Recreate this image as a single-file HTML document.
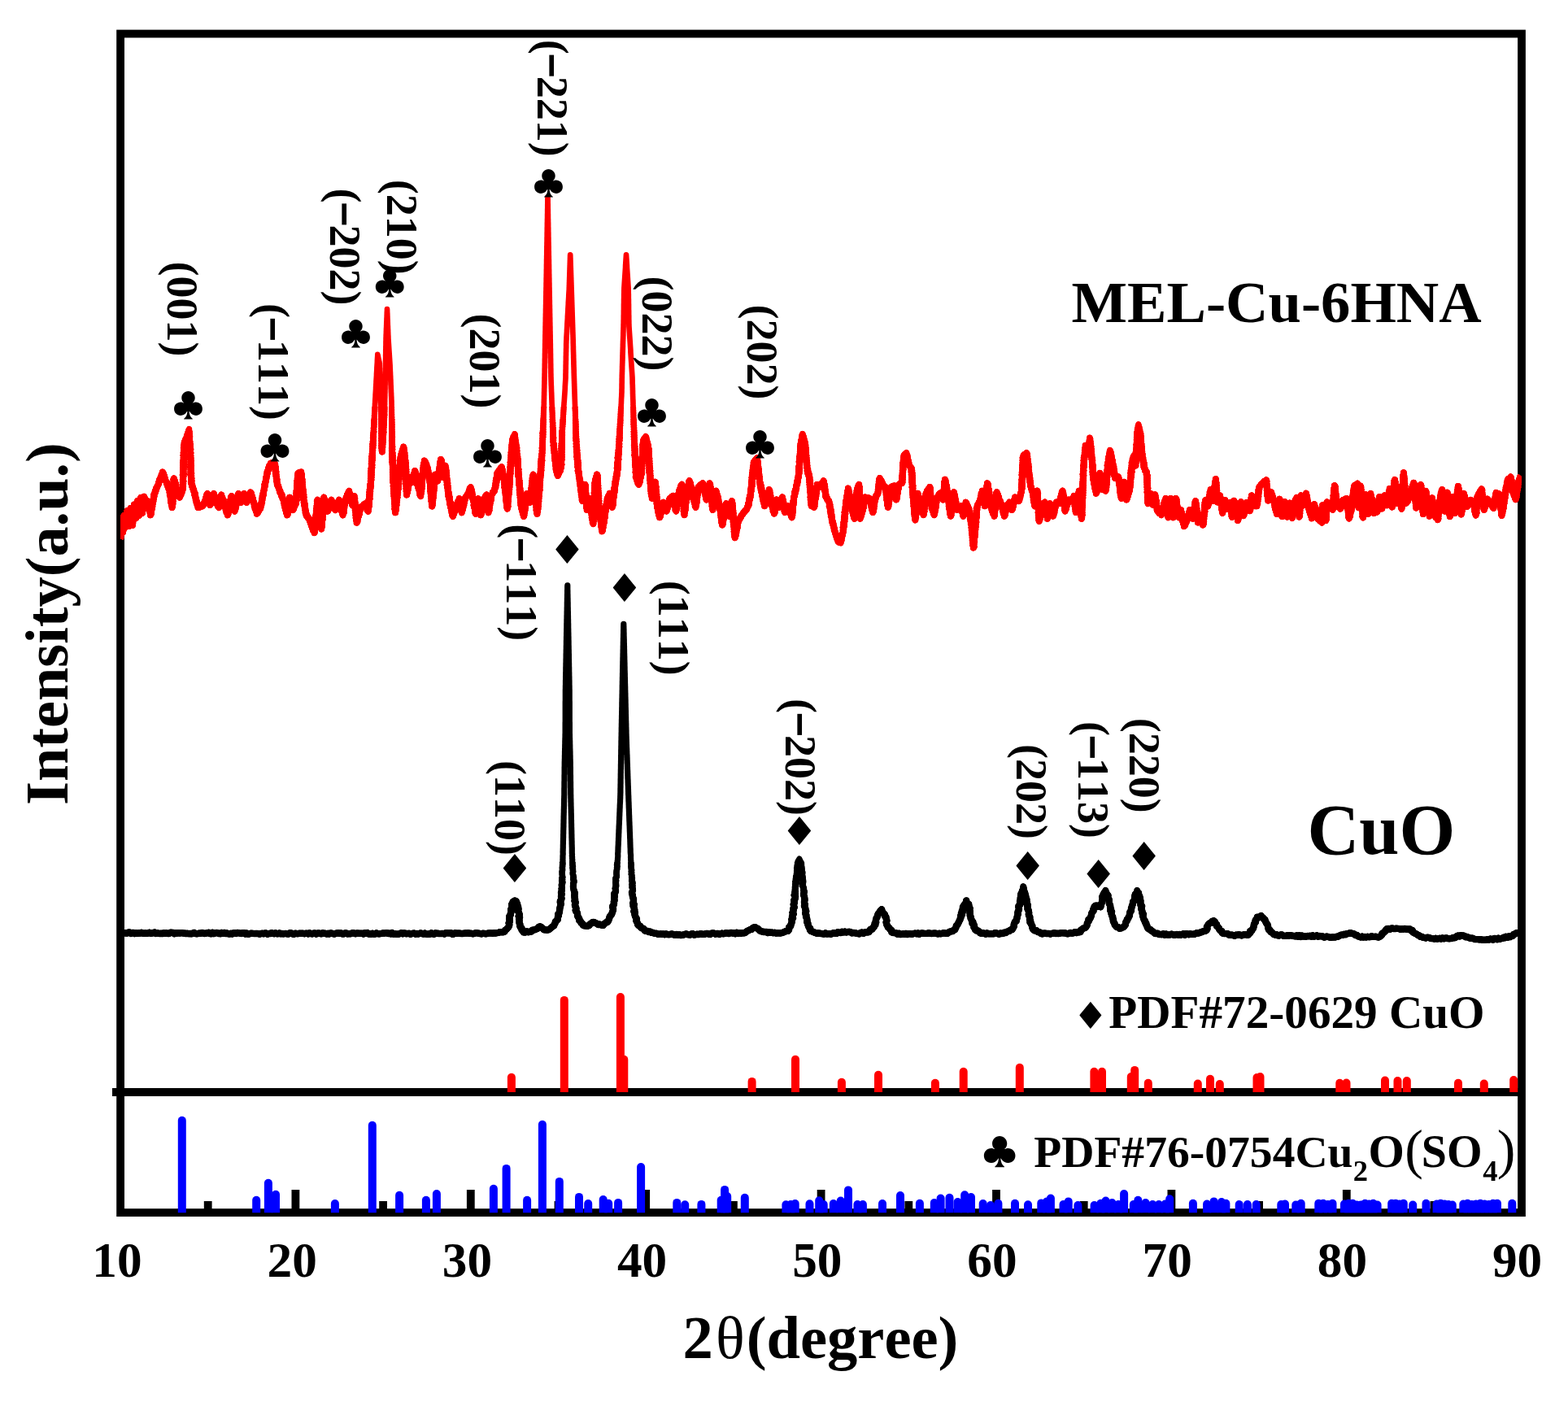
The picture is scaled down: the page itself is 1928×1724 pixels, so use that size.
<!DOCTYPE html>
<html lang="en"><head><meta charset="utf-8"><title>XRD patterns of MEL-Cu-6HNA and CuO</title>
<style>html,body{margin:0;padding:0;background:#fff;overflow:hidden}svg{display:block}text{font-family:"Liberation Serif","DejaVu Serif",serif;font-weight:bold;fill:#000}.sym{font-family:"DejaVu Sans","DejaVu Serif",sans-serif;font-weight:normal}</style></head><body>
<svg width="1928" height="1724" viewBox="0 0 1928 1724" role="img" aria-label="XRD patterns">
<rect x="0" y="0" width="1928" height="1724" fill="#fff"/>
<defs><clipPath id="plot"><rect x="148" y="41.5" width="1723" height="1449.7"/></clipPath><clipPath id="up"><rect x="148" y="41.5" width="1723" height="1301.4"/></clipPath></defs>
<g id="frame" fill="none" stroke="#000" stroke-width="9.8">
<rect x="148.1" y="41.5" width="1722.9" height="1449.6"/>
<line x1="138" y1="1343" x2="1871" y2="1343"/>
</g>
<g id="ticks" stroke="#000" stroke-width="9.8">
<line x1="255.7" y1="1491" x2="255.7" y2="1477"/>
<line x1="363.4" y1="1491" x2="363.4" y2="1463"/>
<line x1="471.1" y1="1491" x2="471.1" y2="1477"/>
<line x1="578.8" y1="1491" x2="578.8" y2="1463"/>
<line x1="686.5" y1="1491" x2="686.5" y2="1477"/>
<line x1="794.2" y1="1491" x2="794.2" y2="1463"/>
<line x1="901.9" y1="1491" x2="901.9" y2="1477"/>
<line x1="1009.6" y1="1491" x2="1009.6" y2="1463"/>
<line x1="1117.3" y1="1491" x2="1117.3" y2="1477"/>
<line x1="1225.0" y1="1491" x2="1225.0" y2="1463"/>
<line x1="1332.7" y1="1491" x2="1332.7" y2="1477"/>
<line x1="1440.4" y1="1491" x2="1440.4" y2="1463"/>
<line x1="1548.1" y1="1491" x2="1548.1" y2="1477"/>
<line x1="1655.8" y1="1491" x2="1655.8" y2="1463"/>
<line x1="1763.5" y1="1491" x2="1763.5" y2="1477"/>
</g>
<g id="ref-cuo" stroke="#ff0000" stroke-width="10" stroke-linecap="round" clip-path="url(#up)">
<line x1="628.9" y1="1351" x2="628.9" y2="1324.8"/>
<line x1="693.8" y1="1351" x2="693.8" y2="1229.9"/>
<line x1="762.9" y1="1351" x2="762.9" y2="1226.0"/>
<line x1="767.3" y1="1351" x2="767.3" y2="1302.7"/>
<line x1="924.6" y1="1351" x2="924.6" y2="1329.9"/>
<line x1="978.0" y1="1351" x2="978.0" y2="1302.7"/>
<line x1="1034.9" y1="1351" x2="1034.9" y2="1330.7"/>
<line x1="1080.0" y1="1351" x2="1080.0" y2="1321.7"/>
<line x1="1149.9" y1="1351" x2="1149.9" y2="1331.8"/>
<line x1="1184.7" y1="1351" x2="1184.7" y2="1317.8"/>
<line x1="1253.8" y1="1351" x2="1253.8" y2="1312.7"/>
<line x1="1345.4" y1="1351" x2="1345.4" y2="1317.8"/>
<line x1="1355.0" y1="1351" x2="1355.0" y2="1317.8"/>
<line x1="1390.8" y1="1351" x2="1390.8" y2="1324.0"/>
<line x1="1395.2" y1="1351" x2="1395.2" y2="1315.9"/>
<line x1="1411.8" y1="1351" x2="1411.8" y2="1331.8"/>
<line x1="1472.8" y1="1351" x2="1472.8" y2="1332.5"/>
<line x1="1488.0" y1="1351" x2="1488.0" y2="1326.8"/>
<line x1="1499.8" y1="1351" x2="1499.8" y2="1333.0"/>
<line x1="1545.5" y1="1351" x2="1545.5" y2="1325.0"/>
<line x1="1549.5" y1="1351" x2="1549.5" y2="1324.0"/>
<line x1="1647.3" y1="1351" x2="1647.3" y2="1331.8"/>
<line x1="1655.5" y1="1351" x2="1655.5" y2="1331.5"/>
<line x1="1703.0" y1="1351" x2="1703.0" y2="1328.5"/>
<line x1="1718.5" y1="1351" x2="1718.5" y2="1329.0"/>
<line x1="1729.8" y1="1351" x2="1729.8" y2="1329.0"/>
<line x1="1793.0" y1="1351" x2="1793.0" y2="1331.8"/>
<line x1="1824.8" y1="1351" x2="1824.8" y2="1332.5"/>
<line x1="1861.2" y1="1351" x2="1861.2" y2="1328.0"/>
</g>
<g id="ref-cu2oso4" stroke="#0000ff" stroke-width="10" stroke-linecap="round" clip-path="url(#plot)">
<line x1="223.8" y1="1499.2" x2="223.8" y2="1377.8"/>
<line x1="315.2" y1="1499.2" x2="315.2" y2="1475.8"/>
<line x1="329.9" y1="1499.2" x2="329.9" y2="1454.8"/>
<line x1="339.0" y1="1499.2" x2="339.0" y2="1468.8"/>
<line x1="411.9" y1="1499.2" x2="411.9" y2="1480.0"/>
<line x1="457.8" y1="1499.2" x2="457.8" y2="1383.7"/>
<line x1="491.1" y1="1499.2" x2="491.1" y2="1469.7"/>
<line x1="523.9" y1="1499.2" x2="523.9" y2="1475.8"/>
<line x1="536.9" y1="1499.2" x2="536.9" y2="1468.0"/>
<line x1="606.9" y1="1499.2" x2="606.9" y2="1461.8"/>
<line x1="622.6" y1="1499.2" x2="622.6" y2="1436.9"/>
<line x1="648.1" y1="1499.2" x2="648.1" y2="1475.8"/>
<line x1="666.9" y1="1499.2" x2="666.9" y2="1382.8"/>
<line x1="687.8" y1="1499.2" x2="687.8" y2="1452.9"/>
<line x1="712.0" y1="1499.2" x2="712.0" y2="1471.9"/>
<line x1="723.2" y1="1499.2" x2="723.2" y2="1480.0"/>
<line x1="741.7" y1="1499.2" x2="741.7" y2="1475.0"/>
<line x1="748.2" y1="1499.2" x2="748.2" y2="1479.7"/>
<line x1="760.1" y1="1499.2" x2="760.1" y2="1478.9"/>
<line x1="788.1" y1="1499.2" x2="788.1" y2="1435.0"/>
<line x1="832.3" y1="1499.2" x2="832.3" y2="1478.9"/>
<line x1="842.2" y1="1499.2" x2="842.2" y2="1481.3"/>
<line x1="862.4" y1="1499.2" x2="862.4" y2="1480.9"/>
<line x1="886.7" y1="1499.2" x2="886.7" y2="1475.8"/>
<line x1="891.1" y1="1499.2" x2="891.1" y2="1462.9"/>
<line x1="894.2" y1="1499.2" x2="894.2" y2="1471.0"/>
<line x1="915.8" y1="1499.2" x2="915.8" y2="1472.7"/>
<line x1="966.4" y1="1499.2" x2="966.4" y2="1481.3"/>
<line x1="972.3" y1="1499.2" x2="972.3" y2="1481.0"/>
<line x1="977.7" y1="1499.2" x2="977.7" y2="1480.0"/>
<line x1="995.5" y1="1499.2" x2="995.5" y2="1480.3"/>
<line x1="1007.2" y1="1499.2" x2="1007.2" y2="1476.3"/>
<line x1="1012.7" y1="1499.2" x2="1012.7" y2="1481.0"/>
<line x1="1024.8" y1="1499.2" x2="1024.8" y2="1480.0"/>
<line x1="1033.7" y1="1499.2" x2="1033.7" y2="1476.6"/>
<line x1="1043.0" y1="1499.2" x2="1043.0" y2="1463.4"/>
<line x1="1054.4" y1="1499.2" x2="1054.4" y2="1481.0"/>
<line x1="1060.9" y1="1499.2" x2="1060.9" y2="1481.0"/>
<line x1="1085.0" y1="1499.2" x2="1085.0" y2="1480.0"/>
<line x1="1107.0" y1="1499.2" x2="1107.0" y2="1470.0"/>
<line x1="1130.9" y1="1499.2" x2="1130.9" y2="1479.7"/>
<line x1="1148.8" y1="1499.2" x2="1148.8" y2="1479.0"/>
<line x1="1156.6" y1="1499.2" x2="1156.6" y2="1473.5"/>
<line x1="1167.5" y1="1499.2" x2="1167.5" y2="1472.7"/>
<line x1="1177.6" y1="1499.2" x2="1177.6" y2="1478.0"/>
<line x1="1186.2" y1="1499.2" x2="1186.2" y2="1469.3"/>
<line x1="1194.0" y1="1499.2" x2="1194.0" y2="1472.0"/>
<line x1="1208.7" y1="1499.2" x2="1208.7" y2="1480.0"/>
<line x1="1218.0" y1="1499.2" x2="1218.0" y2="1482.0"/>
<line x1="1227.4" y1="1499.2" x2="1227.4" y2="1479.7"/>
<line x1="1248.0" y1="1499.2" x2="1248.0" y2="1479.7"/>
<line x1="1264.0" y1="1499.2" x2="1264.0" y2="1481.3"/>
<line x1="1280.3" y1="1499.2" x2="1280.3" y2="1479.4"/>
<line x1="1287.2" y1="1499.2" x2="1287.2" y2="1477.4"/>
<line x1="1291.9" y1="1499.2" x2="1291.9" y2="1473.5"/>
<line x1="1307.5" y1="1499.2" x2="1307.5" y2="1481.0"/>
<line x1="1313.7" y1="1499.2" x2="1313.7" y2="1477.4"/>
<line x1="1325.4" y1="1499.2" x2="1325.4" y2="1482.0"/>
<line x1="1345.6" y1="1499.2" x2="1345.6" y2="1482.0"/>
<line x1="1353.4" y1="1499.2" x2="1353.4" y2="1479.7"/>
<line x1="1359.6" y1="1499.2" x2="1359.6" y2="1476.6"/>
<line x1="1367.4" y1="1499.2" x2="1367.4" y2="1479.0"/>
<line x1="1375.1" y1="1499.2" x2="1375.1" y2="1481.0"/>
<line x1="1382.1" y1="1499.2" x2="1382.1" y2="1468.0"/>
<line x1="1393.8" y1="1499.2" x2="1393.8" y2="1481.0"/>
<line x1="1399.3" y1="1499.2" x2="1399.3" y2="1475.8"/>
<line x1="1408.6" y1="1499.2" x2="1408.6" y2="1479.0"/>
<line x1="1417.2" y1="1499.2" x2="1417.2" y2="1481.0"/>
<line x1="1424.9" y1="1499.2" x2="1424.9" y2="1481.0"/>
<line x1="1432.7" y1="1499.2" x2="1432.7" y2="1480.5"/>
<line x1="1438.2" y1="1499.2" x2="1438.2" y2="1474.3"/>
<line x1="1466.9" y1="1499.2" x2="1466.9" y2="1479.7"/>
<line x1="1484.1" y1="1499.2" x2="1484.1" y2="1480.5"/>
<line x1="1492.6" y1="1499.2" x2="1492.6" y2="1477.4"/>
<line x1="1502.0" y1="1499.2" x2="1502.0" y2="1478.0"/>
<line x1="1507.4" y1="1499.2" x2="1507.4" y2="1479.7"/>
<line x1="1523.7" y1="1499.2" x2="1523.7" y2="1481.0"/>
<line x1="1533.9" y1="1499.2" x2="1533.9" y2="1481.0"/>
<line x1="1544.7" y1="1499.2" x2="1544.7" y2="1481.0"/>
<line x1="1575.3" y1="1499.2" x2="1575.3" y2="1481.0"/>
<line x1="1580.0" y1="1499.2" x2="1580.0" y2="1480.5"/>
<line x1="1593.3" y1="1499.2" x2="1593.3" y2="1481.5"/>
<line x1="1599.7" y1="1499.2" x2="1599.7" y2="1479.7"/>
<line x1="1621.3" y1="1499.2" x2="1621.3" y2="1479.7"/>
<line x1="1627.0" y1="1499.2" x2="1627.0" y2="1479.7"/>
<line x1="1632.8" y1="1499.2" x2="1632.8" y2="1481.0"/>
<line x1="1638.5" y1="1499.2" x2="1638.5" y2="1479.7"/>
<line x1="1653.0" y1="1499.2" x2="1653.0" y2="1480.5"/>
<line x1="1658.1" y1="1499.2" x2="1658.1" y2="1479.7"/>
<line x1="1663.2" y1="1499.2" x2="1663.2" y2="1479.7"/>
<line x1="1668.2" y1="1499.2" x2="1668.2" y2="1481.5"/>
<line x1="1673.3" y1="1499.2" x2="1673.3" y2="1481.5"/>
<line x1="1678.4" y1="1499.2" x2="1678.4" y2="1479.7"/>
<line x1="1683.4" y1="1499.2" x2="1683.4" y2="1480.5"/>
<line x1="1688.5" y1="1499.2" x2="1688.5" y2="1479.7"/>
<line x1="1693.6" y1="1499.2" x2="1693.6" y2="1481.5"/>
<line x1="1711.2" y1="1499.2" x2="1711.2" y2="1479.7"/>
<line x1="1716.1" y1="1499.2" x2="1716.1" y2="1479.7"/>
<line x1="1720.9" y1="1499.2" x2="1720.9" y2="1480.5"/>
<line x1="1725.8" y1="1499.2" x2="1725.8" y2="1479.7"/>
<line x1="1737.2" y1="1499.2" x2="1737.2" y2="1481.5"/>
<line x1="1753.5" y1="1499.2" x2="1753.5" y2="1479.7"/>
<line x1="1766.6" y1="1499.2" x2="1766.6" y2="1480.5"/>
<line x1="1771.4" y1="1499.2" x2="1771.4" y2="1479.7"/>
<line x1="1776.2" y1="1499.2" x2="1776.2" y2="1480.5"/>
<line x1="1781.0" y1="1499.2" x2="1781.0" y2="1481.0"/>
<line x1="1785.8" y1="1499.2" x2="1785.8" y2="1481.5"/>
<line x1="1799.3" y1="1499.2" x2="1799.3" y2="1480.5"/>
<line x1="1804.5" y1="1499.2" x2="1804.5" y2="1479.7"/>
<line x1="1809.7" y1="1499.2" x2="1809.7" y2="1481.0"/>
<line x1="1814.9" y1="1499.2" x2="1814.9" y2="1480.5"/>
<line x1="1820.2" y1="1499.2" x2="1820.2" y2="1479.7"/>
<line x1="1825.4" y1="1499.2" x2="1825.4" y2="1480.5"/>
<line x1="1830.6" y1="1499.2" x2="1830.6" y2="1481.0"/>
<line x1="1835.8" y1="1499.2" x2="1835.8" y2="1479.7"/>
<line x1="1841.0" y1="1499.2" x2="1841.0" y2="1479.7"/>
<line x1="1859.3" y1="1499.2" x2="1859.3" y2="1479.7"/>
</g>
<defs><polyline id="cuo-data" points="148.0,1147.3 149.6,1146.9 151.2,1147.4 152.9,1147.1 154.5,1147.5 156.1,1147.5 157.7,1146.6 159.3,1146.5 161.0,1147.9 162.6,1146.9 164.2,1146.9 165.8,1148.1 167.4,1147.3 169.0,1147.9 170.7,1147.3 172.3,1147.6 173.9,1146.8 175.5,1147.6 177.1,1147.9 178.8,1147.4 180.4,1147.7 182.0,1147.6 183.6,1146.7 185.2,1147.8 186.9,1147.5 188.5,1147.1 190.1,1146.6 191.7,1148.0 193.3,1147.3 195.0,1147.7 196.6,1148.0 198.2,1147.7 199.8,1148.1 201.4,1147.2 203.0,1147.9 204.7,1147.3 206.3,1148.1 207.9,1148.0 209.5,1146.8 211.1,1146.8 212.8,1147.0 214.4,1148.2 216.0,1147.3 217.6,1147.6 219.2,1147.1 220.9,1147.5 222.5,1147.3 224.1,1147.2 225.7,1147.6 227.3,1147.6 229.0,1148.1 230.6,1147.8 232.2,1148.2 233.8,1148.0 235.4,1148.3 237.0,1147.7 238.7,1146.9 240.3,1148.1 241.9,1148.2 243.5,1148.1 245.1,1147.6 246.8,1147.8 248.4,1147.0 250.0,1147.5 251.6,1148.0 253.2,1147.6 254.8,1147.2 256.5,1146.8 258.1,1148.1 259.7,1148.3 261.3,1146.9 262.9,1148.1 264.5,1147.4 266.1,1147.0 267.7,1147.3 269.4,1148.0 271.0,1148.2 272.6,1146.9 274.2,1147.8 275.8,1146.9 277.4,1148.0 279.0,1147.4 280.6,1148.3 282.3,1148.5 283.9,1147.7 285.5,1148.5 287.1,1147.4 288.7,1147.1 290.3,1147.9 291.9,1147.0 293.6,1147.3 295.2,1147.6 296.8,1148.0 298.4,1147.2 300.0,1147.1 301.6,1148.4 303.2,1147.5 304.8,1148.6 306.4,1148.5 308.1,1147.7 309.7,1147.8 311.3,1147.9 312.9,1148.1 314.5,1148.0 316.1,1148.0 317.7,1148.1 319.4,1148.6 321.0,1147.9 322.6,1147.8 324.2,1148.3 325.8,1147.5 327.4,1147.6 329.0,1148.7 330.6,1148.0 332.3,1148.1 333.9,1147.2 335.5,1147.9 337.1,1148.2 338.7,1147.3 340.3,1148.2 341.9,1148.3 343.6,1147.4 345.2,1148.3 346.8,1148.0 348.4,1148.4 350.0,1148.1 351.6,1147.9 353.2,1148.4 354.8,1148.5 356.4,1147.3 358.1,1147.4 359.7,1148.4 361.3,1148.8 362.9,1147.7 364.5,1148.0 366.1,1148.2 367.7,1147.8 369.4,1147.8 371.0,1147.7 372.6,1147.8 374.2,1148.2 375.8,1147.7 377.4,1147.8 379.0,1148.4 380.6,1147.3 382.3,1148.1 383.9,1148.4 385.5,1147.7 387.1,1147.5 388.7,1148.5 390.3,1147.6 391.9,1147.5 393.5,1147.9 395.2,1148.3 396.8,1147.3 398.4,1147.7 400.0,1147.7 401.6,1148.5 403.2,1147.8 404.8,1148.5 406.5,1147.4 408.1,1147.7 409.7,1148.2 411.3,1148.5 412.9,1147.8 414.5,1147.5 416.1,1147.3 417.7,1147.9 419.4,1147.4 421.0,1148.4 422.6,1148.4 424.2,1147.4 425.8,1147.5 427.4,1148.4 429.0,1148.1 430.6,1148.3 432.3,1147.6 433.9,1147.3 435.5,1147.5 437.1,1148.3 438.7,1147.5 440.3,1147.6 441.9,1147.7 443.5,1147.7 445.2,1147.7 446.8,1148.5 448.4,1147.3 450.0,1147.8 451.6,1147.0 453.2,1148.5 454.8,1148.4 456.4,1148.6 458.0,1147.7 459.6,1148.6 461.2,1148.5 462.9,1147.4 464.5,1148.2 466.1,1148.4 467.7,1148.1 469.3,1147.9 470.9,1147.5 472.5,1147.6 474.1,1147.4 475.7,1147.2 477.3,1148.0 478.9,1147.6 480.5,1148.4 482.1,1147.2 483.7,1148.6 485.4,1148.2 487.0,1148.6 488.6,1148.6 490.2,1148.6 491.8,1148.1 493.4,1147.2 495.0,1148.3 496.6,1147.4 498.2,1147.6 499.8,1148.2 501.4,1148.0 503.0,1147.8 504.6,1148.7 506.2,1148.2 507.9,1147.7 509.5,1147.6 511.1,1148.6 512.7,1148.0 514.3,1148.5 515.9,1147.8 517.5,1147.5 519.1,1148.1 520.7,1148.5 522.3,1147.5 523.9,1148.5 525.5,1148.7 527.1,1148.5 528.7,1148.6 530.4,1147.3 532.0,1148.3 533.6,1148.7 535.2,1147.4 536.8,1147.7 538.4,1147.7 540.0,1148.1 541.6,1148.1 543.2,1148.0 544.9,1148.0 546.5,1148.5 548.1,1147.2 549.7,1147.3 551.4,1147.4 553.0,1147.4 554.6,1147.3 556.3,1148.7 557.9,1148.5 559.5,1147.3 561.1,1147.9 562.7,1147.6 564.4,1147.6 566.0,1147.7 567.6,1148.1 569.3,1148.0 570.9,1147.6 572.5,1147.4 574.1,1147.6 575.7,1147.2 577.4,1147.9 579.0,1147.8 580.0,1147.9 581.7,1148.3 583.5,1147.7 585.2,1147.2 586.9,1147.4 588.6,1147.7 590.4,1148.1 592.1,1148.4 593.8,1147.7 595.6,1147.9 597.3,1148.3 599.0,1147.9 600.7,1147.5 602.5,1147.4 604.2,1147.5 605.9,1147.7 607.7,1147.2 609.4,1147.5 611.1,1147.1 613.0,1146.8 614.8,1146.1 616.7,1146.3 618.6,1146.2 620.5,1145.6 621.1,1143.8 622.7,1142.8 623.9,1141.4 625.1,1140.1 626.0,1138.5 626.3,1136.9 625.6,1135.1 626.7,1133.5 626.8,1131.8 626.2,1130.0 626.7,1128.4 626.4,1126.6 627.8,1125.1 627.8,1123.4 628.4,1121.8 628.5,1120.1 628.2,1118.3 628.9,1116.9 629.4,1115.3 629.5,1113.7 629.2,1112.0 630.3,1110.6 630.6,1109.0 632.9,1107.5 634.6,1108.1 635.2,1109.8 636.1,1111.3 635.5,1113.2 637.0,1114.6 637.2,1116.3 637.5,1118.0 636.6,1119.9 637.6,1121.5 638.3,1123.1 638.8,1124.8 637.7,1126.6 639.0,1128.2 638.1,1130.0 638.6,1131.7 638.5,1133.4 638.6,1135.1 639.4,1136.7 639.2,1138.5 639.9,1140.1 641.5,1141.3 641.5,1143.5 642.8,1144.8 643.8,1146.4 645.8,1146.5 647.6,1145.3 649.7,1146.2 651.6,1145.6 653.4,1145.6 654.4,1143.7 656.1,1143.6 657.8,1143.2 659.4,1142.4 661.2,1141.7 662.3,1140.0 664.0,1139.3 665.9,1140.3 667.4,1141.6 668.7,1143.2 670.8,1143.4 672.8,1143.6 674.9,1143.2 676.4,1141.9 677.9,1140.6 679.5,1139.4 681.1,1138.3 681.7,1136.6 682.6,1135.1 682.9,1133.3 684.2,1132.1 685.7,1130.9 685.8,1129.0 686.0,1127.4 686.9,1125.9 686.3,1124.1 687.5,1122.7 687.9,1121.1 688.1,1119.5 688.2,1117.9 688.5,1116.3 688.9,1114.7 689.3,1113.0 689.8,1111.4 688.8,1109.6 688.9,1107.9 690.1,1106.3 690.5,1104.7 690.0,1102.9 690.1,1101.2 690.7,1099.6 690.0,1097.8 690.3,1096.2 690.8,1094.5 690.4,1092.9 691.0,1091.3 690.7,1089.6 690.6,1088.0 691.3,1086.4 691.6,1084.8 690.9,1083.1 691.4,1081.5 691.1,1079.9 691.6,1078.3 691.4,1076.7 691.2,1075.0 691.2,1073.4 691.1,1071.8 691.5,1070.2 691.5,1068.6 691.4,1066.9 691.6,1065.3 691.6,1063.7 691.9,1062.1 691.6,1060.5 692.1,1058.8 691.9,1057.2 692.0,1055.6 692.0,1054.0 692.0,1052.4 692.2,1050.7 692.2,1049.1 692.1,1047.5 692.2,1045.9 692.2,1044.3 692.3,1042.6 692.3,1041.0 692.3,1039.4 692.4,1037.8 692.4,1036.1 692.4,1034.5 692.5,1032.9 692.5,1031.3 692.6,1029.7 692.6,1028.0 692.6,1026.4 692.7,1024.8 692.7,1023.2 692.7,1021.6 692.8,1019.9 692.8,1018.3 692.9,1016.7 692.9,1015.1 692.9,1013.5 693.0,1011.8 693.0,1010.2 693.0,1008.6 693.1,1007.0 693.1,1005.4 693.1,1003.7 693.2,1002.1 693.2,1000.5 693.3,998.9 693.3,997.2 693.3,995.6 693.4,994.0 693.4,992.4 693.5,990.8 693.5,989.1 693.5,987.5 693.6,985.9 693.6,984.3 693.6,982.7 693.7,981.0 693.7,979.4 693.8,977.8 693.8,976.2 693.8,974.6 693.8,972.9 693.8,971.3 693.8,969.7 693.9,968.1 693.9,966.5 693.9,964.8 693.9,963.2 693.9,961.6 694.0,960.0 694.0,958.3 694.0,956.7 694.0,955.1 694.0,953.5 694.1,951.9 694.1,950.2 694.1,948.6 694.1,947.0 694.1,945.4 694.1,943.8 694.2,942.1 694.2,940.5 694.2,938.9 694.2,937.3 694.3,935.7 694.3,934.0 694.4,932.4 694.4,930.8 694.4,929.2 694.5,927.6 694.5,925.9 694.5,924.3 694.6,922.7 694.6,921.1 694.7,919.5 694.7,917.8 694.7,916.2 694.8,914.6 694.8,913.0 694.8,911.3 694.9,909.7 694.9,908.1 695.0,906.5 695.0,904.9 695.0,903.2 695.1,901.6 695.1,900.0 695.1,898.4 695.1,896.8 695.1,895.2 695.1,893.5 695.1,891.9 695.1,890.3 695.1,888.7 695.2,887.1 695.2,885.5 695.2,883.9 695.2,882.3 695.2,880.6 695.2,879.0 695.2,877.4 695.2,875.8 695.2,874.2 695.2,872.6 695.2,871.0 695.2,869.4 695.2,867.7 695.2,866.1 695.2,864.5 695.2,862.9 695.3,861.3 695.3,859.7 695.3,858.1 695.3,856.5 695.3,854.8 695.3,853.2 695.3,851.6 695.3,850.0 695.3,848.4 695.4,846.7 695.4,845.1 695.4,843.5 695.5,841.9 695.5,840.2 695.5,838.6 695.5,837.0 695.6,835.3 695.6,833.7 695.6,832.1 695.7,830.5 695.7,828.8 695.7,827.2 695.8,825.6 695.8,824.0 695.8,822.3 695.8,820.7 695.9,819.1 695.9,817.4 695.9,815.8 696.0,814.2 696.0,812.6 696.0,810.9 696.1,809.3 696.1,807.7 696.1,806.0 696.1,804.4 696.2,802.8 696.2,801.2 696.2,799.5 696.3,797.9 696.3,796.3 696.3,794.7 696.4,793.0 696.4,791.4 696.4,789.8 696.4,788.1 696.5,786.5 696.5,784.9 696.5,783.3 696.6,781.6 696.6,780.0 696.6,778.4 696.7,776.7 696.7,775.1 696.7,773.5 696.8,771.9 696.8,770.2 696.8,768.6 696.8,767.0 696.9,765.4 696.9,763.7 696.9,762.1 697.0,760.5 697.0,758.8 697.0,757.2 697.1,755.6 697.1,754.0 697.1,752.3 697.2,750.7 697.2,749.1 697.2,747.5 697.3,745.8 697.3,744.2 697.3,742.6 697.3,741.0 697.4,739.3 697.4,737.7 697.4,736.1 697.5,734.4 697.5,732.8 697.5,731.2 697.6,729.6 697.6,727.9 697.6,726.3 697.7,724.7 697.7,723.1 697.7,721.4 697.8,719.8 697.8,721.4 697.8,723.1 697.8,724.7 697.9,726.3 697.9,727.9 697.9,729.6 698.0,731.2 698.0,732.8 698.0,734.4 698.1,736.1 698.1,737.7 698.1,739.3 698.2,741.0 698.2,742.6 698.2,744.2 698.2,745.8 698.3,747.5 698.3,749.1 698.3,750.7 698.4,752.3 698.4,754.0 698.4,755.6 698.5,757.2 698.5,758.8 698.5,760.5 698.6,762.1 698.6,763.7 698.6,765.4 698.7,767.0 698.7,768.6 698.7,770.2 698.7,771.9 698.8,773.5 698.8,775.1 698.8,776.7 698.9,778.4 698.9,780.0 698.9,781.6 699.0,783.3 699.0,784.9 699.0,786.5 699.1,788.1 699.1,789.8 699.1,791.4 699.1,793.0 699.2,794.7 699.2,796.3 699.2,797.9 699.3,799.5 699.3,801.2 699.3,802.8 699.4,804.4 699.4,806.0 699.4,807.7 699.4,809.3 699.5,810.9 699.5,812.6 699.5,814.2 699.6,815.8 699.6,817.4 699.6,819.1 699.7,820.7 699.7,822.3 699.7,824.0 699.7,825.6 699.8,827.2 699.8,828.8 699.8,830.5 699.9,832.1 699.9,833.7 699.9,835.3 700.0,837.0 700.0,838.6 700.0,840.2 700.0,841.9 700.1,843.5 700.1,845.1 700.1,846.7 700.2,848.4 700.2,850.0 700.2,851.6 700.2,853.2 700.2,854.8 700.2,856.5 700.2,858.1 700.2,859.7 700.2,861.3 700.3,862.9 700.3,864.5 700.3,866.1 700.3,867.7 700.3,869.4 700.3,871.0 700.3,872.6 700.3,874.2 700.3,875.8 700.3,877.4 700.3,879.0 700.3,880.6 700.3,882.3 700.3,883.9 700.3,885.5 700.3,887.1 700.4,888.7 700.4,890.3 700.4,891.9 700.4,893.5 700.4,895.2 700.4,896.8 700.4,898.4 700.4,900.0 700.4,901.6 700.5,903.2 700.5,904.9 700.5,906.5 700.6,908.1 700.6,909.7 700.7,911.3 700.7,913.0 700.7,914.6 700.8,916.2 700.8,917.8 700.8,919.5 700.9,921.1 700.9,922.7 701.0,924.3 701.0,925.9 701.0,927.6 701.1,929.2 701.1,930.8 701.1,932.4 701.2,934.0 701.2,935.7 701.3,937.3 701.3,938.9 701.3,940.5 701.3,942.1 701.4,943.8 701.4,945.4 701.4,947.0 701.4,948.6 701.4,950.2 701.4,951.9 701.5,953.5 701.5,955.1 701.5,956.7 701.5,958.3 701.5,960.0 701.6,961.6 701.6,963.2 701.6,964.8 701.6,966.5 701.6,968.1 701.7,969.7 701.7,971.3 701.7,972.9 701.7,974.6 701.7,976.2 701.8,977.8 701.8,979.4 701.8,981.0 701.9,982.7 701.9,984.3 701.9,985.9 702.0,987.5 702.0,989.1 702.0,990.8 702.1,992.4 702.1,994.0 702.2,995.6 702.2,997.2 702.2,998.9 702.3,1000.5 702.3,1002.1 702.4,1003.7 702.4,1005.4 702.4,1007.0 702.5,1008.6 702.5,1010.2 702.5,1011.8 702.6,1013.5 702.6,1015.1 702.6,1016.7 702.7,1018.3 702.7,1019.9 702.8,1021.6 702.8,1023.2 702.8,1024.8 702.9,1026.4 702.9,1028.0 702.9,1029.7 703.0,1031.3 703.0,1032.9 703.1,1034.5 703.1,1036.1 703.1,1037.8 703.2,1039.4 703.2,1041.0 703.3,1042.6 703.3,1044.3 703.3,1045.9 703.3,1047.5 703.3,1049.1 703.5,1050.7 703.3,1052.4 703.6,1054.0 703.5,1055.6 703.8,1057.2 703.6,1058.8 703.9,1060.5 703.9,1062.1 703.9,1063.7 704.4,1065.3 704.0,1067.0 704.4,1068.6 704.4,1070.2 704.6,1071.8 704.3,1073.4 704.4,1075.1 704.9,1076.7 705.2,1078.3 705.1,1079.9 705.1,1081.5 705.6,1083.1 705.6,1084.8 704.9,1086.4 705.1,1088.0 704.8,1089.7 704.9,1091.3 705.1,1092.9 705.7,1094.5 706.1,1096.1 706.6,1097.7 706.5,1099.4 706.4,1101.1 706.5,1102.8 706.6,1104.4 707.1,1106.0 706.5,1107.8 707.6,1109.3 707.4,1111.0 706.9,1112.7 707.2,1114.3 708.2,1115.9 708.5,1117.6 707.7,1119.3 708.4,1120.9 709.7,1122.2 710.1,1123.9 710.0,1125.7 710.6,1127.3 711.7,1128.7 712.4,1130.2 712.3,1132.0 713.9,1132.9 714.5,1134.8 716.1,1135.7 716.7,1137.6 718.5,1138.3 720.6,1138.6 722.7,1138.7 724.7,1137.8 725.6,1136.2 727.1,1135.4 728.3,1134.2 730.2,1133.9 732.0,1134.8 733.9,1135.8 735.6,1137.0 737.8,1136.6 739.7,1137.6 741.8,1137.8 742.6,1136.2 744.1,1135.4 745.3,1134.2 747.1,1133.8 748.0,1132.3 748.7,1130.6 749.3,1128.9 749.7,1127.1 751.0,1125.7 752.1,1124.2 752.7,1122.5 753.2,1120.9 753.9,1119.2 754.0,1117.5 753.3,1115.7 753.4,1114.0 754.7,1112.5 755.0,1110.8 754.8,1109.0 755.5,1107.4 755.4,1105.7 755.2,1103.9 755.8,1102.3 755.4,1100.6 755.3,1099.0 756.4,1097.5 756.9,1095.9 757.0,1094.3 756.5,1092.6 756.9,1091.0 757.4,1089.5 757.3,1087.8 757.2,1086.2 757.1,1084.6 757.4,1083.0 757.1,1081.3 757.3,1079.7 757.9,1078.2 758.3,1076.6 758.0,1074.9 758.0,1073.3 758.1,1071.7 758.3,1070.1 758.7,1068.5 758.6,1066.9 759.0,1065.3 758.6,1063.6 758.9,1062.0 759.1,1060.4 759.2,1058.8 759.5,1057.2 759.5,1055.6 759.7,1054.0 759.8,1052.4 759.7,1050.7 759.7,1049.1 759.9,1047.5 759.9,1045.9 760.0,1044.3 760.0,1042.6 760.1,1041.0 760.2,1039.4 760.3,1037.8 760.3,1036.1 760.4,1034.5 760.5,1032.9 760.5,1031.3 760.6,1029.7 760.7,1028.0 760.7,1026.4 760.8,1024.8 760.9,1023.2 760.9,1021.6 761.0,1019.9 761.1,1018.3 761.1,1016.7 761.2,1015.1 761.3,1013.5 761.4,1011.8 761.4,1010.2 761.5,1008.6 761.6,1007.0 761.6,1005.4 761.7,1003.7 761.8,1002.1 761.8,1000.5 761.9,998.9 762.0,997.2 762.0,995.6 762.1,994.0 762.2,992.4 762.2,990.8 762.3,989.1 762.4,987.5 762.5,985.9 762.5,984.3 762.6,982.7 762.7,981.0 762.7,979.4 762.8,977.8 762.8,976.2 762.9,974.6 762.9,972.9 762.9,971.3 762.9,969.7 763.0,968.1 763.0,966.4 763.0,964.8 763.1,963.2 763.1,961.6 763.1,959.9 763.1,958.3 763.2,956.7 763.2,955.1 763.2,953.5 763.2,951.8 763.3,950.2 763.3,948.6 763.3,947.0 763.4,945.3 763.4,943.7 763.4,942.1 763.4,940.5 763.5,938.8 763.5,937.2 763.5,935.6 763.6,934.0 763.6,932.3 763.6,930.7 763.6,929.1 763.7,927.5 763.7,925.9 763.7,924.2 763.7,922.6 763.8,921.0 763.8,919.4 763.8,917.7 763.9,916.1 763.9,914.5 763.9,912.9 763.9,911.2 764.0,909.6 764.0,908.0 764.0,906.4 764.1,904.8 764.1,903.1 764.1,901.5 764.2,899.9 764.2,898.2 764.2,896.6 764.2,895.0 764.3,893.4 764.3,891.8 764.3,890.1 764.4,888.5 764.4,886.9 764.4,885.2 764.5,883.6 764.5,882.0 764.5,880.4 764.6,878.8 764.6,877.1 764.6,875.5 764.7,873.9 764.7,872.2 764.7,870.6 764.8,869.0 764.8,867.4 764.8,865.8 764.8,864.1 764.9,862.5 764.9,860.9 764.9,859.2 765.0,857.6 765.0,856.0 765.0,854.4 765.1,852.8 765.1,851.1 765.1,849.5 765.2,847.9 765.2,846.2 765.2,844.6 765.2,843.0 765.3,841.4 765.3,839.8 765.3,838.1 765.4,836.5 765.4,834.9 765.4,833.2 765.5,831.6 765.5,830.0 765.5,828.4 765.6,826.8 765.6,825.2 765.6,823.6 765.7,822.0 765.7,820.4 765.7,818.7 765.8,817.1 765.8,815.5 765.8,813.9 765.9,812.3 765.9,810.7 765.9,809.1 766.0,807.5 766.0,805.9 766.0,804.3 766.1,802.7 766.1,801.1 766.1,799.5 766.2,797.8 766.2,796.2 766.2,794.6 766.3,793.0 766.3,791.4 766.3,789.8 766.4,788.2 766.4,786.6 766.4,785.0 766.5,783.4 766.5,781.8 766.5,780.2 766.6,778.6 766.6,776.9 766.6,775.3 766.7,773.7 766.7,772.1 766.7,770.5 766.8,768.9 766.8,767.3 766.8,768.9 766.9,770.5 766.9,772.1 767.0,773.7 767.0,775.3 767.0,776.9 767.1,778.6 767.1,780.2 767.1,781.8 767.2,783.4 767.2,785.0 767.3,786.6 767.3,788.2 767.3,789.8 767.4,791.4 767.4,793.0 767.5,794.6 767.5,796.2 767.5,797.8 767.6,799.5 767.6,801.1 767.6,802.7 767.7,804.3 767.7,805.9 767.8,807.5 767.8,809.1 767.8,810.7 767.9,812.3 767.9,813.9 768.0,815.5 768.0,817.1 768.0,818.7 768.1,820.4 768.1,822.0 768.1,823.6 768.2,825.2 768.2,826.8 768.3,828.4 768.3,830.0 768.3,831.6 768.4,833.2 768.4,834.9 768.5,836.5 768.5,838.1 768.5,839.8 768.6,841.4 768.6,843.0 768.7,844.6 768.7,846.2 768.7,847.9 768.8,849.5 768.8,851.1 768.9,852.8 768.9,854.4 768.9,856.0 769.0,857.6 769.0,859.2 769.1,860.9 769.1,862.5 769.1,864.1 769.2,865.8 769.2,867.4 769.2,869.0 769.3,870.6 769.3,872.2 769.4,873.9 769.4,875.5 769.4,877.1 769.5,878.8 769.5,880.4 769.6,882.0 769.6,883.6 769.6,885.2 769.7,886.9 769.7,888.5 769.8,890.1 769.8,891.8 769.8,893.4 769.9,895.0 769.9,896.6 770.0,898.2 770.0,899.9 770.0,901.5 770.1,903.1 770.1,904.8 770.2,906.4 770.2,908.0 770.3,909.6 770.3,911.2 770.4,912.9 770.4,914.5 770.5,916.1 770.5,917.7 770.6,919.4 770.7,921.0 770.7,922.6 770.8,924.2 770.8,925.9 770.9,927.5 771.0,929.1 771.0,930.7 771.1,932.3 771.1,934.0 771.2,935.6 771.2,937.2 771.3,938.8 771.4,940.5 771.4,942.1 771.5,943.7 771.5,945.3 771.6,947.0 771.7,948.6 771.7,950.2 771.8,951.8 771.8,953.5 771.9,955.1 771.9,956.7 772.0,958.3 772.1,959.9 772.1,961.6 772.2,963.2 772.2,964.8 772.3,966.4 772.4,968.1 772.4,969.7 772.5,971.3 772.5,972.9 772.6,974.6 772.6,976.2 772.7,977.8 772.8,979.4 772.8,981.0 772.9,982.7 772.9,984.3 773.0,985.9 773.1,987.5 773.1,989.1 773.2,990.8 773.2,992.4 773.3,994.0 773.4,995.6 773.4,997.2 773.5,998.9 773.5,1000.5 773.6,1002.1 773.7,1003.7 773.7,1005.4 773.8,1007.0 773.8,1008.6 773.9,1010.2 774.0,1011.8 774.0,1013.5 774.1,1015.1 774.2,1016.7 774.2,1018.3 774.3,1019.9 774.3,1021.6 774.4,1023.2 774.5,1024.8 774.5,1026.4 774.6,1028.0 774.6,1029.7 774.7,1031.3 774.8,1032.9 774.8,1034.5 774.9,1036.1 774.9,1037.8 775.0,1039.4 775.0,1041.0 775.1,1042.6 775.2,1044.3 775.2,1045.9 775.2,1047.5 775.3,1049.1 775.5,1050.7 775.6,1052.4 775.5,1054.0 775.6,1055.6 775.6,1057.2 775.8,1058.8 775.8,1060.4 775.9,1062.0 776.2,1063.6 775.9,1065.3 776.1,1066.9 776.3,1068.5 776.6,1070.1 776.3,1071.7 776.6,1073.3 776.3,1074.9 776.9,1076.5 776.8,1078.1 777.1,1079.7 777.0,1081.4 776.9,1083.0 777.5,1084.6 777.7,1086.2 777.2,1087.8 777.7,1089.4 777.3,1091.0 777.9,1092.6 778.1,1094.2 777.5,1095.9 777.0,1097.5 777.2,1099.1 777.8,1100.7 777.9,1102.3 778.3,1103.9 779.0,1105.5 778.9,1107.3 779.0,1108.9 778.2,1110.7 779.7,1112.2 778.6,1114.0 779.5,1115.6 779.8,1117.3 780.3,1118.9 779.4,1120.7 780.8,1122.2 780.4,1123.9 780.7,1125.6 781.3,1127.2 782.3,1128.6 782.9,1130.2 782.3,1132.2 783.2,1133.7 783.9,1135.3 784.2,1136.9 785.4,1138.3 787.1,1138.7 787.9,1140.4 789.2,1141.4 791.0,1141.7 792.1,1142.9 793.0,1144.5 794.7,1144.8 796.4,1145.0 797.7,1146.1 799.5,1145.6 800.9,1146.8 802.6,1146.7 804.1,1147.5 805.6,1147.9 807.3,1147.8 808.9,1148.7 810.6,1148.6 812.3,1148.4 813.9,1148.8 815.6,1148.5 817.3,1149.2 819.0,1148.4 820.6,1149.0 822.3,1149.2 824.0,1149.0 825.7,1148.5 827.3,1148.8 829.0,1149.5 830.6,1149.6 832.2,1148.9 833.9,1149.8 835.5,1149.3 837.2,1150.0 838.8,1149.8 840.4,1149.5 842.1,1148.9 843.7,1148.4 845.3,1149.1 847.0,1149.4 848.6,1149.6 850.2,1148.5 851.9,1148.3 853.6,1149.6 855.2,1149.2 856.8,1148.7 858.5,1149.1 860.1,1148.7 861.7,1148.1 863.4,1148.7 865.0,1148.8 866.6,1148.7 868.2,1147.9 869.9,1147.9 871.5,1148.6 873.2,1149.0 874.8,1147.7 876.4,1147.5 878.0,1147.6 879.7,1148.6 881.3,1148.0 883.0,1148.0 884.6,1148.9 886.2,1148.2 887.8,1147.6 889.5,1148.3 891.1,1147.9 892.8,1147.1 894.4,1147.5 896.1,1148.1 897.7,1147.2 899.4,1146.9 901.1,1147.6 902.7,1147.3 904.4,1148.2 906.0,1146.8 907.7,1147.9 909.4,1147.2 911.1,1147.8 912.7,1147.1 914.4,1147.4 916.0,1147.1 917.4,1145.9 918.9,1144.8 920.6,1144.1 922.2,1143.2 924.0,1142.9 925.2,1141.5 926.7,1140.5 928.5,1140.1 930.1,1141.2 932.0,1141.9 933.3,1143.4 934.7,1144.8 936.2,1145.3 937.8,1145.6 939.3,1146.1 941.0,1146.0 942.7,1146.0 944.0,1147.1 945.7,1146.4 947.4,1146.9 949.2,1146.6 950.9,1147.2 952.6,1146.8 954.3,1147.5 956.0,1147.3 957.7,1147.4 959.4,1147.5 961.1,1147.1 962.7,1146.7 964.2,1146.1 965.7,1145.4 967.2,1144.6 968.9,1144.8 970.0,1143.4 970.3,1141.7 970.3,1139.9 972.2,1138.8 972.4,1137.1 973.1,1135.5 973.6,1133.9 973.7,1132.2 973.4,1130.5 975.0,1129.0 974.0,1127.2 974.5,1125.5 975.7,1124.0 974.5,1122.2 975.4,1120.6 975.6,1118.9 975.4,1117.2 976.7,1115.7 976.1,1113.9 975.7,1112.1 976.7,1110.6 976.8,1108.9 976.2,1107.2 977.4,1105.7 977.8,1104.1 978.0,1102.4 976.7,1100.7 977.8,1099.1 977.4,1097.4 977.8,1095.8 977.6,1094.2 977.8,1092.5 977.7,1090.9 978.5,1089.3 977.9,1087.6 979.1,1086.0 978.1,1084.3 979.3,1082.8 978.6,1081.1 979.0,1079.4 978.8,1077.7 979.6,1076.1 979.5,1074.4 979.8,1072.7 979.7,1071.0 980.0,1069.3 979.7,1067.5 980.3,1065.9 980.3,1064.2 980.7,1062.5 980.6,1060.8 981.1,1059.1 982.0,1057.6 982.9,1056.1 983.6,1057.7 984.3,1059.3 985.3,1060.8 985.4,1062.5 985.4,1064.2 985.6,1065.9 985.9,1067.6 986.0,1069.3 986.0,1071.0 986.7,1072.6 986.6,1074.3 986.3,1076.1 986.9,1077.7 986.8,1079.4 987.0,1081.1 987.3,1082.7 987.4,1084.3 987.1,1086.0 987.1,1087.7 987.0,1089.3 987.7,1090.9 988.2,1092.5 988.2,1094.2 988.7,1095.8 988.6,1097.4 988.2,1099.1 988.2,1100.7 988.9,1102.3 989.2,1104.0 989.4,1105.6 989.4,1107.2 989.0,1108.9 989.1,1110.6 989.8,1112.2 989.0,1114.0 989.7,1115.6 990.3,1117.2 990.4,1118.9 991.2,1120.5 990.3,1122.3 990.5,1124.0 991.4,1125.5 991.0,1127.3 992.0,1128.9 992.3,1130.5 992.5,1132.2 992.3,1133.9 993.4,1135.3 993.4,1137.1 994.1,1138.7 994.6,1140.3 996.2,1141.4 995.9,1143.4 996.9,1144.8 998.5,1145.4 1000.1,1145.9 1001.6,1146.7 1003.2,1147.2 1004.7,1147.9 1006.4,1147.4 1008.1,1147.7 1009.8,1148.1 1011.5,1148.3 1013.2,1148.6 1014.9,1147.4 1016.6,1148.5 1018.3,1148.4 1020.0,1148.2 1021.7,1148.7 1023.4,1147.9 1025.0,1147.1 1026.9,1147.8 1028.7,1147.8 1030.2,1146.3 1032.0,1146.8 1033.9,1147.1 1035.4,1145.8 1037.3,1146.4 1038.9,1145.6 1040.6,1146.5 1042.4,1146.0 1044.2,1145.8 1045.9,1146.2 1047.5,1147.4 1049.3,1147.0 1051.1,1147.1 1052.8,1147.6 1054.5,1147.9 1056.4,1148.4 1058.0,1147.1 1059.7,1146.5 1061.7,1147.7 1063.4,1146.5 1065.1,1146.4 1067.0,1146.4 1068.7,1145.9 1069.3,1144.0 1070.4,1142.7 1072.5,1142.7 1073.2,1140.8 1074.7,1140.1 1074.8,1138.4 1076.3,1137.2 1075.7,1135.3 1077.2,1134.1 1076.8,1132.3 1077.2,1130.7 1077.6,1129.1 1078.5,1127.7 1079.0,1126.2 1079.4,1124.6 1080.4,1122.9 1081.7,1121.5 1082.6,1119.7 1084.1,1118.3 1084.6,1120.2 1085.4,1121.8 1086.6,1123.2 1088.0,1124.6 1087.8,1126.2 1089.4,1127.5 1089.5,1129.1 1090.0,1130.7 1090.4,1132.2 1089.6,1134.1 1090.1,1135.6 1090.4,1137.2 1091.4,1138.6 1091.8,1140.1 1093.5,1141.1 1094.4,1142.8 1096.1,1143.9 1096.3,1146.2 1098.1,1147.1 1099.9,1147.0 1101.7,1147.3 1103.4,1148.6 1105.4,1147.7 1107.1,1149.1 1109.0,1148.7 1110.6,1148.3 1112.3,1148.9 1113.9,1147.9 1115.6,1149.1 1117.2,1148.3 1118.8,1148.2 1120.5,1148.6 1122.1,1148.5 1123.8,1147.9 1125.4,1147.6 1127.1,1148.3 1128.7,1147.4 1130.4,1148.7 1132.0,1147.8 1133.7,1147.5 1135.3,1147.7 1137.0,1147.9 1140.0,1147.9 1141.7,1147.3 1143.3,1147.6 1145.0,1148.0 1146.7,1147.8 1148.3,1147.6 1150.0,1147.6 1151.7,1147.9 1153.3,1148.4 1155.0,1147.8 1156.7,1148.3 1158.3,1147.9 1160.0,1147.3 1161.7,1147.4 1163.3,1147.9 1165.1,1147.8 1166.4,1146.5 1167.9,1145.7 1169.6,1145.3 1171.3,1145.1 1172.6,1143.7 1174.2,1143.2 1174.8,1141.6 1175.6,1140.0 1175.9,1138.2 1177.4,1137.0 1178.1,1135.4 1178.9,1133.9 1179.6,1132.3 1180.5,1130.8 1180.8,1129.2 1181.6,1127.8 1181.2,1126.0 1182.9,1124.8 1182.0,1122.8 1183.6,1121.6 1182.9,1119.8 1184.3,1118.5 1183.9,1116.7 1184.0,1115.1 1185.1,1113.7 1186.0,1112.1 1187.2,1110.8 1188.0,1109.3 1188.2,1107.5 1188.5,1109.3 1189.1,1110.9 1191.2,1111.8 1191.3,1113.7 1191.9,1115.4 1192.6,1117.0 1191.9,1118.9 1192.7,1120.5 1192.5,1122.3 1192.8,1124.0 1192.7,1125.8 1193.6,1127.4 1193.6,1129.2 1194.5,1130.8 1195.0,1132.4 1196.3,1133.7 1195.6,1135.7 1197.4,1136.8 1198.0,1138.3 1197.5,1140.3 1198.9,1141.6 1199.1,1143.2 1200.6,1144.4 1202.6,1144.5 1204.0,1145.6 1205.2,1147.3 1206.9,1147.9 1208.6,1147.2 1210.2,1147.9 1211.9,1148.6 1213.5,1147.4 1215.2,1148.2 1216.8,1148.3 1218.5,1148.1 1220.1,1148.3 1221.8,1148.2 1223.4,1147.1 1225.1,1147.4 1226.7,1148.0 1228.4,1148.7 1230.1,1147.5 1231.7,1148.0 1233.4,1147.9 1234.7,1146.7 1236.7,1147.1 1238.0,1145.8 1239.6,1145.3 1241.2,1144.8 1242.5,1143.4 1244.3,1143.2 1245.3,1141.8 1246.1,1140.3 1246.9,1138.8 1246.7,1136.9 1247.3,1135.3 1247.9,1133.7 1249.7,1132.6 1249.7,1130.8 1250.5,1129.2 1250.6,1127.6 1251.1,1125.9 1251.7,1124.3 1251.4,1122.6 1251.7,1120.9 1252.6,1119.4 1253.0,1117.7 1252.5,1116.0 1252.4,1114.2 1254.1,1112.8 1254.0,1111.1 1254.1,1109.4 1254.1,1107.7 1255.3,1106.2 1254.7,1104.4 1255.1,1102.8 1255.1,1101.1 1255.3,1099.5 1256.1,1098.1 1256.8,1096.6 1256.9,1095.0 1258.1,1093.6 1258.1,1091.9 1258.3,1090.3 1258.7,1091.9 1258.8,1093.5 1259.3,1095.0 1259.6,1096.6 1260.2,1098.1 1260.6,1099.7 1261.0,1101.2 1261.4,1102.8 1261.1,1104.5 1262.4,1106.0 1261.7,1107.8 1262.8,1109.3 1262.2,1111.1 1263.7,1112.6 1263.3,1114.3 1263.7,1115.9 1263.5,1117.7 1264.6,1119.2 1264.8,1120.8 1265.2,1122.5 1264.8,1124.2 1265.1,1125.9 1266.3,1127.4 1266.3,1129.1 1266.0,1130.8 1267.1,1132.2 1266.5,1134.2 1267.9,1135.4 1268.3,1137.1 1269.3,1138.5 1269.3,1140.2 1269.7,1141.9 1270.7,1143.2 1272.1,1144.3 1274.2,1144.1 1275.4,1145.5 1276.9,1146.3 1278.8,1146.5 1280.0,1147.9 1281.7,1148.4 1283.3,1147.6 1285.0,1147.6 1286.6,1148.1 1288.2,1148.0 1289.9,1147.9 1291.5,1148.5 1293.1,1147.9 1294.8,1147.7 1296.4,1147.2 1298.1,1148.0 1299.7,1147.7 1301.3,1148.0 1303.0,1147.7 1304.6,1147.1 1306.2,1147.2 1307.9,1147.4 1309.5,1147.3 1311.2,1147.9 1312.9,1148.3 1314.6,1147.7 1316.3,1147.0 1318.1,1147.6 1319.8,1147.3 1321.5,1146.2 1323.3,1147.1 1324.9,1146.1 1326.7,1146.4 1328.6,1145.9 1329.0,1143.7 1330.5,1142.8 1331.8,1141.6 1333.8,1141.2 1335.1,1140.1 1336.1,1138.6 1336.8,1137.1 1336.8,1135.2 1337.8,1133.9 1338.8,1132.5 1338.5,1130.5 1340.4,1129.5 1340.9,1127.9 1341.7,1126.4 1342.0,1124.7 1342.3,1123.0 1343.2,1121.5 1344.5,1120.2 1344.3,1118.2 1345.1,1116.6 1345.6,1115.0 1347.0,1113.7 1348.6,1113.6 1349.9,1114.9 1351.8,1114.2 1353.2,1115.2 1353.9,1113.6 1353.8,1111.7 1354.9,1110.1 1355.1,1108.3 1355.4,1106.5 1356.0,1104.8 1355.2,1102.8 1356.3,1101.2 1356.7,1099.5 1357.7,1098.0 1358.5,1096.5 1359.4,1095.0 1359.9,1096.7 1360.4,1098.4 1361.4,1099.8 1362.5,1101.2 1362.1,1103.0 1362.8,1104.6 1363.7,1106.2 1363.7,1107.9 1363.7,1109.6 1363.9,1111.3 1364.9,1112.8 1365.2,1114.5 1365.1,1116.2 1366.0,1117.7 1365.3,1119.6 1367.0,1121.0 1366.3,1122.8 1366.9,1124.5 1367.2,1126.1 1368.2,1127.5 1368.2,1129.3 1369.0,1130.8 1368.8,1132.6 1369.5,1134.1 1370.5,1135.5 1370.7,1137.2 1371.8,1138.6 1373.1,1140.1 1375.3,1140.2 1376.5,1141.7 1378.3,1141.4 1379.9,1140.6 1381.5,1140.1 1382.7,1138.6 1383.8,1137.2 1384.0,1135.4 1384.4,1133.7 1385.7,1132.4 1385.8,1130.6 1387.3,1129.4 1387.7,1127.7 1388.7,1126.3 1389.0,1124.6 1389.2,1122.9 1389.5,1121.4 1390.9,1120.1 1391.0,1118.4 1391.0,1116.7 1391.7,1115.3 1392.0,1113.6 1392.7,1112.2 1393.0,1110.6 1393.1,1108.9 1394.6,1107.7 1394.9,1106.1 1395.1,1104.5 1395.2,1102.8 1395.5,1101.1 1396.0,1099.5 1397.4,1098.2 1398.1,1096.7 1398.3,1095.0 1398.7,1096.6 1400.0,1097.9 1399.8,1099.8 1400.8,1101.2 1401.4,1102.8 1401.9,1104.4 1401.9,1106.1 1402.4,1107.7 1402.3,1109.4 1402.5,1111.1 1402.4,1112.8 1404.1,1114.2 1403.6,1116.0 1403.3,1117.8 1404.1,1119.4 1404.5,1121.0 1404.4,1122.7 1405.9,1124.1 1405.0,1126.0 1405.6,1127.6 1406.1,1129.2 1406.6,1130.8 1407.7,1132.2 1407.9,1134.0 1409.3,1135.2 1409.4,1137.0 1410.4,1138.4 1410.7,1140.1 1411.6,1141.7 1413.0,1142.6 1414.7,1143.2 1415.7,1144.6 1417.3,1145.2 1418.5,1146.4 1420.0,1147.9 1421.7,1148.1 1423.5,1147.7 1425.1,1149.0 1426.9,1149.0 1428.6,1149.2 1430.4,1148.3 1432.1,1149.6 1433.9,1148.5 1435.6,1149.5 1437.2,1149.5 1438.8,1149.4 1440.5,1148.6 1442.1,1149.2 1443.8,1149.9 1445.4,1149.4 1447.0,1148.9 1448.7,1149.6 1450.3,1148.9 1452.0,1149.7 1453.6,1148.9 1455.2,1148.3 1456.9,1149.7 1458.5,1148.2 1460.1,1148.5 1461.8,1149.2 1463.4,1148.2 1465.0,1148.8 1466.7,1148.7 1468.4,1148.9 1469.8,1148.0 1471.3,1147.3 1473.0,1147.5 1474.6,1147.2 1476.0,1146.5 1477.6,1146.2 1479.1,1145.3 1480.6,1145.0 1482.2,1144.8 1483.7,1143.6 1484.5,1142.0 1483.9,1139.8 1484.9,1138.4 1485.7,1136.8 1486.9,1135.5 1489.0,1134.8 1490.3,1133.0 1492.4,1132.3 1493.9,1133.6 1494.2,1135.7 1496.1,1136.7 1496.1,1139.0 1497.8,1140.1 1498.9,1141.4 1499.4,1143.1 1500.5,1144.3 1502.3,1145.0 1502.6,1146.9 1504.0,1147.9 1505.8,1148.1 1507.7,1148.1 1509.5,1148.2 1511.1,1149.6 1512.9,1149.7 1514.8,1149.6 1516.5,1150.2 1518.2,1150.7 1519.8,1149.6 1521.6,1149.9 1523.2,1149.3 1525.0,1149.6 1526.7,1150.4 1528.4,1149.7 1530.0,1149.1 1531.7,1149.2 1533.5,1149.8 1535.1,1149.5 1535.7,1147.9 1537.4,1147.1 1537.2,1145.1 1539.2,1144.5 1539.8,1142.9 1540.9,1141.7 1541.4,1140.1 1541.7,1138.5 1541.9,1136.8 1542.6,1135.3 1543.9,1134.0 1543.6,1132.1 1544.3,1130.6 1545.9,1129.4 1546.0,1127.7 1547.8,1127.7 1549.3,1127.2 1550.7,1126.1 1551.5,1127.7 1553.0,1128.5 1553.8,1130.0 1555.4,1130.8 1555.7,1132.5 1556.5,1133.9 1557.2,1135.4 1558.4,1136.7 1558.9,1138.3 1559.2,1140.0 1559.5,1141.7 1560.0,1143.2 1561.7,1143.8 1562.2,1145.9 1563.9,1146.4 1565.0,1147.7 1566.1,1148.9 1567.8,1149.5 1569.5,1149.1 1571.1,1150.3 1572.8,1150.5 1574.5,1149.5 1576.2,1149.4 1577.8,1150.6 1579.5,1150.9 1581.1,1150.8 1582.8,1150.3 1584.5,1150.7 1586.2,1150.1 1587.9,1150.4 1589.5,1150.8 1591.2,1151.0 1592.8,1151.4 1594.4,1150.4 1596.1,1151.7 1597.7,1150.3 1599.4,1151.8 1601.0,1150.6 1602.6,1151.5 1604.3,1151.5 1605.9,1151.7 1607.5,1151.0 1609.2,1151.3 1610.8,1150.7 1612.5,1151.6 1614.1,1150.4 1615.7,1151.6 1617.4,1151.2 1619.0,1150.3 1620.6,1151.7 1622.3,1151.0 1624.3,1151.3 1626.3,1151.4 1628.0,1152.6 1629.7,1152.1 1631.4,1151.6 1633.2,1152.0 1634.9,1152.6 1636.7,1152.9 1638.4,1152.3 1640.1,1152.5 1641.9,1152.4 1643.6,1151.8 1645.2,1151.7 1646.6,1150.8 1648.1,1150.1 1649.6,1149.6 1651.4,1149.7 1652.8,1148.8 1654.6,1149.2 1655.9,1148.1 1657.6,1148.1 1659.1,1147.6 1660.7,1147.1 1662.2,1148.0 1664.0,1148.0 1665.5,1148.8 1666.8,1150.1 1668.6,1150.0 1669.9,1151.4 1671.6,1151.8 1673.2,1152.5 1674.9,1151.6 1676.5,1152.5 1678.2,1152.0 1679.9,1152.5 1681.5,1151.8 1683.2,1152.2 1684.8,1152.1 1686.5,1151.3 1688.2,1151.8 1689.8,1151.9 1691.5,1151.7 1693.1,1152.1 1694.8,1152.5 1696.5,1151.8 1697.9,1150.9 1699.1,1149.7 1699.4,1147.7 1701.2,1147.1 1702.2,1145.8 1703.7,1144.9 1704.2,1143.2 1705.6,1142.1 1707.2,1142.0 1709.1,1142.8 1710.5,1141.7 1712.1,1141.5 1713.8,1142.1 1715.5,1142.0 1717.1,1141.7 1718.8,1141.9 1720.5,1142.1 1722.1,1142.8 1723.8,1142.2 1725.5,1142.6 1727.2,1141.9 1728.8,1142.6 1730.5,1142.5 1732.1,1142.8 1733.8,1142.5 1734.7,1144.0 1736.7,1144.1 1737.1,1146.3 1738.7,1147.0 1740.0,1147.9 1741.8,1148.6 1743.2,1149.8 1745.0,1150.3 1746.3,1151.8 1748.1,1151.7 1749.7,1152.9 1751.5,1153.0 1753.2,1153.5 1755.1,1152.7 1756.9,1152.9 1758.5,1153.6 1760.3,1154.1 1761.9,1154.1 1763.6,1154.5 1765.3,1153.8 1766.9,1154.5 1768.6,1154.3 1770.3,1153.8 1771.9,1154.6 1773.6,1153.4 1775.3,1154.3 1776.9,1153.6 1778.6,1153.4 1780.3,1154.1 1781.9,1154.2 1783.6,1154.1 1785.2,1153.8 1786.7,1153.0 1788.5,1153.3 1790.0,1152.6 1791.2,1151.2 1792.7,1150.5 1794.7,1151.4 1796.0,1150.2 1797.6,1150.5 1799.3,1150.5 1800.9,1151.1 1802.2,1152.3 1804.0,1152.0 1805.4,1152.7 1806.9,1153.4 1808.6,1153.9 1810.4,1153.6 1812.1,1154.4 1813.8,1155.1 1815.5,1155.1 1817.3,1155.1 1819.0,1155.4 1820.8,1155.1 1822.5,1155.7 1824.2,1155.8 1825.9,1155.7 1827.5,1155.5 1829.2,1155.2 1830.9,1155.5 1832.5,1154.5 1834.2,1155.2 1835.9,1155.6 1837.5,1153.9 1839.1,1154.2 1840.9,1155.2 1842.5,1153.7 1844.2,1154.7 1845.8,1154.1 1847.4,1153.9 1848.8,1152.7 1850.6,1153.2 1851.9,1151.8 1853.8,1152.7 1855.1,1151.5 1856.9,1152.1 1858.3,1151.0 1860.1,1150.8 1861.1,1148.9 1862.9,1148.5 1864.3,1147.4 1866.1,1147.1 1868.5,1147.1 1870.7,1146.4"/><clipPath id="cuo-datac0"><rect x="148" y="1060" width="1723" height="140"/></clipPath><clipPath id="cuo-datac1"><rect x="148" y="1078" width="1723" height="122"/></clipPath><clipPath id="cuo-datac2"><rect x="148" y="1095" width="1723" height="105"/></clipPath></defs>
<g id="curve-cuo" fill="none" stroke="#000" stroke-linejoin="round">
<use href="#cuo-data" stroke-width="7.2" clip-path="url(#plot)"/>
<use href="#cuo-data" stroke-width="7.6" clip-path="url(#cuo-datac0)"/>
<use href="#cuo-data" stroke-width="8.0" clip-path="url(#cuo-datac1)"/>
<use href="#cuo-data" stroke-width="8.4" clip-path="url(#cuo-datac2)"/>
</g>
<defs><polyline id="mel-data" points="148.0,662.5 148.5,661.0 147.7,659.5 148.8,658.0 147.8,656.5 149.0,655.0 148.0,653.5 148.9,652.0 148.4,650.5 149.5,649.0 148.5,647.5 149.7,646.0 149.0,644.5 149.7,643.0 149.1,641.5 149.5,640.0 149.2,641.5 150.2,643.0 149.8,644.5 150.4,646.0 150.0,647.5 151.0,648.9 150.1,650.5 150.9,652.0 150.3,653.6 151.0,655.0 150.9,653.5 151.7,652.0 151.1,650.5 151.6,649.0 151.0,647.5 151.9,646.0 151.5,644.5 152.4,643.0 151.4,641.5 152.4,640.0 151.6,638.5 152.7,637.0 151.9,635.5 152.5,634.0 152.5,635.6 153.5,637.0 152.7,638.7 154.0,640.1 153.1,641.9 154.1,643.3 153.7,644.9 154.5,646.4 154.5,648.0 154.9,646.5 154.6,644.9 155.3,643.4 154.7,641.8 155.4,640.3 155.0,638.7 155.9,637.3 155.4,635.7 156.4,634.2 155.7,632.6 156.5,631.1 156.0,629.5 156.5,628.0 156.2,629.6 157.0,631.1 156.4,632.8 157.4,634.3 156.8,636.0 158.0,637.4 157.5,639.1 158.3,640.6 157.7,642.3 158.6,643.8 158.2,645.4 158.5,647.0 158.4,645.4 159.0,643.9 158.3,642.2 159.3,640.7 158.7,639.1 159.9,637.6 158.9,635.9 160.0,634.5 159.5,632.8 160.3,631.3 159.6,629.7 160.4,628.2 159.9,626.5 160.5,625.0 160.2,626.6 161.4,627.9 160.8,629.5 161.8,630.9 161.2,632.5 161.9,634.0 161.3,635.6 162.5,636.9 161.8,638.5 162.8,639.9 162.1,641.5 163.0,643.0 162.5,644.5 163.0,646.0 162.9,644.5 163.4,643.0 163.1,641.5 163.9,640.0 163.0,638.5 164.0,637.0 163.6,635.5 164.5,634.0 163.7,632.5 164.5,631.0 164.0,629.5 164.8,628.0 164.0,626.5 165.0,625.0 164.4,623.5 165.1,622.0 165.0,620.5 165.8,621.9 165.2,623.5 166.0,624.9 165.3,626.6 166.3,628.0 165.8,629.6 167.0,630.9 166.2,632.6 167.4,633.9 166.9,635.5 167.3,637.0 167.1,635.5 167.8,634.0 167.1,632.5 168.1,631.0 167.5,629.5 168.6,628.0 167.6,626.5 168.9,625.0 168.0,623.5 168.9,622.0 168.2,620.5 169.1,619.0 168.6,617.5 169.0,616.0 168.8,617.5 169.6,619.0 169.2,620.5 170.3,621.9 169.3,623.6 170.4,625.0 169.8,626.5 170.7,628.0 170.3,629.5 171.0,631.0 170.3,632.6 171.0,634.0 170.6,632.4 171.6,630.9 170.9,629.2 172.1,627.8 171.2,626.1 172.3,624.6 171.5,623.0 172.5,621.5 171.8,619.8 172.7,618.3 172.2,616.7 173.2,615.2 172.4,613.5 173.0,612.0 172.9,613.6 173.9,615.1 173.0,616.8 174.1,618.3 173.6,619.9 174.4,621.5 173.9,623.1 174.8,624.6 174.1,626.3 175.2,627.8 174.4,629.5 175.0,631.0 174.6,629.4 175.6,627.9 175.0,626.2 176.1,624.8 175.3,623.1 176.3,621.6 175.6,620.0 176.8,618.5 176.0,616.8 177.2,615.4 176.2,613.7 177.3,612.2 177.1,610.6 177.8,612.1 177.5,613.9 178.6,615.4 177.9,617.2 179.2,618.7 178.7,620.5 179.5,622.0 179.7,620.4 181.2,619.3 181.2,617.6 182.0,616.3 181.8,617.9 183.0,619.3 182.4,621.0 183.5,622.4 183.0,624.1 184.2,625.5 183.6,627.3 184.8,628.6 184.4,630.3 185.1,631.8 185.1,633.4 185.8,631.9 185.2,630.2 186.2,628.8 185.8,627.1 186.9,625.7 186.6,624.0 187.4,622.6 187.1,620.9 187.8,619.4 187.6,617.8 188.5,616.3 188.2,614.7 189.0,613.2 188.8,611.6 189.6,610.1 189.2,608.4 189.8,607.0 190.9,605.6 190.7,603.7 192.1,602.4 191.9,600.5 193.3,599.2 193.5,597.5 194.5,596.1 195.3,594.6 195.2,592.8 196.3,591.5 196.1,589.7 197.5,588.4 197.5,586.7 198.7,585.3 198.6,583.5 199.7,582.2 199.9,580.5 200.8,581.9 200.6,583.8 202.1,585.0 201.6,586.9 203.0,588.2 202.7,590.0 203.8,591.4 204.9,592.8 204.8,594.6 206.0,596.0 206.1,597.8 207.5,599.0 207.3,601.0 208.5,602.3 209.3,603.8 208.5,605.5 209.5,606.9 208.8,608.6 209.8,610.0 209.6,611.7 210.4,613.1 209.8,614.8 210.7,616.3 210.2,617.9 211.5,619.3 210.8,621.0 211.7,622.5 211.6,624.1 212.0,622.5 211.5,620.9 212.5,619.4 211.6,617.8 212.7,616.3 211.6,614.7 212.7,613.2 212.1,611.6 213.1,610.1 212.2,608.5 213.0,607.0 212.5,605.4 213.5,603.9 212.6,602.3 213.4,600.7 212.8,599.1 213.5,597.6 213.0,596.0 213.9,594.5 213.3,592.9 214.2,591.4 213.3,589.8 213.9,588.3 214.1,589.9 215.0,591.3 214.7,593.0 215.9,594.4 215.1,596.2 216.3,597.6 216.0,599.2 216.9,600.7 217.0,602.3 217.1,604.1 218.6,605.3 218.6,607.1 220.0,608.4 219.8,610.2 220.9,611.6 221.1,609.9 222.5,608.7 222.4,606.9 223.6,605.6 223.4,603.7 224.6,602.4 224.8,600.7 224.5,599.2 225.2,597.7 224.5,596.2 225.3,594.7 224.7,593.1 225.5,591.7 224.7,590.1 225.3,588.6 224.9,587.1 225.6,585.6 224.7,584.1 225.9,582.6 224.9,581.0 225.6,579.5 224.9,578.0 225.8,576.5 225.1,575.0 226.0,573.5 225.2,571.9 226.0,570.5 225.1,568.9 226.1,567.4 225.4,565.9 226.3,564.4 225.6,562.9 226.2,561.4 225.4,559.8 226.2,558.3 225.5,556.8 226.5,555.3 225.8,553.8 226.4,552.3 225.7,550.8 226.7,549.3 226.1,547.7 226.6,546.2 226.4,544.7 226.7,543.0 227.9,541.7 228.0,540.0 229.0,538.5 229.5,536.9 229.7,535.3 230.8,533.9 230.9,532.2 231.7,530.8 231.8,529.1 232.6,527.6 232.4,529.2 233.0,530.7 232.7,532.3 233.2,533.8 232.6,535.4 233.5,536.9 232.9,538.5 233.4,540.0 233.0,541.6 233.7,543.1 233.2,544.7 234.1,546.2 233.3,547.8 234.0,549.4 233.6,550.9 234.5,552.5 233.8,554.1 234.1,555.6 234.6,557.1 233.9,558.7 234.5,560.3 233.9,561.8 234.6,563.4 234.2,564.9 234.8,566.5 234.3,568.1 234.7,569.6 234.2,571.2 235.1,572.7 234.1,574.3 234.9,575.8 234.4,577.4 235.1,578.9 234.4,580.5 235.3,582.0 234.3,583.6 235.3,585.2 234.8,586.7 235.5,588.3 234.9,589.8 235.6,591.4 234.8,593.0 235.2,594.5 236.3,595.9 235.9,597.7 237.2,599.0 237.1,600.8 238.3,602.1 238.2,603.9 239.0,605.4 239.8,606.8 239.3,608.6 240.3,610.0 240.2,611.7 241.2,613.1 240.7,614.8 241.8,616.2 241.5,618.0 242.8,619.3 242.5,621.0 243.5,622.4 243.5,624.1 245.4,623.8 247.0,622.8 248.9,622.5 250.1,621.1 250.2,619.3 251.7,618.1 251.7,616.1 252.8,614.7 253.6,613.3 253.3,611.5 254.4,610.1 254.2,608.4 255.1,607.0 255.3,608.6 256.1,610.0 255.6,611.7 257.0,613.1 256.6,614.8 257.4,616.2 257.0,618.0 258.4,619.3 258.3,621.0 259.3,619.6 259.1,617.8 260.2,616.4 260.0,614.6 261.1,613.3 261.1,611.5 262.3,610.2 262.1,608.4 262.9,607.0 263.0,608.6 264.0,610.0 263.8,611.8 265.1,613.1 264.7,614.9 265.9,616.2 266.0,617.8 266.3,619.6 267.9,620.8 268.0,622.7 269.1,624.1 269.0,622.4 270.3,621.1 269.7,619.3 270.6,617.9 270.5,616.2 271.3,614.8 271.1,613.1 272.2,611.7 271.6,610.0 272.3,608.5 272.2,610.2 273.4,611.6 273.3,613.3 274.7,614.6 274.2,616.4 275.4,617.7 275.2,619.5 276.2,620.9 276.2,622.6 276.9,624.1 277.7,625.5 277.6,627.3 278.8,628.6 278.5,630.5 279.8,631.8 280.0,633.4 280.6,631.9 280.4,630.2 281.2,628.8 281.0,627.1 281.9,625.7 281.5,624.0 282.4,622.5 282.0,620.8 283.2,619.5 282.6,617.7 283.9,616.4 283.3,614.6 284.5,613.2 283.8,611.5 284.7,610.1 284.8,611.7 285.8,613.1 285.4,614.8 286.5,616.2 285.9,617.9 286.9,619.3 286.7,621.0 287.5,622.5 287.4,624.1 288.2,625.6 287.9,627.2 288.6,628.7 288.4,627.1 289.6,625.7 289.3,624.0 290.3,622.6 290.0,620.9 291.1,619.5 290.5,617.7 291.5,616.3 291.3,614.7 292.4,613.3 291.7,611.5 293.0,610.2 292.6,608.4 293.3,607.0 293.1,608.7 294.3,610.0 294.4,611.7 295.5,613.0 295.2,614.8 296.1,616.2 296.4,617.8 297.3,616.4 296.9,614.5 298.4,613.3 298.3,611.5 299.4,610.1 299.5,608.4 300.3,607.0 300.2,608.7 301.5,610.0 301.1,611.8 302.2,613.1 302.2,614.8 303.1,616.2 303.4,617.8 304.3,616.4 304.4,614.7 305.4,613.3 305.4,611.5 306.6,610.2 306.7,608.4 307.6,607.0 308.0,605.4 309.1,606.8 308.8,608.6 310.0,609.9 309.8,611.7 311.0,613.0 311.2,614.7 311.4,616.3 312.3,617.8 312.2,619.5 313.3,620.8 312.7,622.7 314.1,624.0 313.6,625.8 314.8,627.1 314.8,628.8 315.8,630.2 315.8,631.8 316.9,630.7 317.0,629.0 318.5,628.1 318.6,626.4 320.1,625.6 320.5,624.1 320.2,622.4 321.4,621.0 321.0,619.3 322.2,617.9 321.7,616.2 322.5,614.8 322.2,613.1 323.0,611.7 322.6,610.0 323.9,608.6 323.4,606.9 324.2,605.4 324.1,603.8 324.9,602.3 324.7,600.7 325.2,599.2 325.8,597.7 325.3,596.0 326.3,594.6 326.2,592.9 327.1,591.5 326.8,589.8 327.5,588.3 327.3,586.7 328.2,585.2 327.9,583.6 328.8,582.1 328.5,580.4 329.1,578.9 330.2,577.6 330.0,575.7 331.5,574.5 331.2,572.5 332.8,571.4 332.9,569.6 334.5,569.2 336.1,570.0 337.6,569.6 338.3,571.1 337.6,572.8 338.8,574.2 337.9,575.9 339.1,577.3 338.5,579.0 339.5,580.4 338.8,582.1 339.6,583.6 339.4,585.2 340.0,586.7 339.7,588.3 340.6,589.8 340.0,591.4 340.7,592.9 340.7,594.5 340.8,596.2 342.3,597.5 342.3,599.2 343.2,600.7 343.4,602.4 344.5,603.7 344.3,605.6 345.4,607.0 346.6,608.3 346.2,610.2 347.5,611.5 347.5,613.3 348.5,614.7 349.2,616.2 349.0,617.9 349.9,619.4 349.6,621.1 351.0,622.4 350.4,624.2 351.4,625.6 351.2,627.3 352.3,628.7 351.9,630.4 353.1,631.8 353.2,633.4 354.0,631.9 353.1,630.2 354.1,628.8 353.8,627.1 354.8,625.7 354.1,624.0 355.1,622.6 354.6,620.9 355.7,619.5 354.8,617.8 356.0,616.3 355.3,614.6 356.5,613.2 356.3,611.6 356.9,613.1 356.6,614.9 357.8,616.2 357.6,617.9 358.8,619.3 358.4,621.0 359.4,622.4 359.0,624.2 360.3,625.5 360.2,627.2 361.1,625.8 361.2,624.0 362.4,622.6 362.5,620.9 363.8,619.6 364.1,617.8 363.8,616.3 364.8,614.8 364.1,613.2 364.8,611.6 364.3,610.0 365.3,608.5 364.2,606.9 365.4,605.4 364.5,603.8 365.4,602.3 364.9,600.7 365.8,599.2 365.0,597.6 365.7,596.1 365.3,594.5 365.9,593.0 365.3,591.4 366.4,589.9 365.7,588.3 366.6,586.8 365.9,585.1 366.8,583.6 366.4,582.1 368.1,580.8 370.3,580.5 370.0,582.1 371.1,583.6 370.4,585.2 371.0,586.7 370.6,588.3 371.6,589.8 371.0,591.4 371.8,592.9 371.3,594.5 371.9,596.0 371.5,597.6 372.3,599.1 371.8,600.8 372.7,602.2 372.1,603.9 373.1,605.3 372.2,607.0 373.4,608.5 372.5,610.1 373.6,611.6 372.9,613.2 373.4,614.7 374.2,616.2 373.6,617.9 374.6,619.3 374.0,621.0 375.1,622.4 374.7,624.1 375.4,625.6 375.3,627.2 376.1,628.7 375.6,630.4 376.7,631.8 376.5,633.4 377.1,634.9 378.7,635.5 379.0,637.3 380.4,638.1 381.2,639.4 381.0,641.1 382.2,642.3 382.0,643.9 383.4,645.0 383.0,646.8 384.6,647.9 384.1,649.6 385.6,650.7 385.1,652.5 386.5,653.6 386.6,655.2 387.0,653.7 386.5,652.2 387.6,650.7 386.9,649.2 387.9,647.8 387.1,646.2 388.0,644.7 387.6,643.2 388.3,641.7 387.8,640.2 388.7,638.7 387.8,637.2 389.1,635.8 388.2,634.2 389.1,632.7 388.7,631.2 389.5,629.8 388.8,628.2 389.8,626.8 389.2,625.2 390.2,623.8 389.5,622.2 390.2,620.8 389.8,619.2 390.7,617.8 389.8,616.2 390.5,614.7 390.5,616.3 391.3,617.7 390.6,619.3 391.6,620.7 391.3,622.2 392.1,623.6 391.4,625.2 392.6,626.6 391.8,628.2 392.8,629.6 392.3,631.2 393.3,632.6 392.5,634.2 393.5,635.6 393.1,637.1 394.1,638.5 393.2,640.2 394.3,641.5 394.0,643.1 394.6,644.5 394.2,646.1 395.2,647.5 394.7,649.1 395.2,650.5 395.0,649.0 395.9,647.6 395.1,646.0 396.1,644.6 395.3,643.0 396.1,641.6 395.6,640.0 396.7,638.6 395.7,637.0 396.7,635.6 396.0,634.0 397.1,632.6 396.2,631.0 397.1,629.6 396.5,628.0 397.6,626.6 396.8,625.1 397.6,623.6 397.2,622.1 397.8,620.6 397.5,619.1 398.1,617.6 397.5,616.1 398.3,614.6 397.7,613.1 398.3,611.6 398.3,613.3 399.7,614.6 399.1,616.4 400.5,617.7 399.9,619.5 401.4,620.8 400.8,622.6 402.3,623.9 401.9,625.7 402.8,627.1 403.0,628.7 403.7,627.2 403.8,625.5 404.8,624.2 404.7,622.4 406.0,621.1 405.6,619.2 406.8,617.9 406.8,616.2 407.6,614.7 407.8,616.4 409.1,617.7 409.2,619.5 410.4,620.8 410.2,622.6 411.6,623.9 411.4,625.8 412.3,627.2 412.3,625.4 414.0,624.3 413.9,622.4 415.1,621.1 414.8,619.2 416.1,617.9 416.2,616.2 417.0,614.7 417.0,616.4 418.1,617.8 417.7,619.5 419.1,620.8 418.6,622.6 419.6,624.0 419.3,625.7 420.5,627.1 420.0,628.9 421.3,630.2 421.0,631.9 421.6,633.4 421.6,631.8 422.7,630.4 422.0,628.7 422.8,627.2 422.5,625.6 423.4,624.1 423.0,622.4 423.9,621.0 423.6,619.4 424.4,617.9 424.0,616.2 424.7,614.7 425.9,613.4 425.6,611.5 427.0,610.2 426.8,608.3 428.2,607.0 428.4,605.3 429.3,603.8 429.2,605.5 430.2,606.9 429.9,608.6 431.1,610.0 430.9,611.7 431.7,613.1 431.4,614.8 432.5,616.2 432.1,617.9 433.1,619.4 433.2,621.0 433.8,619.5 433.3,617.7 434.6,616.4 434.2,614.7 435.1,613.2 434.9,611.6 435.6,610.1 435.1,611.7 436.3,613.1 435.6,614.8 436.4,616.3 436.0,617.9 437.0,619.4 436.2,621.0 437.2,622.5 436.3,624.1 437.5,625.6 436.7,627.2 437.5,628.7 437.3,630.3 438.1,631.8 437.4,633.4 438.5,634.9 437.6,636.6 438.8,638.0 438.0,639.7 439.1,641.1 438.7,642.7 439.5,641.3 438.9,639.5 440.1,638.1 439.7,636.4 441.0,635.0 440.4,633.3 442.0,632.0 441.5,630.2 442.5,628.8 442.3,627.1 443.3,625.7 443.3,624.1 444.5,622.7 446.4,622.1 447.3,620.4 448.8,619.4 449.2,621.1 450.4,622.4 450.5,624.1 451.7,625.5 451.5,627.4 452.7,628.7 452.3,627.1 453.2,625.6 452.9,624.0 453.8,622.6 452.8,620.9 454.0,619.4 453.4,617.8 454.1,616.3 453.4,614.7 454.7,613.2 454.0,611.6 454.6,610.1 454.2,608.5 454.9,607.0 454.3,605.3 455.3,603.9 454.6,602.2 455.5,600.7 455.0,599.1 456.1,597.7 455.2,596.0 455.8,594.5 456.1,593.0 455.7,591.5 456.5,590.0 455.8,588.4 456.6,587.0 455.9,585.4 456.8,583.9 455.9,582.4 456.8,580.9 456.2,579.4 457.0,577.9 456.4,576.3 457.4,574.9 456.8,573.3 457.5,571.8 456.7,570.3 457.4,568.8 456.8,567.2 457.8,565.8 457.1,564.2 458.0,562.8 457.2,561.2 458.0,559.7 457.5,558.2 458.1,556.7 457.7,555.2 458.4,553.7 458.0,552.1 458.6,550.6 458.1,549.1 458.8,547.6 458.1,546.1 458.9,544.6 458.4,543.0 459.2,541.6 458.9,540.0 458.6,538.5 459.4,537.0 458.7,535.5 459.4,534.0 459.1,532.5 459.7,531.0 459.3,529.5 459.7,528.0 459.3,526.5 459.9,525.0 459.6,523.5 460.1,522.0 459.7,520.5 460.1,519.0 459.8,517.4 460.2,516.0 460.1,514.4 460.4,512.9 460.2,511.4 460.5,509.9 460.4,508.4 460.6,506.9 460.6,505.4 460.8,503.9 460.7,502.4 460.9,500.9 460.9,499.4 461.0,497.9 461.0,496.4 461.2,494.9 461.2,493.4 461.3,491.8 461.4,490.3 461.5,488.8 461.6,487.3 461.6,485.8 461.7,484.3 461.8,482.8 461.9,481.2 462.0,479.7 462.1,478.2 462.1,476.7 462.2,475.2 462.3,473.7 462.4,472.2 462.5,470.6 462.5,469.1 462.6,467.6 462.7,466.1 462.8,464.6 462.9,463.1 463.0,461.5 463.0,460.0 463.1,458.5 463.2,457.0 463.3,455.5 463.4,454.0 463.4,452.5 463.5,450.9 463.6,449.4 463.7,447.9 463.8,446.4 463.9,444.9 463.9,443.4 464.0,441.8 464.1,440.3 464.2,438.8 464.3,437.3 464.3,435.8 464.7,437.3 465.0,438.9 465.3,440.5 465.7,442.0 466.0,443.6 466.3,445.1 466.7,446.7 466.7,448.2 466.8,449.7 466.8,451.2 466.9,452.7 466.9,454.2 466.9,455.8 467.0,457.3 467.0,458.8 467.1,460.3 467.1,461.8 467.2,463.3 467.2,464.8 467.2,466.3 467.3,467.9 467.3,469.4 467.4,470.9 467.4,472.4 467.5,473.9 467.5,475.4 467.5,476.9 467.6,478.4 467.6,480.0 467.7,481.5 467.7,483.0 467.8,484.5 467.8,486.0 467.8,487.5 467.9,489.0 467.9,490.6 468.0,492.1 468.0,493.6 468.1,495.1 468.1,496.6 468.2,498.1 468.2,499.6 468.3,501.1 468.2,502.7 468.4,504.2 468.2,505.7 468.5,507.2 468.3,508.7 468.6,510.2 468.4,511.7 468.7,513.2 468.4,514.8 468.8,516.3 468.6,517.8 468.9,519.3 468.6,520.8 469.0,522.3 468.8,523.8 469.2,525.3 468.8,526.9 469.3,528.4 468.8,529.9 469.3,531.4 468.9,532.9 469.4,534.4 469.1,535.9 469.4,537.4 469.0,539.0 469.6,540.5 469.0,542.0 469.6,543.5 469.2,545.0 469.7,546.5 469.1,548.1 470.1,549.5 469.2,551.1 470.1,552.6 469.5,554.1 469.8,555.6 469.6,554.1 470.2,552.6 469.9,551.1 470.5,549.6 470.0,548.1 470.6,546.6 470.2,545.0 471.0,543.6 470.3,542.0 471.1,540.6 470.7,539.0 471.3,537.6 470.9,536.0 471.5,534.5 471.2,533.0 471.8,531.5 471.3,530.0 471.8,528.5 471.5,527.0 472.0,525.5 471.6,524.0 472.2,522.5 472.0,521.0 472.4,519.5 472.1,517.9 472.5,516.5 472.3,514.9 472.8,513.5 472.6,511.9 473.0,510.4 472.9,508.9 472.8,507.4 473.0,505.9 472.9,504.4 473.1,502.9 473.0,501.4 473.1,499.9 473.0,498.4 473.2,496.9 473.1,495.4 473.2,493.9 473.2,492.4 473.2,490.9 473.3,489.3 473.3,487.8 473.3,486.3 473.3,484.8 473.4,483.3 473.4,481.8 473.4,480.3 473.5,478.8 473.5,477.3 473.5,475.8 473.5,474.3 473.6,472.8 473.6,471.3 473.6,469.8 473.6,468.3 473.7,466.8 473.7,465.3 473.7,463.7 473.8,462.2 473.8,460.7 473.8,459.2 473.8,457.7 473.9,456.2 473.9,454.7 473.9,453.2 474.0,451.7 474.0,450.2 474.0,448.7 474.0,447.2 474.1,445.7 474.1,444.2 474.1,442.7 474.1,441.2 474.2,439.7 474.2,438.1 474.2,436.6 474.3,435.1 474.3,433.6 474.3,432.1 474.3,430.6 474.4,429.1 474.4,427.6 474.4,426.1 474.5,424.6 474.5,423.1 474.5,421.6 474.5,420.1 474.6,418.6 474.6,417.1 474.6,415.6 474.7,414.0 474.7,412.5 474.8,410.9 474.9,409.4 474.9,407.8 475.0,406.3 475.0,404.8 475.1,403.2 475.2,401.7 475.2,400.1 475.3,398.6 475.3,397.1 475.4,395.5 475.5,394.0 475.5,392.4 475.6,390.9 475.7,389.3 475.7,387.8 475.8,386.3 475.8,384.7 475.9,383.2 476.0,381.6 476.0,380.1 476.1,381.6 476.1,383.2 476.2,384.7 476.3,386.3 476.3,387.8 476.4,389.3 476.4,390.9 476.5,392.4 476.6,394.0 476.6,395.5 476.7,397.1 476.7,398.6 476.8,400.1 476.9,401.7 476.9,403.2 477.0,404.8 477.1,406.3 477.1,407.8 477.2,409.4 477.2,410.9 477.3,412.5 477.4,414.0 477.4,415.6 477.5,417.1 477.6,418.7 477.7,420.2 477.8,421.8 477.9,423.3 478.0,424.9 478.1,426.5 478.2,428.0 478.3,429.6 478.4,431.1 478.5,432.7 478.6,434.2 478.7,435.8 478.8,437.3 478.9,438.9 479.0,440.5 479.1,442.0 479.2,443.6 479.3,445.1 479.4,446.7 479.5,448.2 479.6,449.7 479.6,451.2 479.7,452.7 479.8,454.2 479.8,455.7 479.9,457.2 480.0,458.7 480.0,460.2 480.1,461.7 480.2,463.2 480.2,464.8 480.3,466.3 480.4,467.8 480.4,469.3 480.5,470.8 480.5,472.3 480.6,473.8 480.7,475.3 480.7,476.8 480.8,478.3 480.9,479.8 480.9,481.3 481.0,482.8 481.1,484.3 481.1,485.8 481.2,487.3 481.3,488.8 481.3,490.3 481.4,491.9 481.5,493.4 481.5,494.9 481.5,496.4 481.6,497.9 481.5,499.4 481.6,501.0 481.5,502.5 481.7,504.0 481.5,505.5 481.7,507.0 481.6,508.5 481.8,510.1 481.5,511.6 481.9,513.1 481.6,514.6 481.9,516.1 481.6,517.7 481.9,519.2 481.7,520.7 482.0,522.2 481.7,523.7 482.0,525.2 481.7,526.8 482.0,528.3 481.8,529.8 482.1,531.3 481.8,532.8 482.1,534.3 481.7,535.9 482.4,537.4 481.7,538.9 482.3,540.4 481.6,541.9 482.3,543.5 481.9,545.0 482.3,546.5 482.0,548.0 482.5,549.5 481.7,551.1 482.5,552.6 481.7,554.1 482.2,555.6 482.7,557.1 481.8,558.7 482.9,560.3 482.1,561.8 482.8,563.4 482.3,565.0 483.0,566.5 482.2,568.1 483.1,569.6 482.6,571.2 483.4,572.7 482.8,574.3 483.5,575.8 482.8,577.4 483.6,578.9 482.8,580.5 483.5,582.0 482.9,583.6 483.8,585.2 483.2,586.7 484.1,588.3 483.1,589.9 484.0,591.4 483.3,593.0 483.8,594.5 484.1,596.0 483.6,597.6 484.3,599.2 483.8,600.8 484.9,602.2 484.0,603.9 484.7,605.4 484.2,607.0 485.1,608.5 484.4,610.1 485.2,611.6 484.7,613.2 485.5,614.7 485.0,616.3 485.8,617.8 485.1,619.4 485.8,620.9 485.4,622.5 486.0,624.0 485.3,625.7 486.2,627.2 485.8,628.7 486.1,630.3 486.0,628.7 487.0,627.2 486.4,625.6 487.1,624.1 486.7,622.5 487.6,621.0 487.0,619.4 487.7,617.9 487.1,616.2 488.2,614.8 487.6,613.1 488.6,611.7 487.8,610.0 488.8,608.5 488.4,606.9 489.2,605.4 488.8,603.8 489.2,602.3 489.9,600.8 489.1,599.3 489.9,597.8 489.3,596.3 490.4,594.8 489.5,593.3 490.4,591.8 489.7,590.3 490.8,588.9 490.1,587.3 490.9,585.9 490.4,584.3 491.2,582.9 490.4,581.3 491.3,579.9 490.8,578.3 491.7,576.9 491.0,575.3 491.8,573.9 491.3,572.3 492.2,570.9 491.7,569.4 492.2,567.9 491.6,566.3 492.8,564.9 492.4,563.4 492.6,561.8 493.4,560.3 493.2,558.6 494.4,557.2 494.1,555.5 495.1,554.1 495.1,552.4 496.0,551.0 496.2,549.4 496.7,550.9 496.2,552.5 497.1,554.0 496.4,555.7 497.6,557.1 496.8,558.8 497.9,560.2 497.3,561.9 498.1,563.3 497.6,565.0 498.5,566.4 498.0,568.1 499.0,569.5 498.6,571.2 498.3,572.7 499.2,574.3 498.2,575.9 499.4,577.4 498.6,579.0 499.5,580.5 498.4,582.1 499.3,583.6 498.7,585.2 499.7,586.7 498.9,588.3 499.7,589.8 499.2,591.4 499.8,592.9 499.0,594.5 500.0,596.0 499.4,597.6 500.2,599.2 499.4,600.7 500.3,602.3 499.6,603.9 500.3,605.4 499.9,607.0 500.1,608.5 499.9,606.9 501.1,605.5 500.7,603.8 501.6,602.4 501.1,600.7 502.2,599.2 501.5,597.5 502.9,596.1 502.3,594.4 503.2,593.0 502.8,591.3 503.7,589.9 503.2,588.2 504.0,586.7 504.6,588.4 505.9,589.7 506.1,591.5 507.1,592.9 507.1,591.3 508.0,589.9 507.9,588.2 509.1,586.9 508.4,585.1 509.5,583.7 509.2,582.0 510.1,580.5 510.2,578.9 510.8,580.5 510.6,582.1 511.8,583.5 511.2,585.2 512.1,586.7 511.9,588.3 512.6,589.8 512.2,591.5 513.5,592.8 513.4,594.5 513.2,596.2 514.7,597.5 514.0,599.3 515.2,600.7 515.1,602.3 516.0,603.8 515.9,605.4 516.7,606.9 516.4,608.6 517.3,610.1 517.0,608.5 517.7,607.0 517.4,605.4 518.3,603.9 517.4,602.2 518.6,600.8 517.7,599.1 518.9,597.7 518.1,596.0 519.0,594.5 518.3,592.9 519.2,591.4 518.8,589.8 519.5,588.3 518.9,586.7 519.7,585.2 519.6,583.6 519.6,582.0 520.3,580.5 519.9,578.9 521.0,577.5 520.3,575.8 521.4,574.3 520.6,572.7 521.7,571.2 521.2,569.6 522.0,568.1 521.9,566.5 522.9,567.9 522.8,569.8 524.4,571.0 524.0,572.9 525.4,574.2 525.8,575.8 525.8,577.4 526.5,578.9 526.2,580.6 527.1,582.0 526.9,583.6 527.7,585.1 527.4,586.8 528.1,588.2 527.7,589.9 528.8,591.3 528.4,593.0 528.9,594.5 529.5,596.0 528.9,597.6 529.9,599.1 529.2,600.7 530.0,602.2 529.2,603.9 530.3,605.4 529.6,607.0 530.6,608.5 529.8,610.1 530.8,611.6 530.3,613.2 530.9,614.7 530.4,616.3 531.3,617.8 530.8,619.4 531.6,620.9 531.3,622.5 531.7,621.0 531.2,619.5 532.1,618.1 531.3,616.5 532.3,615.1 531.7,613.5 532.7,612.1 532.0,610.5 532.9,609.1 532.5,607.5 533.3,606.1 532.6,604.5 533.6,603.1 533.1,601.5 533.9,600.1 533.2,598.5 534.1,597.1 533.7,595.6 534.7,594.1 534.1,592.6 534.8,591.1 534.2,589.6 534.9,588.1 534.6,586.6 535.2,585.1 535.1,583.6 536.1,585.0 535.9,586.9 537.2,588.2 537.3,590.0 538.3,591.4 538.0,589.8 539.2,588.3 538.8,586.7 539.4,585.2 539.1,583.6 540.2,582.1 539.5,580.4 540.4,579.0 539.9,577.3 540.9,575.9 540.5,574.2 541.5,572.8 540.8,571.1 541.8,569.7 541.3,568.0 542.4,566.6 542.1,564.9 542.9,566.4 542.0,568.1 542.8,569.6 542.4,571.2 543.4,572.7 542.8,574.3 543.8,575.8 543.1,577.4 544.1,578.9 543.4,580.5 544.4,582.0 543.6,583.7 544.8,585.1 544.5,586.7 545.3,585.3 544.7,583.5 545.8,582.1 545.4,580.4 546.6,579.0 546.4,577.3 547.4,575.9 547.0,574.2 547.6,572.7 547.4,574.3 548.3,575.8 547.6,577.4 548.7,578.9 548.0,580.5 549.1,582.0 548.4,583.6 549.3,585.1 548.5,586.8 549.5,588.2 548.9,589.9 550.1,591.3 549.5,593.0 550.4,594.4 549.6,596.1 550.6,597.6 549.9,599.2 551.1,600.7 550.7,602.3 550.7,603.9 551.6,605.3 551.1,607.0 552.2,608.4 551.4,610.2 552.8,611.5 552.0,613.3 553.0,614.7 552.7,616.3 553.9,617.7 553.0,619.5 553.8,621.0 554.6,622.4 554.2,624.1 555.3,625.5 554.8,627.3 556.0,628.6 555.5,630.4 556.8,631.7 556.1,633.5 556.9,635.0 556.9,633.2 558.3,632.0 558.1,630.2 559.4,628.9 559.1,627.0 560.0,625.6 560.8,624.1 560.7,622.3 562.1,621.1 562.0,619.3 563.1,617.9 563.3,616.2 564.7,614.9 564.7,613.2 565.3,614.7 565.0,616.3 566.1,617.7 565.6,619.4 566.6,620.9 566.0,622.6 567.2,624.0 566.6,625.7 567.6,627.1 567.3,628.8 567.8,630.3 567.9,628.7 568.7,627.2 568.7,625.6 569.5,624.1 569.3,622.4 570.4,621.1 569.7,619.3 571.0,617.9 570.7,616.2 571.7,614.8 571.7,613.2 572.3,611.4 574.0,610.3 574.4,608.4 575.6,607.0 576.6,605.5 576.6,603.7 577.7,602.4 577.6,600.5 578.7,599.2 578.8,600.8 579.7,602.2 579.2,603.9 580.4,605.3 579.8,607.1 581.0,608.4 580.4,610.2 581.5,611.6 581.1,613.3 582.3,614.7 582.1,616.3 582.6,617.8 583.1,619.4 582.5,621.1 583.9,622.4 583.2,624.1 584.4,625.5 584.0,627.2 584.7,628.7 584.3,630.4 584.9,631.8 584.6,630.2 586.0,628.8 585.5,627.1 586.6,625.7 585.8,624.0 586.8,622.6 586.5,620.9 587.4,619.5 586.9,617.8 587.9,616.3 587.5,614.7 588.0,613.2 587.7,614.8 588.9,616.2 588.5,617.9 589.5,619.3 589.0,621.0 589.8,622.5 589.5,624.1 590.2,625.6 589.6,627.3 590.9,628.7 590.3,630.4 591.4,631.8 591.2,633.4 591.9,631.9 591.3,630.2 592.3,628.8 592.0,627.1 592.6,625.7 592.5,624.0 593.3,622.6 593.1,620.9 594.0,619.5 593.4,617.8 594.3,616.3 594.3,614.7 595.0,613.0 596.5,611.8 597.0,609.9 598.2,608.5 597.8,610.1 598.9,611.6 598.5,613.2 599.0,614.7 598.4,616.3 599.6,617.8 599.0,619.4 600.0,620.9 599.5,622.5 600.4,624.0 599.4,625.7 600.6,627.1 600.1,628.8 600.5,630.3 600.4,628.7 601.6,627.3 600.9,625.5 601.9,624.1 601.6,622.5 602.4,621.0 602.0,619.3 603.0,617.9 602.6,616.2 603.8,614.8 603.0,613.1 604.2,611.7 603.6,610.0 604.4,608.5 605.6,607.1 605.8,605.1 607.8,604.1 608.3,602.3 608.2,600.7 609.4,599.3 608.8,597.6 610.0,596.2 609.4,594.4 610.5,593.0 609.7,591.3 611.1,589.9 610.3,588.2 611.3,586.8 611.0,585.1 612.1,583.7 611.3,582.0 612.2,580.5 613.5,579.5 613.9,577.9 615.2,577.0 615.6,575.3 616.8,574.3 616.9,575.9 617.7,577.3 617.3,579.0 618.3,580.4 618.0,582.1 618.9,583.5 618.2,585.3 619.5,586.6 618.9,588.4 620.2,589.7 619.9,591.4 619.9,593.0 620.8,594.4 620.3,596.1 620.9,597.6 620.3,599.2 621.5,600.7 620.8,602.3 621.7,603.8 621.1,605.4 622.1,606.9 621.6,608.5 622.3,610.0 622.0,611.6 622.6,613.2 622.0,614.8 623.4,616.2 622.6,617.9 623.5,619.4 623.0,621.0 624.0,622.5 623.3,624.1 623.8,625.6 623.7,624.1 624.6,622.7 623.6,621.1 624.5,619.7 624.1,618.1 624.8,616.7 624.2,615.1 625.1,613.7 624.6,612.1 625.3,610.7 624.7,609.1 625.7,607.7 625.0,606.1 626.0,604.7 625.3,603.1 626.3,601.7 625.5,600.2 626.5,598.7 625.5,597.1 626.7,595.7 625.9,594.2 627.0,592.7 626.1,591.2 627.0,589.7 626.5,588.2 627.0,586.7 627.3,585.2 627.0,583.7 627.7,582.2 627.0,580.7 627.7,579.2 627.4,577.7 627.8,576.2 627.3,574.6 628.2,573.2 627.6,571.6 628.5,570.2 627.6,568.6 628.7,567.2 628.1,565.6 629.1,564.2 628.3,562.6 629.1,561.2 628.3,559.6 629.1,558.1 628.4,556.6 629.5,555.1 628.7,553.6 629.5,552.1 628.9,550.6 629.7,549.1 629.2,547.5 630.1,546.1 629.5,544.5 630.1,543.1 629.7,541.5 630.1,540.0 631.1,538.7 631.2,536.8 632.4,535.5 632.9,533.8 633.3,535.3 632.9,537.0 633.6,538.5 633.5,540.1 634.0,541.6 633.7,543.2 634.5,544.7 633.9,546.3 634.9,547.8 634.3,549.4 635.5,550.9 634.8,552.5 635.6,554.0 635.5,555.6 635.3,557.2 636.1,558.7 635.4,560.3 636.4,561.8 635.9,563.4 636.8,564.9 635.9,566.5 636.9,568.0 636.1,569.6 637.1,571.1 636.4,572.7 637.1,574.3 636.8,575.8 637.6,577.3 636.9,579.0 637.6,580.5 637.0,582.1 638.1,583.6 637.2,585.2 637.8,586.7 638.3,588.2 637.9,589.9 638.7,591.3 638.1,593.0 639.0,594.5 638.2,596.1 639.1,597.6 638.7,599.2 639.5,600.7 638.7,602.3 639.8,603.8 638.9,605.4 639.9,606.9 639.3,608.5 640.2,610.0 639.6,611.7 640.4,613.1 640.0,614.8 640.8,616.3 640.1,617.9 641.2,619.3 640.4,621.0 641.0,622.5 641.7,624.0 641.3,625.7 642.6,627.1 642.2,628.8 643.2,630.2 642.8,632.0 644.0,633.3 644.1,635.0 644.5,633.4 644.2,631.8 645.0,630.3 644.5,628.7 645.6,627.2 645.0,625.6 646.1,624.1 645.5,622.5 646.3,621.0 645.7,619.3 646.9,617.9 646.3,616.2 647.4,614.8 646.9,613.1 647.7,611.7 647.0,610.0 648.3,608.6 648.0,607.0 648.8,608.4 648.6,610.2 650.0,611.5 649.6,613.4 651.0,614.6 650.9,616.4 651.8,617.8 651.6,616.2 652.8,614.8 652.1,613.1 652.9,611.7 652.5,610.0 653.4,608.6 652.9,606.9 653.8,605.5 653.2,603.8 653.9,602.3 653.2,600.7 654.4,599.2 653.7,597.6 654.6,596.1 654.2,594.5 655.0,593.0 654.3,591.3 655.3,589.9 654.6,588.2 655.9,586.8 655.1,585.1 655.7,583.6 655.7,585.2 656.7,586.6 655.9,588.4 657.1,589.8 656.6,591.4 657.6,592.9 656.8,594.6 658.0,596.0 657.6,597.7 658.1,599.2 658.4,600.7 657.8,602.3 658.6,603.8 658.3,605.4 659.0,606.9 658.5,608.5 659.2,610.0 658.7,611.6 659.5,613.1 658.7,614.8 659.6,616.3 659.0,617.9 659.9,619.4 659.1,621.0 660.2,622.5 659.4,624.1 660.4,625.6 659.5,627.2 660.4,628.7 660.1,630.3 660.4,631.8 660.0,630.2 661.2,628.8 660.7,627.2 661.5,625.7 660.7,624.0 661.8,622.6 661.0,620.9 661.9,619.4 661.5,617.8 662.4,616.3 661.5,614.7 662.5,613.2 662.0,611.6 662.8,610.1 662.0,608.5 662.7,607.0 663.2,605.5 662.7,603.9 663.7,602.5 662.6,600.9 663.6,599.4 663.2,597.9 664.0,596.4 663.3,594.8 664.1,593.4 663.4,591.8 664.3,590.4 663.7,588.8 664.5,587.3 664.1,585.8 664.9,584.3 664.2,582.8 665.2,581.3 664.6,579.7 665.5,578.3 664.7,576.7 665.5,575.3 665.0,573.7 665.7,572.2 664.9,570.7 665.9,569.2 665.2,567.6 666.4,566.2 665.5,564.6 666.3,563.2 665.8,561.6 666.5,560.2 666.1,558.6 666.8,557.1 666.6,555.6 666.5,554.1 667.2,552.6 666.5,551.0 667.1,549.5 666.7,548.0 667.2,546.5 666.8,544.9 667.4,543.4 667.0,541.9 667.5,540.4 667.1,538.9 667.7,537.4 667.2,535.8 667.8,534.3 667.1,532.8 667.9,531.3 667.4,529.7 668.0,528.2 667.5,526.7 668.0,525.2 667.6,523.7 668.1,522.1 667.8,520.6 668.2,519.1 667.9,517.6 668.3,516.1 668.0,514.5 668.3,513.0 668.2,511.5 668.4,510.0 668.3,508.4 668.5,506.9 668.4,505.4 668.6,503.9 668.6,502.4 668.8,500.8 668.7,499.3 668.8,497.8 668.9,496.3 668.8,494.8 668.9,493.3 668.9,491.7 669.0,490.2 669.0,488.7 669.0,487.2 669.1,485.7 669.1,484.2 669.1,482.7 669.2,481.1 669.2,479.6 669.2,478.1 669.3,476.6 669.3,475.1 669.3,473.6 669.4,472.1 669.4,470.6 669.4,469.0 669.5,467.5 669.5,466.0 669.5,464.5 669.6,463.0 669.6,461.4 669.6,459.9 669.7,458.4 669.7,456.8 669.7,455.3 669.7,453.8 669.8,452.2 669.8,450.7 669.8,449.2 669.8,447.6 669.9,446.1 669.9,444.6 669.9,443.0 669.9,441.5 670.0,439.9 670.0,438.4 670.0,436.9 670.0,435.3 670.1,433.8 670.1,432.3 670.1,430.7 670.1,429.2 670.2,427.7 670.2,426.1 670.2,424.6 670.2,423.1 670.3,421.5 670.3,420.0 670.3,418.5 670.4,416.9 670.4,415.4 670.4,413.9 670.4,412.3 670.5,410.8 670.5,409.3 670.5,407.7 670.6,406.2 670.6,404.7 670.6,403.1 670.6,401.6 670.7,400.1 670.7,398.5 670.7,397.0 670.8,395.5 670.8,393.9 670.8,392.4 670.8,390.9 670.9,389.3 670.9,387.8 670.9,386.3 671.0,384.7 671.0,383.2 671.0,381.7 671.0,380.1 671.1,378.6 671.1,377.1 671.1,375.5 671.2,374.0 671.2,372.5 671.2,370.9 671.2,369.4 671.3,367.9 671.3,366.3 671.3,364.8 671.4,363.3 671.4,361.7 671.4,360.2 671.4,358.7 671.5,357.1 671.5,355.6 671.5,354.1 671.6,352.6 671.6,351.1 671.6,349.6 671.6,348.1 671.7,346.6 671.7,345.1 671.7,343.6 671.7,342.1 671.8,340.6 671.8,339.1 671.8,337.6 671.9,336.1 671.9,334.6 671.9,333.1 671.9,331.6 672.0,330.1 672.0,328.6 672.0,327.0 672.0,325.5 672.1,324.0 672.1,322.5 672.1,321.0 672.1,319.5 672.2,318.0 672.2,316.5 672.2,315.0 672.3,313.5 672.3,312.0 672.3,310.5 672.3,309.0 672.4,307.5 672.4,306.0 672.4,304.5 672.4,303.0 672.5,301.5 672.5,300.0 672.5,298.5 672.6,297.0 672.6,295.4 672.6,293.9 672.6,292.4 672.7,290.9 672.7,289.4 672.7,287.9 672.7,286.3 672.8,284.8 672.8,283.3 672.8,281.8 672.8,280.3 672.9,278.7 672.9,277.2 672.9,275.7 672.9,274.2 673.0,272.7 673.0,271.1 673.0,269.6 673.1,268.1 673.1,266.6 673.1,265.1 673.1,263.6 673.2,262.0 673.2,260.5 673.2,259.0 673.2,257.5 673.3,256.0 673.3,254.4 673.3,252.9 673.3,251.4 673.4,249.9 673.4,248.4 673.4,246.9 673.4,245.3 673.5,243.8 673.5,242.3 673.5,243.8 673.6,245.3 673.6,246.9 673.6,248.4 673.6,249.9 673.7,251.4 673.7,252.9 673.7,254.4 673.7,256.0 673.8,257.5 673.8,259.0 673.8,260.5 673.8,262.0 673.9,263.6 673.9,265.1 673.9,266.6 673.9,268.1 674.0,269.6 674.0,271.1 674.0,272.7 674.1,274.2 674.1,275.7 674.1,277.2 674.1,278.7 674.2,280.3 674.2,281.8 674.2,283.3 674.2,284.8 674.3,286.3 674.3,287.9 674.3,289.4 674.3,290.9 674.4,292.4 674.4,293.9 674.4,295.4 674.4,297.0 674.5,298.5 674.5,300.0 674.5,301.5 674.6,303.0 674.6,304.5 674.6,306.0 674.6,307.5 674.7,309.0 674.7,310.5 674.7,312.0 674.7,313.5 674.8,315.0 674.8,316.5 674.8,318.0 674.9,319.5 674.9,321.0 674.9,322.5 674.9,324.0 675.0,325.5 675.0,327.0 675.0,328.6 675.0,330.1 675.1,331.6 675.1,333.1 675.1,334.6 675.1,336.1 675.2,337.6 675.2,339.1 675.2,340.6 675.3,342.1 675.3,343.6 675.3,345.1 675.3,346.6 675.4,348.1 675.4,349.6 675.4,351.1 675.4,352.6 675.5,354.1 675.5,355.6 675.5,357.1 675.6,358.7 675.6,360.2 675.6,361.7 675.6,363.3 675.7,364.8 675.7,366.3 675.7,367.9 675.8,369.4 675.8,370.9 675.8,372.5 675.8,374.0 675.9,375.5 675.9,377.1 675.9,378.6 676.0,380.1 676.0,381.7 676.0,383.2 676.0,384.7 676.1,386.3 676.1,387.8 676.1,389.3 676.2,390.9 676.2,392.4 676.2,393.9 676.2,395.5 676.3,397.0 676.3,398.5 676.3,400.1 676.4,401.6 676.4,403.1 676.4,404.7 676.4,406.2 676.5,407.7 676.5,409.3 676.5,410.8 676.6,412.3 676.6,413.9 676.6,415.4 676.6,416.9 676.7,418.5 676.7,420.0 676.7,421.5 676.8,423.1 676.8,424.6 676.8,426.1 676.8,427.7 676.9,429.2 676.9,430.7 676.9,432.3 676.9,433.8 677.0,435.3 677.0,436.9 677.0,438.4 677.0,439.9 677.1,441.5 677.1,443.0 677.1,444.6 677.1,446.1 677.2,447.6 677.2,449.2 677.2,450.7 677.2,452.2 677.3,453.8 677.3,455.3 677.3,456.8 677.3,458.4 677.4,459.9 677.4,461.4 677.4,463.0 677.5,464.5 677.5,466.1 677.6,467.7 677.6,469.3 677.7,470.9 677.7,472.5 677.8,474.2 677.9,475.8 677.9,477.4 678.0,479.0 678.0,480.6 678.1,482.2 678.2,483.7 678.2,485.2 678.3,486.8 678.3,488.3 678.4,489.8 678.4,491.3 678.5,492.8 678.5,494.4 678.6,495.9 678.6,497.4 678.8,498.9 678.7,500.4 678.9,502.0 678.8,503.5 679.0,505.0 679.0,506.5 679.2,508.0 679.1,509.6 679.3,511.1 679.1,512.6 679.5,514.1 679.2,515.6 679.6,517.1 679.3,518.7 679.8,520.2 679.5,521.7 679.8,523.2 679.4,524.8 680.1,526.3 679.7,527.8 680.2,529.3 679.7,530.8 680.2,532.3 679.8,533.9 680.3,535.4 679.9,536.9 680.6,538.4 680.0,540.0 680.5,541.5 680.0,543.0 680.5,544.5 681.1,546.0 680.4,547.7 681.2,549.1 680.7,550.8 681.5,552.3 681.1,553.9 681.9,555.4 681.4,557.0 682.2,558.5 681.8,560.1 682.6,561.6 682.1,563.2 682.8,564.7 682.4,566.3 683.1,567.8 682.8,569.4 683.7,570.9 683.1,572.5 684.0,574.0 683.6,575.6 683.6,577.3 684.6,578.7 684.4,580.4 685.5,581.8 685.3,583.5 685.9,585.0 686.2,583.3 687.4,581.9 687.6,580.2 688.9,578.9 688.7,577.0 689.8,575.6 690.1,574.1 689.5,572.6 690.5,571.1 689.7,569.6 690.3,568.1 689.8,566.6 690.7,565.1 689.9,563.5 690.7,562.1 689.7,560.5 690.8,559.0 690.1,557.5 690.8,556.0 690.2,554.5 690.9,553.0 690.2,551.5 691.1,550.0 690.3,548.5 691.0,547.0 690.4,545.5 691.1,544.0 690.7,542.5 691.2,541.0 690.8,539.4 691.2,537.9 690.8,536.4 691.4,534.9 691.0,533.4 691.4,531.9 690.9,530.4 691.3,528.9 691.6,527.4 691.3,525.9 691.8,524.4 691.5,522.9 692.0,521.4 691.8,519.9 692.2,518.4 692.0,516.8 692.4,515.4 692.2,513.8 692.6,512.3 692.4,510.8 692.8,509.3 692.7,507.8 692.9,506.3 692.9,504.8 693.1,503.3 693.1,501.8 693.3,500.3 693.3,498.8 693.5,497.3 693.5,495.8 693.7,494.3 693.8,492.7 693.9,491.2 694.0,489.7 694.1,488.2 694.2,486.7 694.3,485.2 694.4,483.7 694.5,482.2 694.6,480.6 694.7,479.0 694.8,477.4 694.8,475.8 694.9,474.2 695.0,472.5 695.1,470.9 695.2,469.3 695.3,467.7 695.4,466.1 695.5,464.5 695.5,463.0 695.5,461.4 695.5,459.9 695.6,458.4 695.6,456.8 695.6,455.3 695.7,453.8 695.7,452.2 695.7,450.7 695.7,449.2 695.8,447.6 695.8,446.1 695.8,444.6 695.9,443.0 695.9,441.5 695.9,439.9 695.9,438.4 696.0,436.9 696.0,435.3 696.0,433.8 696.1,432.3 696.1,430.7 696.1,429.2 696.2,427.7 696.2,426.1 696.2,424.6 696.2,423.1 696.3,421.5 696.3,420.0 696.4,418.5 696.5,416.9 696.5,415.4 696.6,413.9 696.7,412.3 696.8,410.8 696.9,409.3 697.0,407.7 697.0,406.2 697.1,404.7 697.2,403.1 697.3,401.6 697.4,400.1 697.4,398.5 697.5,397.0 697.6,395.5 697.7,393.9 697.8,392.4 697.9,390.9 697.9,389.3 698.0,387.8 698.1,386.3 698.2,384.7 698.3,383.2 698.4,381.7 698.4,380.1 698.5,378.6 698.6,377.1 698.7,375.5 698.8,374.0 698.8,372.5 698.9,370.9 699.0,369.4 699.1,367.9 699.2,366.3 699.3,364.8 699.3,363.3 699.4,361.7 699.5,360.2 699.6,358.7 699.7,357.1 699.8,355.6 699.8,354.1 699.9,352.6 699.9,351.1 700.0,349.6 700.0,348.0 700.1,346.5 700.1,345.0 700.2,343.5 700.2,342.0 700.3,340.5 700.3,339.0 700.4,337.5 700.4,336.0 700.5,334.5 700.5,332.9 700.6,331.4 700.6,329.9 700.7,328.4 700.7,326.9 700.8,325.4 700.8,323.9 700.9,322.4 700.9,320.9 701.0,319.3 701.0,317.8 701.1,316.3 701.1,314.8 701.2,313.3 701.3,314.8 701.3,316.3 701.4,317.8 701.4,319.3 701.5,320.9 701.5,322.4 701.6,323.9 701.6,325.4 701.7,326.9 701.7,328.4 701.8,329.9 701.8,331.4 701.9,332.9 701.9,334.5 702.0,336.0 702.0,337.5 702.1,339.0 702.1,340.5 702.2,342.0 702.2,343.5 702.3,345.0 702.3,346.5 702.4,348.0 702.4,349.6 702.5,351.1 702.5,352.6 702.6,354.1 702.6,355.6 702.7,357.1 702.7,358.7 702.8,360.2 702.8,361.7 702.9,363.3 702.9,364.8 703.0,366.3 703.0,367.9 703.1,369.4 703.1,370.9 703.2,372.5 703.2,374.0 703.3,375.5 703.3,377.1 703.4,378.6 703.4,380.1 703.5,381.7 703.5,383.2 703.6,384.7 703.6,386.3 703.7,387.8 703.7,389.3 703.8,390.9 703.8,392.4 703.9,393.9 703.9,395.5 704.0,397.0 704.0,398.5 704.1,400.1 704.1,401.6 704.2,403.1 704.2,404.7 704.3,406.2 704.3,407.7 704.4,409.3 704.4,410.8 704.5,412.3 704.5,413.9 704.6,415.4 704.6,416.9 704.7,418.5 704.7,420.0 704.7,421.5 704.8,423.1 704.8,424.6 704.9,426.1 704.9,427.7 704.9,429.2 705.0,430.7 705.0,432.3 705.1,433.8 705.1,435.3 705.2,436.9 705.2,438.4 705.2,439.9 705.3,441.5 705.3,443.0 705.4,444.6 705.4,446.1 705.4,447.6 705.5,449.2 705.5,450.7 705.6,452.2 705.6,453.8 705.7,455.3 705.7,456.8 705.7,458.4 705.8,459.9 705.8,461.4 705.9,463.0 705.9,464.5 706.0,466.1 706.0,467.7 706.1,469.3 706.1,470.9 706.2,472.5 706.2,474.2 706.3,475.8 706.3,477.4 706.4,479.0 706.4,480.6 706.5,482.2 706.5,483.7 706.6,485.2 706.6,486.8 706.7,488.3 706.7,489.8 706.8,491.3 706.8,492.8 706.9,494.4 706.9,495.9 707.0,497.4 707.0,498.9 707.2,500.4 707.0,502.0 707.2,503.5 707.2,505.0 707.4,506.5 707.3,508.0 707.5,509.5 707.3,511.1 707.6,512.6 707.4,514.1 707.7,515.6 707.5,517.2 707.9,518.7 707.5,520.2 708.0,521.7 707.6,523.2 708.1,524.7 707.7,526.3 708.1,527.8 707.7,529.3 708.2,530.8 707.8,532.4 708.4,533.9 708.1,535.4 708.5,536.9 707.9,538.4 708.7,539.9 708.1,541.5 708.9,543.0 708.5,544.5 708.5,546.1 709.2,547.6 708.5,549.2 709.4,550.7 708.7,552.3 709.6,553.8 708.8,555.4 709.7,556.9 709.3,558.5 710.1,560.0 709.2,561.6 710.2,563.1 709.6,564.7 710.5,566.2 709.9,567.8 710.9,569.3 710.2,571.0 711.1,572.5 710.3,574.1 710.8,575.6 711.2,577.1 710.6,578.8 711.7,580.2 711.4,581.9 712.0,583.4 711.7,585.0 712.4,586.5 712.2,588.1 713.2,589.5 712.6,591.2 713.6,592.7 713.0,594.3 713.7,595.8 713.5,597.4 713.9,598.9 714.4,600.5 713.8,602.1 714.9,603.6 714.5,605.2 715.2,606.7 714.7,608.3 715.7,609.8 715.4,611.4 716.2,612.9 715.6,614.6 716.2,616.1 716.2,614.5 717.1,613.0 716.7,611.4 717.6,609.9 717.2,608.2 718.2,606.8 717.4,605.1 718.6,603.7 718.0,602.0 719.0,600.6 718.4,598.9 719.5,597.5 719.4,595.8 720.0,597.4 719.2,599.0 720.1,600.5 719.3,602.1 720.2,603.6 719.7,605.2 720.5,606.7 720.0,608.3 720.9,609.8 720.2,611.4 721.1,612.9 720.6,614.5 721.4,616.0 720.6,617.6 721.6,619.1 721.0,620.7 721.8,622.2 720.9,623.9 721.9,625.4 721.7,627.0 722.3,625.4 722.0,623.8 723.2,622.4 722.6,620.6 723.6,619.2 723.5,617.5 724.7,616.2 724.2,614.4 724.8,612.9 724.8,614.5 725.8,616.0 725.0,617.7 726.1,619.1 725.5,620.8 726.7,622.2 725.9,623.9 726.9,625.4 726.4,627.0 727.7,628.4 726.9,630.1 728.0,631.6 727.5,633.2 728.7,634.6 727.7,636.4 729.0,637.8 728.4,639.5 729.6,640.9 728.7,642.6 729.5,644.1 729.1,642.5 729.8,641.1 729.2,639.5 730.0,638.0 729.5,636.5 730.3,635.0 729.5,633.5 730.5,632.0 729.5,630.4 730.7,629.0 729.9,627.4 730.9,626.0 730.0,624.4 730.7,622.9 730.0,621.4 731.1,619.9 730.2,618.4 731.2,616.9 730.2,615.3 731.1,613.8 730.4,612.3 731.5,610.8 730.8,609.3 731.3,607.8 730.6,606.3 731.6,604.8 730.9,603.2 731.9,601.8 731.0,600.2 731.7,598.7 731.2,597.2 732.1,595.7 731.2,594.2 732.1,592.7 731.8,591.2 732.1,589.6 733.3,588.2 733.0,586.4 734.0,585.0 734.1,583.4 734.7,584.9 733.8,586.5 734.9,588.0 734.2,589.6 735.1,591.1 734.2,592.7 735.2,594.2 734.4,595.9 735.4,597.4 734.7,599.0 735.5,600.5 734.8,602.1 735.6,603.6 735.2,605.2 736.0,606.7 735.4,608.3 736.3,609.8 735.6,611.4 736.3,612.9 735.7,614.5 736.5,616.0 735.8,617.6 736.5,619.2 736.0,620.8 736.5,622.3 737.3,623.8 736.6,625.4 737.3,626.9 737.0,628.5 737.7,630.0 737.5,631.6 738.4,633.1 737.4,634.8 738.4,636.3 737.9,637.9 739.0,639.3 738.5,641.0 739.5,642.4 739.0,644.1 739.8,645.6 739.1,647.2 740.2,648.7 739.7,650.3 740.4,651.8 740.4,653.4 741.1,651.9 740.6,650.2 741.6,648.8 740.9,647.1 741.9,645.7 741.4,644.0 742.8,642.6 742.1,640.9 743.1,639.5 742.6,637.8 743.8,636.4 743.5,634.7 743.4,633.1 744.2,631.7 743.8,630.0 744.8,628.6 744.3,626.9 745.2,625.4 744.6,623.8 745.8,622.3 745.3,620.7 746.4,619.2 745.9,617.6 746.9,616.1 746.6,614.5 746.7,612.7 748.1,611.5 748.1,609.7 749.3,608.4 749.7,606.7 750.5,608.2 749.7,609.9 751.0,611.3 750.2,613.1 751.5,614.4 750.9,616.2 752.2,617.5 751.4,619.3 752.6,620.7 752.1,622.4 752.8,623.8 752.8,622.3 753.8,620.8 753.2,619.1 754.0,617.7 753.4,616.0 754.2,614.5 753.8,612.9 754.7,611.4 754.4,609.8 755.1,608.3 754.6,606.7 755.6,605.2 754.9,603.6 756.1,602.1 755.2,600.4 755.9,598.9 756.4,597.4 756.0,595.8 757.1,594.3 756.4,592.6 757.4,591.2 757.0,589.6 758.0,588.1 757.5,586.4 758.6,585.0 758.0,583.3 759.0,581.9 758.6,580.2 759.0,578.7 759.7,577.2 758.7,575.6 759.9,574.1 759.1,572.5 760.1,571.0 759.1,569.3 760.0,567.8 759.7,566.3 760.5,564.7 759.5,563.1 760.4,561.6 759.8,560.0 760.9,558.5 760.2,556.9 760.9,555.4 760.4,553.8 761.2,552.3 760.7,550.7 761.5,549.2 760.8,547.6 761.5,546.1 761.4,544.5 761.1,543.0 761.9,541.5 761.2,539.9 762.1,538.4 761.4,536.9 762.0,535.4 761.7,533.9 762.2,532.4 761.8,530.8 762.3,529.3 761.9,527.8 762.5,526.3 762.2,524.7 762.7,523.2 762.3,521.7 762.8,520.2 762.5,518.7 762.9,517.2 762.7,515.6 763.0,514.1 762.9,512.6 763.2,511.1 763.0,509.5 763.3,508.0 763.2,506.5 763.4,505.0 763.3,503.5 763.6,502.0 763.5,500.4 763.7,498.9 763.7,497.4 763.9,495.9 763.9,494.4 764.0,492.8 764.0,491.3 764.1,489.8 764.2,488.3 764.3,486.8 764.3,485.2 764.4,483.7 764.5,482.2 764.5,480.6 764.5,479.0 764.6,477.4 764.6,475.8 764.6,474.2 764.6,472.5 764.7,470.9 764.7,469.3 764.7,467.7 764.7,466.1 764.8,464.5 764.8,463.0 764.8,461.5 764.9,459.9 764.9,458.4 765.0,456.9 765.0,455.4 765.1,453.8 765.1,452.3 765.1,450.8 765.2,449.3 765.2,447.7 765.3,446.2 765.3,444.7 765.4,443.2 765.4,441.7 765.5,440.1 765.5,438.6 765.5,437.1 765.6,435.6 765.6,434.0 765.7,432.5 765.7,431.0 765.8,429.5 765.8,427.9 765.9,426.4 765.9,424.9 765.9,423.4 766.0,421.8 766.0,420.3 766.1,418.8 766.1,417.3 766.2,415.8 766.2,414.2 766.3,412.7 766.3,411.2 766.3,409.7 766.4,408.1 766.4,406.6 766.5,405.1 766.5,403.6 766.6,402.0 766.6,400.5 766.6,399.0 766.7,397.4 766.7,395.9 766.7,394.4 766.8,392.8 766.8,391.2 766.8,389.7 766.8,388.1 766.9,386.6 766.9,385.1 766.9,383.5 766.9,381.9 767.0,380.4 767.0,378.9 767.0,377.3 767.0,375.8 767.0,374.2 767.1,372.7 767.1,371.1 767.1,369.6 767.1,368.0 767.2,366.5 767.2,364.9 767.2,363.4 767.2,361.8 767.3,360.2 767.3,358.7 767.3,357.2 767.4,355.6 767.4,354.1 767.5,352.6 767.6,351.1 767.7,349.6 767.8,348.0 767.9,346.5 768.0,345.0 768.1,343.5 768.2,342.0 768.3,340.5 768.4,339.0 768.5,337.5 768.6,336.0 768.7,334.5 768.8,332.9 768.9,331.4 769.0,329.9 769.1,328.4 769.1,326.9 769.2,325.4 769.3,323.9 769.4,322.4 769.5,320.9 769.6,319.3 769.7,317.8 769.8,316.3 769.9,314.8 770.0,313.3 770.1,314.8 770.2,316.3 770.3,317.8 770.4,319.3 770.5,320.9 770.6,322.4 770.7,323.9 770.8,325.4 770.9,326.9 770.9,328.4 771.0,329.9 771.1,331.4 771.2,332.9 771.3,334.5 771.4,336.0 771.5,337.5 771.6,339.0 771.7,340.5 771.8,342.0 771.9,343.5 772.0,345.0 772.1,346.5 772.2,348.0 772.3,349.6 772.4,351.1 772.5,352.6 772.6,354.1 772.6,355.6 772.7,357.2 772.7,358.7 772.7,360.2 772.8,361.8 772.8,363.4 772.8,364.9 772.8,366.5 772.9,368.0 772.9,369.6 772.9,371.1 772.9,372.7 773.0,374.2 773.0,375.8 773.0,377.3 773.0,378.9 773.0,380.4 773.1,381.9 773.1,383.5 773.1,385.1 773.1,386.6 773.2,388.1 773.2,389.7 773.2,391.2 773.2,392.8 773.3,394.4 773.3,395.9 773.3,397.4 773.4,399.0 773.4,400.5 773.5,402.0 773.6,403.6 773.7,405.1 773.8,406.6 773.9,408.1 774.0,409.7 774.1,411.2 774.2,412.7 774.3,414.2 774.4,415.8 774.5,417.3 774.6,418.8 774.7,420.3 774.8,421.8 774.9,423.4 775.0,424.9 775.1,426.4 775.2,427.9 775.3,429.5 775.4,431.0 775.4,432.5 775.5,434.0 775.6,435.6 775.7,437.1 775.8,438.6 775.9,440.1 776.0,441.7 776.1,443.2 776.2,444.7 776.3,446.2 776.4,447.7 776.5,449.3 776.6,450.8 776.7,452.3 776.8,453.8 776.9,455.4 777.0,456.9 777.1,458.4 777.2,459.9 777.3,461.5 777.4,463.0 777.5,464.5 777.5,466.1 777.6,467.7 777.6,469.3 777.6,470.9 777.7,472.5 777.8,474.2 777.8,475.8 777.9,477.4 777.9,479.0 778.0,480.6 778.0,482.2 778.0,483.7 778.1,485.2 778.1,486.8 778.2,488.3 778.2,489.8 778.3,491.3 778.4,492.8 778.4,494.4 778.5,495.9 778.4,497.4 778.6,498.9 778.5,500.4 778.7,502.0 778.6,503.5 778.8,505.0 778.7,506.5 778.9,508.0 778.8,509.6 779.0,511.1 778.8,512.6 779.1,514.1 779.0,515.6 779.2,517.1 779.0,518.7 779.5,520.2 779.0,521.7 779.6,523.2 779.2,524.8 779.7,526.3 779.3,527.8 779.8,529.3 779.3,530.8 779.8,532.3 779.4,533.9 779.9,535.4 779.4,536.9 780.0,538.4 779.5,540.0 780.1,541.5 779.8,543.0 780.0,544.5 780.4,546.0 779.7,547.5 780.6,549.0 780.1,550.5 780.8,552.0 780.2,553.5 781.0,555.0 780.4,556.5 781.0,558.0 780.2,559.5 781.1,561.0 780.7,562.5 781.4,564.0 780.8,565.5 781.6,567.0 780.9,568.5 781.6,570.0 780.9,571.6 782.0,573.0 781.4,574.5 782.0,576.0 781.6,577.6 782.3,579.0 781.5,580.6 782.5,582.0 781.9,583.6 782.8,585.0 781.7,586.6 782.4,588.0 783.3,589.5 783.4,591.2 784.5,592.6 784.4,594.5 785.5,595.8 785.7,594.2 786.7,592.8 786.2,591.0 787.2,589.7 787.2,588.0 788.1,586.6 787.9,584.8 788.6,583.4 789.2,581.9 788.3,580.4 789.2,578.9 788.7,577.4 789.4,575.9 788.8,574.4 789.5,572.9 788.7,571.3 789.7,569.9 789.1,568.4 790.0,566.9 789.0,565.3 789.9,563.9 789.3,562.4 790.3,560.9 789.7,559.4 790.2,557.9 789.8,556.4 790.5,554.9 789.8,553.3 790.9,551.9 790.0,550.4 790.8,548.9 790.1,547.3 791.1,545.9 790.5,544.4 791.1,542.9 790.9,541.4 791.7,539.7 793.1,538.3 794.0,536.7 794.7,538.2 794.5,539.9 795.5,541.3 795.3,543.0 796.4,544.4 796.0,546.1 797.1,547.5 797.2,549.1 796.8,550.7 797.8,552.1 797.1,553.7 798.0,555.1 797.0,556.7 797.9,558.1 797.1,559.7 798.1,561.1 797.4,562.7 798.4,564.1 797.6,565.7 798.5,567.1 797.9,568.7 798.6,570.1 798.2,571.7 798.7,573.1 798.3,574.7 799.2,576.1 798.3,577.7 799.4,579.1 798.3,580.7 799.4,582.1 798.8,583.7 799.7,585.1 799.0,586.7 799.7,588.1 798.9,589.7 799.5,591.2 799.9,592.7 799.5,594.3 800.4,595.8 799.9,597.4 800.9,598.9 800.0,600.6 801.1,602.0 800.3,603.7 801.2,605.1 800.6,606.8 801.7,608.2 801.2,609.9 802.2,611.3 801.8,612.9 802.5,611.5 802.2,609.8 803.2,608.4 802.8,606.7 803.7,605.2 803.4,603.6 804.3,602.1 803.9,600.4 805.0,599.0 804.4,597.3 805.4,595.9 805.1,594.2 805.7,592.7 805.3,594.3 806.2,595.8 805.7,597.4 806.7,598.9 805.9,600.5 806.6,602.0 806.4,603.6 807.1,605.1 806.3,606.8 807.4,608.2 806.5,609.9 807.7,611.4 807.0,613.0 808.0,614.5 807.3,616.1 807.9,617.6 807.5,619.2 808.1,620.7 808.0,622.3 808.0,623.9 809.1,625.3 808.8,627.0 809.9,628.4 809.4,630.1 810.6,631.5 810.0,633.3 811.3,634.6 811.2,636.3 812.0,634.8 811.7,633.1 812.7,631.7 812.3,630.0 813.4,628.6 813.2,626.9 814.3,625.5 814.0,623.8 814.9,622.3 814.8,620.7 815.8,619.3 815.8,617.6 816.9,619.0 816.4,620.9 818.0,622.1 817.5,624.0 819.2,625.2 818.8,627.1 819.7,628.5 819.7,626.8 820.7,625.4 820.4,623.7 821.8,622.4 821.3,620.6 822.5,619.3 822.2,617.6 823.4,616.2 822.9,614.4 823.6,612.9 825.1,612.2 826.0,610.7 827.5,609.8 827.3,611.5 828.7,612.8 828.1,614.6 829.2,616.0 828.8,617.7 829.9,619.1 829.3,620.8 830.6,622.2 830.2,623.9 831.1,625.3 830.5,627.1 831.4,628.5 831.4,626.9 832.3,625.5 831.7,623.8 832.5,622.3 832.2,620.7 833.3,619.3 832.7,617.6 833.5,616.1 832.9,614.4 833.8,613.0 833.6,611.4 834.5,609.9 833.8,608.2 834.5,606.7 835.2,605.2 835.1,603.4 836.6,602.2 836.3,600.4 837.5,599.0 837.3,597.2 838.4,595.8 838.3,597.4 839.2,598.9 838.4,600.5 839.5,602.0 838.6,603.6 839.6,605.1 838.7,606.8 839.8,608.2 839.2,609.9 840.3,611.3 839.2,613.0 840.2,614.5 839.5,616.1 840.7,617.6 840.1,619.2 840.7,620.7 840.4,622.3 841.3,623.8 840.6,625.4 841.5,626.9 840.6,628.5 841.8,630.0 841.1,631.6 841.5,633.2 841.2,631.6 842.0,630.1 841.8,628.5 842.7,627.0 842.1,625.4 843.0,623.9 842.1,622.2 843.2,620.8 842.6,619.1 843.7,617.7 842.9,616.0 844.1,614.6 843.2,612.9 844.2,611.4 843.8,609.8 844.7,608.3 843.8,606.7 844.7,605.2 844.6,603.6 844.5,601.9 845.7,600.6 845.4,598.9 846.4,597.4 846.4,595.8 847.3,594.4 846.9,592.6 847.7,591.2 847.6,592.8 849.0,594.2 848.2,596.0 849.6,597.3 849.2,599.0 850.3,600.4 849.7,602.2 850.8,603.6 850.7,605.2 851.8,606.6 851.6,608.3 851.8,609.9 852.9,611.3 852.2,613.1 853.5,614.4 853.2,616.2 854.2,617.6 854.1,619.2 855.3,620.6 854.7,622.4 855.5,623.8 855.4,622.2 856.2,620.8 855.9,619.1 856.8,617.7 856.2,616.0 856.9,614.5 856.3,612.9 857.4,611.4 857.0,609.8 857.9,608.3 857.3,606.7 858.2,605.2 857.7,603.6 858.6,602.1 858.1,600.5 858.6,598.9 860.2,598.1 861.0,596.2 862.9,595.6 864.1,594.3 864.8,595.7 864.4,597.5 865.5,598.9 865.2,600.6 866.3,602.0 865.7,603.7 866.8,605.1 866.6,606.8 867.9,608.1 867.5,609.9 868.5,611.3 868.0,613.0 868.7,614.5 868.6,612.9 869.8,611.5 869.3,609.8 870.1,608.3 869.8,606.6 871.1,605.3 870.5,603.5 871.7,602.2 871.0,600.4 872.2,599.0 871.6,597.3 872.8,595.9 872.6,594.3 873.3,595.8 872.5,597.4 873.7,598.9 873.1,600.5 874.1,602.0 873.3,603.7 874.3,605.1 873.7,606.8 874.6,608.2 874.2,609.9 875.2,611.3 874.6,613.0 875.4,614.5 874.8,616.1 875.8,617.6 875.4,619.2 876.1,620.7 875.5,622.3 876.4,623.8 875.9,625.4 876.5,627.0 876.6,625.4 877.2,623.9 876.7,622.2 877.9,620.8 877.4,619.1 878.3,617.6 878.1,616.0 879.0,614.6 878.3,612.9 879.7,611.5 879.0,609.8 880.0,608.3 879.6,606.7 880.7,605.3 880.4,603.6 881.0,605.1 880.9,606.8 881.8,608.2 881.5,610.0 882.9,611.3 882.4,613.0 883.4,614.4 883.0,616.2 884.1,617.6 883.8,619.3 885.0,620.7 885.1,622.3 884.7,623.9 885.8,625.4 885.2,627.0 886.4,628.4 885.8,630.1 886.6,631.6 886.1,633.2 886.9,634.7 886.5,636.3 887.5,637.8 886.9,639.5 887.8,640.9 887.3,642.6 888.3,644.0 888.2,645.6 888.9,644.1 888.3,642.4 889.3,641.0 889.0,639.3 890.0,637.9 889.4,636.2 890.7,634.8 890.2,633.1 891.0,631.7 890.6,630.0 891.7,628.6 891.1,626.9 892.1,625.4 891.8,623.8 892.7,622.3 892.3,620.7 892.9,619.2 893.1,620.8 894.1,622.2 893.5,624.0 894.7,625.3 894.4,627.0 895.7,628.4 895.0,630.2 896.5,631.5 895.9,633.3 896.7,634.7 896.7,633.1 897.6,631.7 897.2,630.0 898.3,628.6 897.5,626.9 898.8,625.5 898.3,623.8 899.1,622.3 898.5,620.6 899.7,619.2 899.2,617.5 899.9,616.1 899.6,617.6 900.6,619.0 900.1,620.6 900.9,622.0 899.9,623.6 901.1,625.0 900.4,626.6 901.4,628.1 900.8,629.6 901.7,631.1 900.8,632.6 901.8,634.1 901.0,635.7 902.1,637.1 901.3,638.7 902.5,640.1 901.6,641.7 902.7,643.1 901.8,644.7 902.7,646.1 902.3,647.7 903.3,649.1 902.6,650.7 903.5,652.1 902.6,653.7 903.5,655.1 902.8,656.7 904.0,658.1 903.3,659.7 903.7,661.2 903.7,659.6 904.8,658.2 904.2,656.4 905.4,655.0 904.7,653.3 905.8,651.9 905.3,650.2 906.7,648.8 905.9,647.1 907.1,645.7 906.8,644.0 907.7,642.6 907.6,641.0 908.1,639.5 909.6,638.6 909.8,637.0 911.0,635.9 911.3,634.4 912.3,633.2 913.5,632.0 914.1,630.4 915.7,629.5 916.1,627.7 917.8,626.9 918.5,625.4 918.8,623.6 920.0,622.3 920.7,620.8 920.1,619.1 921.2,617.7 920.9,616.0 921.8,614.6 921.4,612.8 922.6,611.5 921.9,609.7 923.2,608.4 923.1,606.7 922.8,605.2 923.7,603.8 923.0,602.2 923.9,600.8 923.6,599.2 924.6,597.8 924.0,596.2 924.9,594.8 923.9,593.2 924.8,591.8 924.4,590.2 925.4,588.8 924.5,587.2 925.6,585.8 924.8,584.2 925.9,582.8 925.2,581.2 926.0,579.8 925.5,578.2 926.4,576.8 925.8,575.3 926.7,573.8 926.4,572.3 927.1,570.9 926.6,569.3 927.0,567.8 928.3,566.9 928.8,565.4 930.2,564.6 930.9,563.2 931.3,564.7 930.9,566.3 931.8,567.8 931.1,569.4 932.1,570.9 931.6,572.5 932.4,574.0 931.8,575.6 932.9,577.1 932.3,578.7 933.0,580.2 932.5,581.9 933.4,583.3 932.8,585.0 933.9,586.4 933.4,588.1 934.2,589.6 934.0,591.2 933.8,592.8 935.1,594.2 934.5,595.9 935.8,597.3 935.0,599.1 936.4,600.4 935.6,602.2 936.9,603.5 936.3,605.3 937.1,606.7 937.7,608.2 937.2,609.9 938.6,611.3 937.8,613.0 939.2,614.4 938.5,616.1 939.8,617.5 939.4,619.2 940.4,620.6 940.2,622.3 941.1,620.8 941.0,619.0 942.6,617.8 942.2,615.9 943.3,614.5 944.1,613.0 943.6,611.3 944.6,609.9 944.1,608.2 945.3,606.8 944.7,605.1 945.7,603.7 945.7,602.1 946.4,603.5 945.7,605.3 947.0,606.6 946.5,608.3 947.5,609.8 947.0,611.5 947.9,612.9 947.6,614.6 948.5,616.0 948.1,617.7 948.8,619.2 949.4,620.7 949.1,622.4 950.4,623.7 950.1,625.5 951.2,626.8 950.6,628.6 951.7,630.0 951.9,631.6 952.7,630.1 952.1,628.4 953.3,627.0 952.5,625.3 953.7,623.9 953.1,622.2 954.1,620.8 953.7,619.1 954.9,617.7 954.2,616.0 955.0,614.5 955.2,616.2 956.3,617.5 956.2,619.3 957.3,620.6 957.2,622.4 958.1,623.8 958.2,622.1 959.5,620.9 959.1,619.0 960.4,617.7 960.1,615.9 961.5,614.7 961.1,612.8 962.0,611.4 962.0,613.0 962.8,614.5 962.5,616.1 963.4,617.6 962.8,619.2 963.9,620.7 963.6,622.3 964.7,623.7 963.9,625.5 965.2,626.9 964.5,628.6 965.1,630.1 965.7,628.4 966.9,627.0 967.0,625.1 968.4,623.9 969.0,622.3 969.7,623.8 969.6,625.5 970.9,626.8 970.9,628.6 971.9,630.0 971.7,631.8 972.9,633.1 972.8,634.8 973.7,636.3 973.6,634.7 974.4,633.2 973.6,631.6 974.7,630.1 974.0,628.5 975.1,627.0 974.6,625.4 975.1,623.9 974.6,622.2 975.6,620.8 975.0,619.1 976.1,617.7 975.4,616.0 976.2,614.5 976.0,612.9 975.9,611.3 977.2,609.9 976.9,608.2 977.7,606.8 977.2,605.0 978.5,603.7 978.1,602.0 979.3,600.6 979.1,598.9 979.0,597.3 980.3,595.9 979.8,594.2 980.8,592.8 980.4,591.1 981.2,589.6 980.9,588.0 982.0,586.6 981.6,584.9 982.2,583.4 982.6,581.8 982.1,580.2 983.0,578.7 982.0,577.1 983.2,575.6 982.2,574.0 983.2,572.5 982.8,570.9 983.3,569.4 982.6,567.8 983.5,566.3 982.9,564.7 984.0,563.2 983.0,561.6 984.0,560.1 983.5,558.5 984.3,557.0 983.7,555.4 984.2,553.8 983.8,552.2 984.7,550.7 983.8,549.1 984.7,547.6 984.3,546.0 984.6,544.5 985.2,543.0 985.0,541.3 985.9,539.9 985.7,538.2 986.5,536.8 986.2,535.1 986.9,533.6 987.0,535.2 988.0,536.6 988.0,538.3 988.8,539.8 988.9,541.4 989.7,542.9 990.0,544.5 989.8,546.1 990.5,547.6 989.9,549.2 990.8,550.7 990.4,552.3 991.2,553.8 990.5,555.4 991.3,556.9 990.6,558.5 991.5,560.0 990.9,561.6 991.6,563.1 991.2,564.7 991.9,566.2 991.4,567.9 992.3,569.3 991.7,571.0 992.5,572.5 992.1,574.1 992.4,575.6 993.3,577.0 992.6,578.8 993.8,580.2 993.3,582.0 994.8,583.3 994.3,585.0 995.4,586.4 995.5,588.0 995.1,589.6 996.2,591.1 995.3,592.8 996.3,594.2 995.5,595.9 996.4,597.4 995.7,599.0 996.9,600.5 996.2,602.1 996.8,603.6 996.2,605.2 997.2,606.7 996.6,608.3 997.1,609.8 996.5,611.4 997.8,612.9 996.7,614.5 997.6,616.0 997.0,617.6 998.0,619.1 997.4,620.7 997.8,622.3 999.5,622.8 1000.9,623.8 1001.6,622.3 1001.0,620.7 1001.8,619.2 1001.6,617.6 1002.2,616.1 1001.9,614.5 1002.9,613.0 1002.2,611.3 1003.4,609.9 1002.5,608.2 1003.8,606.8 1003.1,605.1 1004.1,603.7 1003.5,602.0 1004.6,600.6 1004.1,598.9 1005.0,597.4 1004.8,595.8 1006.3,596.6 1007.2,598.2 1008.7,598.9 1009.1,597.2 1010.6,596.0 1010.6,594.1 1012.1,592.9 1012.6,591.2 1013.1,592.7 1012.5,594.4 1013.8,595.8 1013.2,597.4 1014.3,598.9 1013.5,600.6 1014.6,602.0 1014.2,603.7 1015.0,605.1 1014.8,606.8 1015.5,608.2 1014.9,609.9 1015.7,611.4 1017.2,612.6 1017.3,614.7 1019.1,615.7 1019.6,617.6 1019.6,619.2 1020.5,620.7 1019.7,622.4 1020.8,623.8 1020.6,625.4 1021.6,626.9 1020.8,628.6 1022.1,630.0 1021.5,631.7 1022.5,633.1 1021.8,634.8 1023.0,636.2 1022.7,637.8 1022.8,639.5 1023.7,640.9 1023.4,642.6 1024.6,644.0 1024.4,645.7 1025.3,647.1 1025.2,648.8 1026.2,650.2 1025.7,652.0 1026.6,653.4 1027.3,654.9 1027.3,656.6 1028.5,657.9 1028.3,659.7 1029.4,661.1 1029.3,662.8 1030.5,664.1 1030.5,665.9 1031.8,667.0 1033.6,667.4 1033.7,665.8 1034.6,664.4 1034.2,662.6 1035.2,661.2 1035.1,659.6 1036.0,658.1 1035.8,656.5 1036.6,655.0 1036.7,653.4 1036.6,651.8 1037.3,650.3 1036.6,648.7 1037.9,647.2 1037.1,645.6 1038.1,644.1 1037.3,642.5 1038.5,641.0 1037.8,639.4 1038.7,637.9 1037.9,636.2 1039.1,634.8 1038.5,633.2 1039.4,631.7 1038.5,630.0 1039.6,628.5 1039.2,626.9 1039.7,625.4 1039.5,623.8 1039.8,622.3 1040.4,620.8 1039.8,619.1 1040.7,617.6 1040.2,616.0 1041.3,614.6 1040.9,612.9 1041.8,611.5 1041.3,609.8 1042.1,608.3 1041.8,606.7 1042.8,605.2 1042.3,603.6 1043.0,602.1 1042.9,600.5 1043.4,602.0 1043.0,603.7 1044.2,605.1 1043.6,606.8 1044.5,608.2 1044.3,609.9 1045.3,611.3 1044.6,613.0 1045.5,614.5 1045.1,616.1 1046.3,617.5 1046.0,619.2 1046.2,620.8 1047.4,622.1 1047.0,623.9 1047.9,625.3 1047.6,627.0 1048.9,628.4 1048.4,630.2 1049.6,631.5 1049.1,633.3 1050.2,634.7 1050.0,636.4 1050.7,637.8 1050.4,636.3 1051.3,634.8 1050.8,633.2 1051.4,631.6 1050.7,630.0 1052.0,628.5 1051.3,626.9 1052.2,625.4 1051.4,623.8 1052.4,622.3 1051.6,620.7 1052.5,619.2 1051.9,617.6 1052.5,616.1 1052.1,614.5 1052.9,613.0 1052.1,611.3 1053.3,609.9 1052.6,608.3 1053.0,606.7 1054.0,605.3 1053.5,603.5 1054.8,602.2 1054.3,600.4 1055.7,599.1 1055.4,597.3 1056.2,595.8 1055.7,597.4 1056.8,598.8 1055.8,600.3 1056.9,601.8 1056.2,603.3 1057.1,604.8 1056.1,606.4 1057.2,607.8 1056.4,609.3 1057.0,610.8 1056.2,612.4 1057.4,613.8 1056.4,615.4 1057.2,616.8 1056.7,618.3 1057.4,619.8 1056.9,621.3 1057.5,622.8 1056.8,624.4 1057.8,625.8 1056.8,627.4 1057.9,628.8 1057.2,630.3 1058.0,631.8 1057.3,633.4 1057.9,634.8 1057.2,636.4 1057.7,637.8 1057.9,636.2 1058.8,634.8 1058.6,633.0 1059.7,631.7 1059.5,629.9 1060.6,628.6 1060.8,627.0 1060.7,625.3 1062.0,623.9 1061.4,622.2 1062.3,620.8 1061.8,619.1 1063.2,617.7 1062.6,616.0 1063.8,614.6 1063.3,612.9 1063.9,611.4 1065.7,612.1 1067.6,612.2 1069.4,612.9 1069.3,614.6 1070.6,615.9 1070.2,617.7 1071.0,619.1 1070.8,620.8 1071.8,622.2 1071.5,623.9 1072.7,625.3 1072.2,627.0 1073.4,628.4 1073.3,630.1 1074.0,628.6 1073.2,626.9 1074.5,625.5 1073.7,623.7 1074.9,622.3 1074.4,620.7 1075.3,619.2 1075.1,617.6 1075.9,616.1 1075.3,614.4 1076.7,613.0 1076.4,611.4 1077.1,609.6 1078.7,608.5 1079.5,606.7 1079.4,605.1 1080.3,603.7 1079.7,602.0 1080.9,600.6 1080.0,598.9 1081.0,597.4 1080.4,595.8 1081.4,594.3 1080.7,592.6 1081.7,591.2 1081.1,589.5 1081.8,588.0 1082.3,589.7 1083.7,591.0 1084.0,592.8 1085.2,594.1 1085.7,595.8 1087.0,597.6 1088.8,598.9 1089.3,600.5 1088.8,602.1 1089.6,603.6 1089.3,605.2 1090.2,606.7 1089.6,608.3 1090.6,609.8 1090.1,611.4 1090.9,612.9 1090.3,614.6 1091.6,616.0 1090.9,617.6 1091.6,619.1 1091.0,620.8 1092.3,622.2 1091.9,623.8 1092.5,622.3 1091.8,620.6 1093.1,619.2 1092.4,617.5 1093.4,616.1 1093.2,614.5 1094.2,613.0 1093.5,611.3 1094.4,609.9 1093.9,608.2 1094.8,606.7 1094.6,605.1 1095.6,603.7 1094.9,602.0 1096.0,600.6 1095.8,598.9 1097.6,597.8 1099.7,597.4 1099.5,599.0 1100.4,600.5 1100.0,602.1 1101.0,603.6 1100.5,605.2 1101.5,606.7 1100.6,608.4 1101.9,609.8 1101.4,611.4 1102.1,612.9 1102.1,614.5 1102.7,613.0 1102.2,611.3 1103.2,609.9 1102.9,608.2 1103.7,606.8 1103.3,605.1 1104.1,603.6 1103.5,602.0 1104.9,600.6 1104.1,598.8 1105.2,597.4 1105.2,595.8 1106.9,594.6 1109.1,594.3 1109.6,592.8 1109.0,591.1 1109.8,589.6 1109.0,588.0 1110.0,586.5 1109.3,584.9 1110.1,583.4 1109.6,581.8 1110.3,580.3 1109.7,578.7 1110.6,577.2 1110.1,575.6 1110.6,574.1 1109.9,572.4 1111.0,571.0 1110.2,569.3 1111.4,567.9 1110.7,566.2 1111.3,564.7 1110.9,563.1 1111.5,561.6 1111.4,560.0 1112.8,558.3 1114.5,556.9 1114.4,558.6 1115.6,559.9 1115.2,561.6 1116.1,563.1 1115.6,564.8 1116.8,566.2 1116.2,567.9 1117.5,569.3 1117.1,571.0 1117.6,572.5 1119.3,573.9 1120.7,575.6 1120.3,577.2 1121.3,578.7 1120.5,580.3 1121.6,581.8 1120.7,583.4 1121.8,584.9 1121.0,586.5 1122.0,588.0 1121.1,589.6 1122.0,591.1 1121.2,592.7 1122.2,594.3 1121.6,595.8 1122.5,597.4 1121.5,599.0 1122.5,600.5 1122.0,602.1 1122.6,603.6 1122.0,605.2 1123.0,606.7 1122.3,608.3 1123.1,609.8 1122.5,611.4 1123.4,612.9 1123.1,614.5 1123.0,616.1 1123.7,617.6 1123.3,619.2 1124.0,620.7 1123.4,622.3 1124.3,623.8 1123.8,625.4 1124.7,626.9 1124.1,628.5 1124.9,630.0 1124.1,631.7 1125.1,633.1 1124.6,634.8 1125.6,636.2 1124.9,637.9 1125.4,639.4 1125.0,637.8 1126.2,636.3 1125.6,634.7 1126.4,633.2 1125.8,631.6 1126.7,630.1 1126.0,628.5 1126.8,627.0 1126.4,625.4 1127.2,623.9 1126.7,622.2 1127.5,620.8 1127.0,619.1 1128.0,617.7 1127.2,616.0 1128.1,614.5 1127.7,612.9 1128.5,611.4 1127.8,609.8 1128.8,608.3 1128.5,606.7 1129.0,608.2 1128.7,609.9 1130.0,611.3 1129.4,613.0 1130.6,614.4 1130.1,616.1 1131.1,617.5 1130.8,619.2 1131.9,620.6 1131.3,622.4 1132.5,623.8 1132.4,625.4 1132.7,627.1 1133.9,628.4 1133.7,630.3 1135.1,631.5 1135.5,633.2 1136.1,631.7 1135.6,630.0 1136.6,628.6 1135.7,626.9 1136.8,625.4 1136.1,623.8 1137.1,622.3 1136.4,620.7 1137.5,619.2 1136.8,617.6 1137.7,616.1 1137.4,614.5 1138.4,613.0 1137.8,611.4 1138.4,609.9 1138.1,608.2 1138.6,606.7 1139.8,605.7 1139.7,603.8 1141.2,603.0 1141.4,601.3 1143.0,600.5 1143.3,598.9 1143.9,600.5 1143.1,602.1 1144.1,603.6 1143.6,605.2 1144.3,606.7 1143.7,608.3 1144.6,609.8 1144.0,611.4 1144.9,612.9 1144.3,614.5 1145.2,616.0 1144.6,617.7 1145.7,619.1 1144.8,620.8 1145.8,622.2 1145.6,623.8 1145.6,625.6 1146.9,626.9 1146.9,628.6 1148.0,630.0 1147.9,631.7 1148.7,633.2 1148.8,631.6 1149.5,630.1 1149.0,628.4 1150.2,627.0 1149.6,625.3 1150.7,623.9 1150.0,622.2 1151.1,620.8 1150.4,619.1 1151.5,617.7 1150.9,616.0 1152.0,614.6 1151.8,612.9 1152.6,611.2 1154.2,610.1 1154.4,608.0 1155.7,606.7 1156.3,608.4 1157.7,609.6 1157.6,611.6 1159.0,612.9 1159.6,614.5 1160.3,613.0 1159.6,611.4 1160.6,609.9 1159.9,608.2 1160.7,606.8 1160.0,605.1 1161.0,603.6 1160.5,602.0 1161.4,600.5 1160.8,598.9 1161.4,597.4 1161.1,595.8 1162.1,594.3 1161.2,592.7 1162.0,591.2 1162.0,589.6 1162.6,591.1 1162.1,592.8 1163.1,594.2 1162.6,595.9 1164.0,597.3 1163.2,599.0 1164.4,600.4 1163.9,602.1 1164.8,603.6 1164.3,605.2 1165.1,606.7 1165.8,608.2 1165.0,609.9 1166.0,611.4 1165.3,613.0 1166.7,614.4 1165.9,616.1 1166.9,617.6 1166.6,619.2 1167.2,620.7 1166.7,622.4 1167.9,623.8 1167.1,625.5 1168.1,626.9 1167.8,628.6 1168.6,630.0 1168.0,631.7 1169.2,633.1 1169.0,634.7 1169.6,633.2 1169.0,631.6 1169.9,630.1 1169.4,628.5 1170.2,627.0 1169.7,625.3 1170.8,623.9 1170.2,622.2 1171.3,620.8 1170.8,619.1 1171.7,617.7 1171.2,616.0 1171.9,614.5 1171.4,612.9 1172.4,611.4 1171.7,609.8 1172.7,608.3 1172.3,606.7 1172.9,605.2 1172.8,606.8 1173.7,608.2 1173.2,609.9 1174.3,611.3 1173.9,613.0 1175.0,614.4 1174.6,616.1 1175.5,617.5 1175.0,619.2 1176.0,620.7 1175.5,622.3 1176.4,623.8 1176.2,625.4 1176.7,627.0 1177.6,625.4 1179.3,624.8 1180.0,623.2 1181.4,622.3 1181.5,623.9 1182.6,625.3 1182.1,627.1 1183.4,628.4 1183.2,630.1 1184.1,631.5 1183.8,633.3 1184.5,634.7 1184.6,633.1 1185.6,631.7 1185.0,630.0 1186.2,628.6 1185.6,626.9 1186.5,625.4 1186.0,623.7 1187.0,622.3 1186.7,620.7 1187.7,619.2 1187.6,617.6 1188.5,619.1 1188.5,620.9 1189.9,622.2 1189.7,624.1 1191.4,625.2 1191.5,627.0 1191.6,628.5 1192.3,630.0 1191.8,631.7 1193.0,633.1 1192.5,634.8 1193.4,636.2 1192.8,637.9 1194.2,639.3 1193.5,641.0 1194.6,642.4 1193.8,644.2 1194.6,645.6 1195.2,647.1 1194.5,648.8 1195.6,650.2 1194.7,651.9 1195.7,653.4 1194.9,655.0 1195.7,656.5 1195.4,658.1 1196.0,659.6 1195.6,661.2 1196.6,662.7 1195.7,664.3 1196.7,665.8 1196.0,667.4 1196.9,668.9 1196.3,670.6 1197.2,672.0 1197.0,673.6 1197.7,672.2 1196.7,670.6 1197.6,669.1 1197.1,667.6 1198.2,666.1 1197.4,664.5 1198.1,663.1 1197.8,661.5 1198.6,660.1 1198.0,658.5 1198.9,657.1 1198.1,655.5 1199.1,654.0 1198.4,652.4 1199.4,651.0 1198.7,649.4 1199.7,648.0 1199.1,646.4 1199.8,645.0 1199.2,643.4 1200.4,642.0 1199.7,640.4 1200.3,638.9 1199.8,637.4 1200.9,635.9 1199.9,634.3 1200.9,632.9 1200.3,631.3 1201.1,629.9 1200.5,628.3 1201.4,626.8 1200.7,625.3 1201.7,623.8 1201.6,622.3 1202.1,620.6 1203.4,619.3 1203.7,617.5 1205.0,616.2 1205.4,614.5 1205.5,612.9 1206.3,611.4 1206.1,609.8 1207.3,608.4 1206.6,606.6 1207.8,605.3 1207.8,603.6 1208.3,605.1 1207.9,606.8 1208.8,608.2 1208.4,609.9 1209.6,611.3 1209.1,613.0 1210.0,614.4 1209.5,616.1 1210.5,617.6 1210.2,619.2 1211.2,620.6 1210.9,622.3 1211.6,620.8 1211.0,619.1 1212.0,617.7 1211.2,616.0 1212.3,614.6 1211.6,612.9 1212.3,611.4 1211.7,609.8 1212.8,608.3 1212.4,606.7 1213.1,605.2 1212.6,603.6 1213.7,602.1 1212.7,600.4 1213.8,599.0 1213.4,597.4 1214.1,595.9 1214.0,594.3 1214.9,595.7 1214.2,597.5 1215.1,598.9 1214.9,600.6 1215.9,602.0 1215.3,603.7 1216.4,605.1 1216.3,606.7 1216.1,608.4 1217.2,609.8 1216.5,611.5 1217.8,612.9 1217.1,614.6 1218.0,616.0 1217.7,617.7 1218.5,619.1 1218.0,620.8 1219.3,622.2 1218.5,623.9 1219.7,625.3 1219.5,627.0 1219.9,628.6 1220.9,630.0 1221.1,631.7 1222.3,633.0 1222.6,634.7 1223.0,633.2 1222.3,631.6 1223.3,630.1 1222.8,628.5 1223.7,627.0 1223.3,625.4 1224.2,623.9 1223.4,622.2 1224.4,620.8 1223.8,619.1 1224.6,617.6 1224.1,616.0 1225.2,614.6 1224.3,612.9 1225.5,611.4 1224.7,609.8 1225.6,608.3 1224.9,606.7 1225.7,605.2 1226.0,606.8 1227.0,608.2 1226.8,610.0 1228.2,611.2 1227.8,613.1 1228.8,614.5 1229.8,615.9 1229.6,617.8 1231.0,619.0 1231.1,620.8 1231.9,622.3 1232.6,623.8 1232.3,625.5 1233.5,626.8 1233.1,628.6 1234.2,630.0 1233.7,631.7 1235.0,633.1 1235.0,634.7 1235.8,633.3 1235.4,631.5 1236.4,630.1 1236.2,628.4 1237.5,627.1 1237.0,625.3 1238.1,623.9 1238.1,622.3 1238.8,620.5 1240.4,619.3 1241.2,617.6 1242.1,619.1 1242.0,620.8 1243.2,622.2 1242.9,624.0 1244.3,625.2 1244.3,627.0 1245.2,625.5 1244.8,623.8 1246.1,622.4 1245.5,620.6 1246.6,619.3 1246.4,617.6 1247.3,616.1 1247.1,614.4 1248.3,613.1 1248.2,611.4 1249.6,612.3 1250.4,613.9 1252.0,614.6 1252.9,616.1 1253.5,614.6 1253.4,612.9 1254.4,611.5 1254.0,609.7 1255.2,608.4 1254.8,606.6 1255.9,605.2 1256.0,603.6 1255.9,602.1 1256.7,600.6 1255.8,599.1 1256.8,597.6 1255.9,596.1 1256.9,594.6 1256.4,593.1 1256.9,591.6 1256.3,590.1 1257.3,588.6 1256.7,587.1 1257.5,585.6 1256.5,584.0 1257.6,582.6 1256.7,581.0 1257.7,579.6 1256.9,578.0 1257.7,576.6 1257.1,575.0 1258.1,573.6 1257.2,572.0 1258.4,570.6 1257.5,569.0 1258.1,567.6 1257.5,566.0 1258.7,564.6 1257.6,563.0 1258.8,561.6 1258.4,560.0 1259.5,558.9 1261.2,558.3 1262.2,556.9 1263.0,558.4 1262.3,560.1 1263.3,561.5 1262.6,563.2 1263.6,564.7 1262.8,566.3 1263.8,567.8 1263.5,569.4 1264.5,570.9 1263.7,572.6 1264.8,574.0 1264.6,575.6 1264.2,577.2 1265.2,578.7 1264.8,580.3 1265.5,581.8 1264.9,583.4 1266.0,584.9 1265.4,586.5 1266.4,588.0 1265.8,589.7 1266.7,591.1 1266.3,592.7 1267.2,594.2 1266.9,595.8 1267.0,597.5 1268.1,598.9 1267.9,600.6 1268.9,602.0 1268.7,603.7 1269.9,605.1 1270.0,606.7 1269.9,608.3 1270.8,609.8 1270.5,611.4 1271.4,612.9 1270.7,614.6 1271.9,616.0 1271.3,617.7 1272.4,619.1 1271.8,620.8 1272.4,622.3 1272.2,620.7 1273.4,619.3 1272.8,617.6 1273.8,616.1 1273.3,614.4 1274.1,613.0 1273.6,611.3 1275.0,609.9 1274.2,608.2 1275.1,606.8 1274.7,605.1 1275.5,603.6 1275.3,605.2 1276.2,606.7 1275.4,608.3 1276.0,609.8 1275.5,611.4 1276.2,612.9 1275.6,614.5 1276.5,616.0 1275.8,617.6 1276.6,619.2 1276.3,620.7 1277.1,622.3 1276.3,623.9 1277.3,625.4 1276.7,627.0 1277.4,628.5 1276.6,630.1 1277.7,631.6 1276.8,633.2 1277.9,634.7 1277.0,636.3 1278.0,637.8 1277.3,639.4 1277.8,641.0 1277.7,639.3 1279.0,637.9 1278.5,636.2 1279.4,634.8 1278.9,633.1 1280.0,631.7 1279.8,630.0 1280.9,628.6 1280.1,626.8 1281.3,625.4 1281.2,623.8 1281.7,622.3 1283.1,620.9 1283.4,618.9 1284.8,617.6 1284.6,619.2 1285.7,620.7 1285.1,622.3 1286.0,623.8 1285.7,625.4 1286.6,626.9 1285.9,628.6 1287.1,630.0 1286.5,631.7 1287.6,633.1 1287.0,634.8 1288.1,636.2 1287.9,637.8 1288.4,636.3 1288.2,634.7 1289.0,633.2 1288.6,631.6 1289.5,630.1 1288.9,628.4 1289.9,627.0 1289.8,625.4 1290.7,623.9 1290.3,622.2 1291.0,620.8 1291.0,619.2 1291.7,620.7 1291.5,622.4 1292.6,623.7 1292.2,625.5 1293.5,626.8 1292.8,628.6 1294.0,630.0 1293.8,631.7 1294.9,633.1 1294.9,634.7 1295.5,633.2 1295.2,631.5 1296.5,630.2 1296.1,628.4 1296.9,627.0 1296.8,625.3 1297.7,623.9 1297.2,622.1 1298.5,620.8 1298.2,619.1 1298.8,617.6 1300.5,618.9 1302.7,619.2 1302.8,617.5 1303.8,616.1 1303.4,614.4 1304.8,613.1 1304.1,611.3 1305.3,609.9 1304.9,608.1 1306.2,606.8 1305.7,605.0 1306.6,603.6 1306.5,605.2 1307.4,606.7 1306.7,608.3 1308.0,609.8 1307.0,611.5 1308.2,612.9 1307.7,614.5 1308.6,616.0 1308.1,617.6 1309.1,619.1 1308.2,620.8 1309.5,622.2 1308.9,623.9 1309.7,625.3 1309.1,627.0 1309.7,628.5 1309.6,626.8 1311.1,625.5 1310.8,623.8 1311.7,622.4 1311.7,620.7 1312.9,619.3 1312.4,617.5 1313.6,616.2 1313.6,614.5 1315.7,614.8 1317.5,616.1 1318.5,614.6 1318.8,612.8 1320.2,611.6 1320.6,609.8 1321.1,611.4 1320.5,613.0 1321.5,614.5 1320.9,616.1 1321.9,617.6 1321.3,619.2 1322.4,620.7 1321.5,622.3 1322.5,623.8 1322.0,625.4 1323.0,626.9 1322.5,628.5 1322.9,630.1 1322.9,628.5 1323.7,627.0 1323.2,625.3 1324.4,623.9 1323.7,622.2 1324.7,620.8 1324.2,619.1 1325.0,617.6 1324.7,616.0 1325.7,614.6 1325.0,612.9 1325.9,611.4 1325.4,609.8 1326.7,608.4 1325.8,606.6 1327.1,605.2 1326.8,603.6 1327.3,605.1 1326.8,606.7 1327.6,608.2 1327.0,609.9 1327.7,611.4 1327.4,613.0 1328.3,614.5 1327.4,616.1 1328.3,617.6 1328.0,619.2 1328.7,620.7 1328.0,622.3 1329.0,623.8 1328.5,625.4 1329.4,626.9 1328.6,628.6 1329.6,630.0 1328.9,631.7 1330.0,633.1 1329.2,634.8 1330.2,636.2 1329.9,637.8 1330.3,636.3 1329.5,634.8 1330.7,633.3 1329.7,631.8 1330.6,630.3 1329.7,628.7 1330.6,627.2 1330.1,625.7 1330.8,624.2 1330.1,622.6 1331.1,621.2 1330.2,619.6 1331.1,618.1 1330.2,616.6 1331.1,615.1 1330.4,613.5 1331.4,612.1 1330.6,610.5 1331.5,609.0 1330.9,607.5 1331.6,606.0 1330.7,604.4 1331.7,602.9 1331.1,601.4 1331.7,599.9 1331.0,598.4 1331.9,596.9 1330.9,595.3 1331.8,593.8 1331.4,592.3 1332.2,590.8 1331.6,589.3 1332.2,587.8 1331.7,586.2 1332.4,584.7 1331.5,583.2 1332.3,581.7 1331.8,580.1 1332.5,578.6 1331.9,577.1 1332.3,575.6 1332.8,574.1 1332.1,572.5 1333.0,571.0 1332.6,569.4 1333.1,567.8 1332.5,566.2 1333.4,564.7 1332.7,563.1 1333.8,561.6 1333.3,560.0 1334.1,558.5 1333.6,556.9 1334.2,555.4 1333.7,553.8 1334.5,552.3 1334.2,550.7 1334.8,549.2 1334.6,547.6 1335.3,549.1 1335.2,550.9 1336.4,552.2 1336.5,553.9 1337.5,555.3 1337.7,556.9 1338.4,555.4 1337.6,553.8 1338.7,552.3 1338.2,550.7 1339.0,549.2 1338.5,547.6 1339.4,546.1 1338.8,544.4 1339.8,543.0 1339.4,541.3 1340.0,539.8 1340.0,538.3 1340.6,539.8 1339.9,541.4 1340.9,542.9 1340.3,544.5 1341.3,546.0 1340.6,547.6 1341.6,549.1 1341.0,550.7 1341.9,552.2 1341.3,553.9 1342.1,555.4 1341.6,557.0 1342.4,558.5 1342.4,560.0 1341.9,561.6 1342.8,563.1 1342.4,564.7 1343.3,566.2 1342.7,567.8 1343.3,569.4 1342.8,571.0 1343.9,572.4 1342.8,574.1 1343.8,575.6 1343.5,577.2 1344.0,578.7 1343.4,580.3 1344.5,581.8 1343.6,583.4 1344.6,584.9 1344.0,586.5 1345.0,588.0 1344.3,589.6 1344.7,591.2 1345.5,592.6 1344.9,594.4 1345.9,595.8 1345.8,597.4 1346.6,598.9 1346.3,600.6 1347.5,601.9 1347.0,603.6 1347.9,605.1 1347.8,606.7 1348.6,605.3 1348.1,603.6 1349.2,602.1 1348.7,600.4 1349.5,599.0 1349.4,597.3 1350.3,595.9 1349.7,594.2 1350.9,592.8 1350.4,591.1 1351.2,589.6 1351.1,588.0 1352.1,586.6 1351.6,584.9 1352.6,583.5 1352.5,581.8 1353.0,583.3 1352.7,585.0 1353.4,586.5 1352.9,588.1 1354.0,589.6 1353.6,591.2 1354.4,592.7 1354.0,594.3 1355.2,595.7 1354.5,597.4 1355.3,598.9 1355.0,600.6 1355.6,602.1 1357.7,602.4 1359.5,603.6 1359.9,602.1 1359.6,600.5 1360.4,599.0 1359.7,597.4 1360.7,595.9 1359.7,594.2 1360.9,592.8 1360.1,591.1 1361.2,589.6 1360.6,588.0 1361.4,586.5 1360.6,584.9 1361.8,583.4 1361.0,581.8 1362.0,580.3 1361.1,578.7 1362.3,577.2 1361.7,575.6 1362.7,574.1 1361.6,572.4 1362.6,571.0 1362.2,569.4 1362.6,567.8 1363.1,566.3 1362.7,564.6 1363.6,563.2 1363.3,561.5 1364.2,560.1 1363.8,558.4 1364.7,557.0 1364.5,555.3 1364.9,553.8 1365.1,555.4 1366.1,556.8 1365.5,558.6 1366.6,560.0 1366.3,561.6 1367.0,563.1 1366.7,564.8 1367.9,566.2 1367.2,567.9 1368.0,569.4 1368.6,570.9 1368.0,572.6 1369.4,573.9 1368.8,575.7 1369.8,577.1 1369.4,578.7 1370.3,580.2 1369.6,581.9 1370.9,583.3 1370.2,585.0 1371.2,586.4 1371.2,588.0 1373.2,587.5 1375.1,586.5 1375.6,588.0 1375.1,589.7 1375.9,591.1 1375.7,592.8 1376.7,594.2 1376.0,595.9 1377.2,597.3 1376.7,599.0 1377.5,600.4 1377.1,602.1 1378.0,603.5 1377.2,605.3 1378.5,606.7 1377.7,608.4 1379.0,609.8 1378.4,611.4 1378.9,612.9 1378.7,611.3 1379.9,609.9 1379.2,608.2 1380.5,606.8 1379.9,605.1 1380.9,603.7 1380.1,602.0 1381.0,600.5 1380.7,598.9 1381.7,597.4 1381.2,595.8 1382.1,594.3 1382.1,592.7 1382.5,594.2 1382.1,595.9 1383.3,597.3 1382.4,599.0 1383.4,600.5 1383.0,602.1 1383.9,603.6 1383.3,605.2 1384.6,606.6 1383.9,608.3 1384.8,609.8 1384.5,611.4 1385.3,612.9 1385.2,614.5 1385.9,613.0 1385.7,611.2 1387.0,610.0 1386.7,608.2 1387.8,606.8 1387.9,605.1 1388.8,603.7 1389.1,602.1 1389.0,600.5 1389.6,599.0 1389.2,597.4 1390.0,595.9 1389.4,594.2 1390.3,592.7 1389.7,591.1 1390.4,589.6 1390.0,588.0 1390.9,586.5 1390.4,584.9 1391.2,583.4 1390.3,581.8 1391.6,580.3 1390.6,578.7 1391.6,577.2 1391.2,575.6 1391.8,574.1 1391.5,572.5 1392.3,571.0 1391.6,569.3 1392.2,567.8 1392.8,566.3 1392.6,564.6 1394.1,563.3 1393.6,561.5 1394.5,560.0 1394.4,561.6 1395.3,563.1 1395.0,564.7 1395.7,566.2 1395.1,567.9 1396.4,569.3 1395.9,571.0 1396.4,572.5 1395.9,571.0 1396.7,569.5 1396.3,568.0 1397.0,566.5 1396.5,565.0 1397.3,563.5 1396.3,561.9 1397.4,560.5 1396.6,558.9 1397.5,557.5 1396.6,555.9 1397.7,554.5 1396.9,552.9 1397.9,551.5 1397.3,549.9 1397.8,548.5 1397.2,546.9 1398.0,545.5 1397.5,543.9 1398.0,542.5 1397.5,540.9 1398.2,539.5 1397.6,537.9 1398.3,536.4 1397.7,534.9 1398.3,533.4 1397.9,531.9 1398.6,530.4 1398.4,528.9 1398.5,527.1 1399.4,525.5 1399.3,523.6 1399.9,521.9 1400.1,523.7 1400.9,525.3 1401.0,527.0 1401.7,528.6 1401.7,530.4 1402.3,532.0 1402.7,533.6 1402.2,535.2 1403.1,536.7 1402.7,538.3 1403.1,539.8 1402.9,541.4 1403.4,542.9 1403.1,544.5 1403.6,546.0 1403.4,547.6 1403.9,549.1 1403.5,550.7 1404.2,552.2 1403.6,553.9 1404.4,555.4 1403.9,557.0 1404.8,558.5 1404.6,560.0 1404.3,561.7 1405.4,563.1 1404.8,564.8 1405.8,566.2 1405.5,567.9 1406.6,569.3 1405.8,571.0 1407.0,572.4 1406.4,574.1 1407.0,575.6 1408.2,576.9 1408.0,579.0 1409.8,580.0 1410.1,581.8 1409.6,583.4 1410.8,584.9 1410.0,586.5 1410.8,588.0 1410.1,589.6 1410.9,591.1 1410.2,592.7 1410.9,594.3 1410.4,595.8 1410.9,597.4 1410.4,599.0 1411.4,600.5 1410.6,602.1 1411.2,603.6 1410.5,605.2 1411.4,606.7 1410.9,608.3 1411.4,609.8 1410.8,611.4 1411.9,612.9 1411.0,614.5 1411.9,616.0 1411.1,617.6 1411.6,619.2 1411.5,617.5 1413.0,616.2 1412.4,614.4 1413.4,613.0 1413.0,611.2 1414.4,609.9 1414.0,608.2 1414.7,606.7 1414.5,608.4 1416.0,609.7 1415.4,611.5 1416.5,612.9 1416.2,614.6 1417.4,615.9 1416.7,617.7 1417.9,619.1 1417.8,620.7 1418.4,619.2 1417.9,617.5 1419.3,616.2 1418.5,614.4 1419.7,613.0 1419.4,611.4 1420.3,609.9 1420.2,608.3 1420.6,609.8 1420.3,611.4 1421.2,612.9 1420.6,614.6 1421.9,616.0 1421.4,617.6 1422.3,619.1 1421.6,620.8 1422.6,622.2 1422.2,623.9 1423.0,625.4 1422.6,627.0 1423.3,628.5 1424.8,629.4 1425.2,631.2 1427.2,631.6 1428.0,633.2 1428.6,631.7 1428.5,630.0 1429.6,628.6 1429.1,626.8 1430.4,625.5 1430.0,623.8 1431.0,622.4 1431.1,620.7 1431.0,619.0 1432.4,617.7 1432.2,616.0 1433.2,614.6 1433.4,612.9 1434.1,614.4 1433.5,616.1 1434.6,617.5 1433.7,619.2 1434.8,620.7 1434.4,622.3 1435.0,623.8 1434.7,625.4 1435.7,626.9 1435.3,628.5 1436.0,630.0 1435.6,631.7 1436.5,633.1 1435.9,634.8 1436.5,636.3 1436.4,634.7 1437.4,633.2 1436.9,631.6 1437.8,630.1 1437.2,628.5 1438.2,627.0 1437.5,625.3 1438.7,623.9 1437.8,622.2 1438.8,620.8 1438.3,619.1 1439.4,617.7 1438.8,616.0 1439.7,614.5 1439.6,612.9 1440.2,614.5 1439.7,616.1 1440.6,617.6 1439.9,619.2 1441.0,620.7 1440.5,622.3 1441.3,623.8 1441.0,625.4 1441.8,626.9 1441.4,628.6 1442.2,630.0 1441.8,631.7 1442.6,633.1 1442.2,634.8 1442.7,636.3 1442.6,634.7 1443.6,633.2 1442.9,631.6 1443.9,630.1 1443.4,628.5 1444.4,627.0 1443.7,625.3 1444.7,623.9 1444.0,622.2 1445.3,620.8 1444.5,619.1 1445.5,617.6 1445.2,616.0 1446.1,614.6 1445.9,612.9 1446.6,614.4 1446.0,616.1 1447.1,617.5 1446.5,619.2 1447.3,620.7 1446.8,622.4 1448.2,623.7 1447.6,625.4 1448.7,626.9 1448.2,628.5 1449.1,630.0 1448.5,631.7 1449.6,633.1 1449.0,634.8 1449.7,636.3 1449.9,634.7 1450.8,633.2 1450.5,631.5 1451.8,630.2 1451.5,628.5 1452.1,627.0 1451.9,628.6 1452.9,630.0 1452.6,631.7 1453.7,633.1 1453.1,634.8 1454.2,636.2 1453.7,637.9 1454.8,639.3 1454.2,641.1 1455.4,642.4 1455.1,644.1 1456.0,645.6 1456.0,647.2 1457.3,645.9 1457.1,643.9 1458.6,642.7 1458.9,640.9 1459.9,639.4 1460.7,638.0 1460.2,636.2 1461.3,634.8 1461.1,633.1 1462.3,631.7 1461.8,630.0 1463.1,628.6 1463.0,627.0 1463.9,628.4 1463.8,630.1 1465.0,631.5 1464.7,633.3 1466.3,634.5 1466.0,636.4 1466.9,637.8 1466.8,636.3 1467.8,634.8 1467.0,633.1 1468.0,631.7 1467.6,630.0 1468.8,628.6 1468.1,626.9 1469.0,625.5 1468.6,623.8 1469.7,622.4 1469.0,620.7 1469.9,619.2 1469.4,617.6 1470.0,616.1 1469.6,617.7 1470.7,619.1 1470.1,620.8 1471.2,622.2 1470.4,623.9 1471.5,625.3 1470.7,627.0 1471.9,628.5 1471.3,630.1 1472.2,631.6 1471.6,633.2 1472.6,634.7 1471.9,636.3 1472.9,637.8 1472.2,639.5 1473.4,640.9 1473.1,642.5 1473.8,641.0 1473.6,639.2 1474.9,637.9 1474.8,636.2 1476.1,634.9 1476.2,633.2 1476.8,634.7 1476.4,636.4 1477.6,637.8 1477.2,639.5 1478.5,640.9 1478.1,642.6 1479.5,643.9 1479.3,645.6 1479.8,644.1 1479.0,642.5 1480.2,641.1 1479.5,639.5 1480.4,638.0 1479.7,636.4 1480.6,635.0 1480.2,633.4 1481.0,631.9 1480.3,630.3 1481.5,628.9 1480.7,627.3 1481.5,625.8 1480.9,624.2 1482.2,622.8 1481.2,621.2 1482.2,619.8 1481.5,618.2 1482.4,616.7 1482.3,615.2 1483.3,616.4 1483.1,618.2 1484.6,619.3 1484.5,621.0 1485.4,622.3 1485.3,620.7 1486.4,619.2 1485.8,617.6 1486.7,616.1 1486.4,614.5 1487.5,613.1 1486.6,611.4 1487.6,610.0 1487.3,608.3 1488.2,606.9 1487.6,605.2 1488.7,603.8 1488.6,602.2 1489.5,603.6 1488.9,605.3 1489.9,606.7 1489.7,608.3 1490.8,609.6 1490.4,611.3 1491.3,612.7 1490.8,614.4 1491.7,615.8 1491.6,614.2 1492.4,612.7 1491.7,611.0 1492.7,609.5 1492.3,607.9 1493.3,606.4 1492.4,604.7 1493.5,603.3 1492.9,601.6 1493.9,600.1 1493.2,598.4 1494.3,597.0 1493.8,595.3 1494.7,593.8 1494.2,592.2 1495.1,590.7 1494.8,589.1 1495.1,590.6 1494.8,592.3 1495.6,593.8 1494.8,595.4 1495.8,596.9 1495.2,598.6 1495.9,600.1 1495.4,601.7 1496.3,603.2 1495.8,604.9 1496.4,606.4 1496.1,608.0 1496.7,609.5 1496.4,611.2 1497.0,612.7 1496.3,614.3 1497.4,615.8 1497.1,617.5 1498.3,616.0 1498.0,614.1 1499.3,612.8 1499.2,610.9 1500.2,609.4 1500.0,611.0 1500.9,612.5 1500.6,614.1 1501.6,615.5 1500.9,617.2 1502.0,618.6 1501.4,620.3 1502.5,621.7 1502.0,623.4 1502.7,624.9 1502.2,626.5 1503.4,627.9 1502.8,629.6 1503.3,631.1 1503.1,629.4 1504.3,627.9 1504.0,626.2 1505.0,624.7 1504.5,622.9 1505.4,621.4 1505.3,619.8 1506.1,618.2 1505.8,616.5 1506.5,615.0 1506.7,616.6 1507.8,618.0 1507.4,619.8 1508.6,621.2 1508.4,623.0 1509.4,624.4 1509.6,626.0 1510.7,624.7 1510.5,622.7 1511.7,621.3 1511.7,619.5 1512.7,618.0 1512.5,619.6 1513.6,620.9 1512.9,622.6 1513.7,624.0 1513.4,625.5 1514.4,626.9 1513.5,628.5 1514.7,629.9 1514.2,631.5 1515.2,632.9 1514.4,634.5 1515.0,635.9 1514.7,634.3 1515.6,632.8 1515.2,631.2 1516.2,629.8 1515.4,628.1 1516.6,626.7 1515.9,625.0 1516.7,623.5 1516.1,621.9 1517.4,620.5 1516.4,618.8 1517.6,617.3 1517.3,615.7 1518.2,617.2 1517.7,618.8 1518.8,620.2 1518.3,621.9 1519.1,623.3 1518.7,624.9 1519.8,626.3 1519.4,627.9 1520.2,629.3 1519.7,631.0 1521.0,632.3 1520.5,634.0 1521.6,635.3 1521.0,637.0 1522.3,638.4 1522.0,640.0 1522.6,638.5 1522.3,636.9 1523.0,635.4 1522.6,633.8 1523.6,632.4 1523.4,630.8 1524.2,629.4 1523.7,627.7 1524.9,626.4 1524.3,624.7 1525.2,623.3 1524.6,621.6 1525.8,620.3 1525.4,618.6 1525.9,617.1 1525.9,618.8 1526.7,620.2 1526.3,621.9 1527.5,623.3 1526.9,625.0 1527.8,626.5 1527.5,628.1 1528.4,629.6 1528.1,631.3 1529.0,632.7 1529.0,634.3 1529.6,632.9 1529.2,631.2 1530.5,629.9 1529.9,628.2 1531.2,627.0 1530.9,625.3 1532.1,624.0 1531.6,622.3 1532.4,620.9 1532.3,619.3 1532.9,617.9 1533.3,619.4 1534.3,620.7 1534.1,622.5 1535.5,623.7 1535.3,625.4 1536.8,626.6 1536.8,628.3 1537.4,626.7 1536.6,625.0 1537.8,623.6 1537.2,621.9 1538.3,620.4 1537.7,618.7 1538.4,617.2 1537.8,615.5 1538.9,614.1 1538.4,612.4 1539.4,610.9 1539.1,609.3 1540.1,610.6 1539.5,612.4 1540.9,613.6 1540.2,615.4 1541.5,616.6 1541.0,618.3 1542.1,619.6 1542.2,621.2 1543.6,622.3 1545.4,622.3 1545.3,620.8 1546.3,619.4 1545.5,617.7 1546.5,616.4 1546.1,614.8 1547.0,613.4 1546.3,611.8 1547.4,610.4 1546.8,608.8 1547.5,607.4 1547.2,605.8 1548.1,604.4 1547.4,602.8 1548.4,601.4 1548.0,599.9 1548.5,598.4 1550.0,597.2 1550.8,595.3 1552.4,594.1 1553.9,593.6 1554.3,591.8 1556.1,591.6 1557.0,590.3 1557.5,591.9 1557.1,593.5 1557.6,595.1 1557.4,596.7 1558.0,598.2 1557.6,599.8 1558.4,601.4 1557.7,603.0 1558.9,604.5 1557.9,606.2 1559.1,607.7 1558.2,609.3 1559.5,610.8 1558.8,612.5 1559.6,614.0 1559.4,615.6 1560.5,614.3 1559.9,612.4 1561.3,611.3 1561.3,609.6 1562.6,608.4 1562.5,606.6 1563.2,605.2 1563.1,606.9 1564.3,608.1 1563.9,609.8 1565.2,611.1 1564.8,612.8 1566.1,614.1 1565.7,615.8 1566.4,617.2 1567.2,618.6 1566.9,620.3 1568.0,621.6 1567.5,623.3 1568.7,624.5 1568.2,626.3 1569.4,627.5 1569.0,629.2 1570.4,630.5 1570.2,632.1 1571.1,630.7 1570.3,628.9 1571.2,627.5 1570.9,625.9 1572.1,624.5 1571.3,622.8 1572.3,621.3 1571.8,619.7 1573.1,618.3 1572.6,616.6 1573.3,615.2 1573.4,613.6 1574.0,615.1 1573.5,616.7 1574.2,618.2 1573.7,619.9 1575.0,621.2 1574.1,622.9 1575.2,624.4 1574.6,626.0 1575.6,627.5 1575.1,629.1 1576.1,630.5 1575.6,632.2 1576.8,633.6 1576.5,635.2 1577.2,633.8 1576.7,632.1 1577.7,630.7 1577.2,629.1 1578.2,627.7 1577.8,626.1 1578.9,624.7 1578.3,623.1 1579.0,621.6 1578.8,620.0 1579.8,618.6 1579.6,617.0 1580.3,618.5 1579.9,620.2 1580.7,621.6 1580.2,623.3 1581.4,624.7 1580.9,626.4 1581.6,627.9 1581.3,629.5 1582.2,631.0 1581.6,632.7 1583.0,634.0 1582.7,635.7 1583.2,634.1 1582.8,632.5 1583.9,631.0 1583.6,629.4 1584.6,627.9 1584.1,626.2 1584.9,624.7 1584.7,623.1 1585.8,621.7 1585.3,620.0 1585.8,618.5 1585.5,620.1 1586.7,621.5 1586.1,623.2 1587.4,624.6 1586.6,626.3 1587.8,627.7 1587.4,629.3 1588.4,630.8 1587.9,632.4 1588.7,633.9 1588.1,635.6 1588.9,637.0 1588.6,635.4 1589.6,633.9 1588.9,632.3 1590.2,630.8 1589.7,629.2 1590.5,627.7 1590.0,626.0 1591.0,624.5 1590.5,622.9 1591.3,621.4 1590.8,619.7 1591.3,618.2 1592.4,616.8 1592.6,614.9 1593.8,613.5 1594.4,611.8 1595.1,613.2 1594.3,614.8 1595.3,616.2 1594.9,617.8 1595.5,619.2 1595.1,620.8 1596.0,622.2 1595.4,623.8 1596.4,625.2 1595.8,626.8 1597.1,628.1 1596.5,629.7 1597.3,631.1 1596.7,632.7 1597.7,634.1 1597.5,635.7 1598.2,634.2 1597.6,632.5 1598.4,631.0 1597.7,629.4 1598.5,627.9 1597.8,626.3 1598.8,624.8 1598.4,623.2 1598.9,621.6 1598.7,620.1 1599.6,618.6 1598.9,616.9 1599.7,615.4 1599.0,613.8 1600.1,612.3 1599.4,610.7 1599.8,609.2 1600.0,610.7 1600.8,612.1 1600.6,613.8 1601.6,615.2 1601.4,616.8 1602.5,618.2 1602.1,619.9 1602.9,621.3 1602.7,619.7 1604.1,618.5 1603.6,616.8 1604.7,615.5 1603.9,613.8 1605.4,612.6 1604.8,610.9 1605.9,609.6 1605.5,608.0 1606.0,606.6 1605.8,608.3 1607.0,609.7 1606.6,611.4 1607.4,612.9 1606.9,614.6 1608.0,616.1 1607.8,617.7 1608.8,619.2 1608.0,620.9 1609.1,622.4 1609.1,624.0 1609.1,625.6 1610.6,626.8 1609.9,628.6 1611.1,629.9 1610.8,631.6 1612.0,632.9 1611.9,634.5 1612.9,635.8 1613.0,637.4 1613.8,635.9 1613.2,634.2 1614.4,632.8 1614.0,631.1 1615.0,629.6 1614.3,627.9 1615.6,626.5 1615.1,624.8 1615.8,623.3 1615.5,621.6 1616.2,620.1 1616.2,621.8 1617.3,623.2 1616.8,624.9 1618.1,626.3 1617.6,628.0 1618.7,629.5 1618.1,631.3 1619.4,632.6 1619.1,634.3 1620.2,635.7 1620.0,637.4 1620.9,638.7 1622.6,639.1 1623.1,640.8 1624.7,641.2 1625.5,642.6 1626.1,641.1 1625.1,639.5 1626.1,638.0 1625.4,636.5 1626.0,635.0 1625.4,633.4 1626.2,631.9 1625.4,630.4 1626.3,628.9 1625.7,627.3 1626.4,625.8 1625.6,624.2 1626.6,622.8 1626.3,621.2 1626.8,622.7 1626.7,624.4 1627.5,625.9 1627.2,627.6 1628.3,629.0 1627.8,630.8 1629.0,632.2 1628.6,633.9 1629.6,635.4 1628.9,637.2 1630.4,638.5 1630.2,640.2 1630.8,638.7 1630.1,637.1 1631.1,635.7 1630.0,634.1 1630.9,632.6 1630.6,631.0 1631.2,629.6 1630.4,628.0 1631.5,626.5 1630.8,624.9 1631.6,623.5 1631.2,621.9 1631.9,620.4 1631.1,618.8 1631.7,617.3 1632.3,618.9 1634.1,619.6 1634.5,621.3 1635.6,622.4 1636.9,623.6 1637.2,625.6 1638.7,626.7 1638.3,625.1 1639.4,623.6 1638.7,622.0 1639.7,620.5 1639.1,618.9 1640.0,617.4 1639.1,615.7 1640.1,614.2 1639.5,612.6 1640.4,611.1 1639.5,609.5 1640.6,608.0 1639.9,606.4 1640.8,604.9 1640.0,603.3 1641.0,601.8 1640.4,600.2 1641.2,598.7 1641.0,597.1 1641.8,598.6 1640.9,600.3 1642.1,601.7 1641.5,603.3 1642.3,604.8 1642.0,606.4 1642.7,607.9 1642.2,609.6 1643.2,611.0 1642.4,612.7 1643.5,614.1 1642.8,615.8 1644.1,617.2 1643.3,618.9 1644.4,620.3 1644.2,621.9 1645.3,623.4 1647.0,624.1 1648.0,625.6 1649.0,624.2 1648.6,622.4 1649.9,621.1 1649.3,619.3 1650.7,618.0 1650.5,616.2 1651.2,614.8 1652.9,614.6 1654.2,613.5 1655.8,613.2 1655.8,614.7 1656.4,616.2 1656.2,617.8 1657.0,619.2 1656.5,620.8 1657.3,622.2 1656.8,623.8 1657.6,625.3 1657.3,626.9 1658.4,628.3 1657.7,629.9 1658.7,631.3 1658.0,632.9 1659.0,634.4 1658.2,636.0 1658.9,637.5 1659.1,635.9 1660.2,634.6 1659.6,632.8 1660.5,631.5 1660.4,629.8 1661.5,628.5 1661.0,626.8 1662.2,625.5 1662.1,623.9 1661.7,622.2 1663.0,620.8 1662.2,619.2 1663.3,617.7 1662.5,616.1 1663.7,614.6 1662.8,613.0 1663.7,611.5 1663.1,609.9 1664.5,608.4 1663.7,606.8 1664.7,605.3 1663.9,603.7 1665.1,602.2 1664.6,600.6 1665.5,599.2 1665.2,597.5 1666.3,596.4 1668.0,596.0 1669.1,594.7 1669.4,596.2 1668.7,597.8 1669.6,599.3 1669.2,600.9 1669.8,602.4 1669.2,604.0 1669.9,605.5 1669.1,607.1 1670.4,608.6 1669.4,610.2 1670.5,611.7 1669.6,613.3 1670.5,614.9 1669.8,616.4 1670.5,618.0 1670.2,619.5 1671.0,621.1 1670.1,622.7 1670.6,624.2 1670.3,622.6 1671.3,621.1 1670.5,619.5 1671.7,618.0 1670.8,616.3 1671.9,614.9 1671.1,613.2 1672.2,611.7 1671.3,610.1 1672.4,608.6 1671.8,607.0 1672.8,605.5 1672.1,603.8 1672.8,602.3 1672.5,600.7 1673.4,599.2 1672.9,597.6 1673.3,599.1 1672.6,600.8 1673.7,602.2 1672.9,603.9 1673.9,605.3 1673.3,606.9 1674.2,608.4 1673.7,610.0 1674.5,611.5 1673.9,613.1 1674.7,614.6 1674.2,616.2 1675.1,617.7 1674.5,619.3 1675.3,620.8 1674.7,622.4 1675.3,624.0 1674.8,625.6 1675.9,627.0 1675.1,628.7 1675.8,630.2 1675.3,631.8 1676.3,633.2 1675.3,634.9 1676.1,636.4 1676.0,634.8 1676.8,633.3 1676.4,631.6 1677.1,630.1 1676.4,628.5 1677.5,627.0 1676.8,625.3 1677.8,623.9 1677.1,622.2 1678.2,620.7 1677.5,619.1 1678.7,617.6 1677.9,615.9 1678.8,614.4 1678.4,612.8 1679.2,611.3 1678.4,609.6 1679.2,608.1 1679.0,609.7 1679.8,611.1 1679.2,612.7 1680.4,614.0 1679.6,615.7 1680.8,617.0 1680.0,618.7 1681.0,620.0 1680.4,621.6 1681.3,623.0 1680.7,624.6 1681.8,626.0 1681.5,627.6 1682.3,629.0 1681.6,630.6 1682.3,632.0 1681.9,630.4 1683.1,628.9 1682.3,627.3 1683.3,625.8 1683.1,624.2 1683.8,622.6 1683.4,621.0 1684.3,619.5 1683.5,617.8 1684.8,616.4 1684.0,614.7 1684.8,613.2 1684.4,611.6 1685.5,610.1 1684.7,608.4 1685.4,606.9 1685.4,608.5 1686.1,609.9 1685.7,611.5 1686.8,612.9 1686.0,614.6 1687.4,615.9 1686.6,617.6 1687.7,618.9 1687.1,620.6 1688.2,622.0 1687.8,623.6 1688.7,625.0 1688.1,626.6 1689.1,628.0 1688.8,629.6 1689.3,631.1 1691.1,630.1 1693.2,629.7 1693.9,628.2 1693.2,626.5 1694.1,625.1 1694.0,623.4 1694.7,621.9 1694.4,620.3 1695.3,618.8 1694.9,617.1 1695.8,615.7 1695.3,614.0 1696.5,612.6 1696.3,610.9 1697.0,612.5 1696.6,614.2 1697.7,615.7 1697.3,617.4 1698.4,618.9 1698.0,620.7 1698.9,622.2 1698.9,623.9 1699.4,625.4 1699.5,623.8 1700.5,622.3 1699.9,620.5 1701.1,619.1 1700.6,617.3 1701.7,615.8 1701.2,614.1 1702.2,612.6 1702.0,610.9 1702.5,609.3 1702.7,610.8 1703.6,612.2 1703.2,613.9 1704.5,615.2 1704.2,616.8 1705.2,618.2 1705.0,619.8 1705.6,621.3 1705.5,619.6 1706.7,618.2 1706.0,616.5 1707.0,615.1 1706.4,613.4 1707.3,611.9 1706.9,610.2 1707.9,608.8 1707.5,607.1 1708.4,605.6 1707.8,604.0 1708.8,602.5 1708.7,600.9 1709.4,602.3 1708.6,604.0 1709.8,605.4 1709.1,607.0 1710.3,608.3 1709.5,610.0 1710.6,611.4 1709.8,613.0 1711.0,614.4 1710.6,616.0 1711.2,617.4 1710.6,619.1 1711.7,620.4 1711.4,622.0 1711.8,623.5 1711.8,621.9 1712.4,620.5 1712.0,618.9 1712.8,617.4 1712.2,615.8 1713.2,614.4 1712.3,612.7 1713.3,611.3 1712.8,609.7 1713.6,608.2 1713.0,606.6 1713.9,605.2 1713.1,603.6 1714.2,602.1 1713.7,600.5 1714.7,599.1 1713.8,597.5 1714.8,596.0 1714.3,594.4 1715.0,593.0 1714.4,591.4 1715.0,589.9 1714.6,591.5 1715.8,592.9 1715.3,594.5 1715.8,596.0 1715.5,597.6 1716.3,599.1 1715.8,600.7 1716.8,602.2 1715.9,603.8 1716.8,605.3 1716.5,606.9 1717.2,608.4 1716.8,610.0 1717.5,611.5 1717.2,613.1 1718.1,614.5 1717.4,616.2 1718.3,617.6 1718.1,619.2 1718.9,617.7 1718.0,616.0 1719.3,614.6 1718.7,612.9 1719.6,611.4 1719.2,609.7 1720.1,608.3 1719.4,606.5 1720.4,605.1 1719.9,603.4 1721.0,601.9 1720.4,600.3 1721.2,598.8 1721.0,600.3 1722.0,601.7 1721.2,603.3 1722.1,604.7 1721.6,606.3 1722.4,607.7 1721.8,609.3 1722.7,610.7 1721.9,612.3 1722.7,613.7 1722.4,615.3 1723.3,616.7 1722.4,618.3 1723.2,619.7 1722.9,621.2 1723.6,622.7 1722.8,624.3 1723.5,625.7 1723.3,624.2 1724.2,622.7 1723.2,621.1 1724.0,619.6 1723.5,618.0 1724.3,616.5 1723.9,615.0 1724.7,613.5 1723.8,611.9 1724.5,610.4 1724.2,608.9 1724.8,607.4 1724.1,605.8 1725.2,604.3 1724.4,602.7 1725.1,601.2 1724.5,599.7 1725.3,598.2 1724.7,596.6 1725.5,595.1 1725.0,593.5 1725.8,592.0 1725.2,590.5 1726.0,589.0 1725.1,587.4 1726.0,585.9 1725.3,584.3 1726.0,582.8 1725.9,581.3 1726.2,582.8 1725.9,584.3 1726.5,585.7 1726.1,587.3 1726.9,588.7 1726.1,590.3 1726.9,591.7 1726.3,593.3 1727.3,594.7 1726.5,596.3 1727.6,597.7 1727.0,599.3 1727.7,600.7 1727.1,602.3 1728.0,603.7 1727.4,605.3 1728.1,606.7 1727.6,608.2 1728.4,609.7 1728.1,611.2 1728.6,612.7 1728.3,614.2 1729.2,615.7 1728.5,617.2 1729.0,618.7 1729.6,617.3 1731.0,616.4 1730.9,614.5 1732.1,613.4 1733.0,612.1 1732.5,610.3 1733.7,609.0 1733.3,607.2 1734.8,606.1 1734.3,604.3 1735.2,602.9 1736.0,601.5 1735.9,599.7 1737.3,598.5 1737.0,596.7 1738.3,595.4 1738.3,593.7 1738.9,595.2 1738.2,596.8 1739.0,598.3 1738.4,599.9 1739.6,601.4 1738.8,603.0 1739.6,604.5 1739.2,606.1 1740.2,607.6 1739.3,609.2 1740.4,610.7 1739.7,612.3 1740.7,613.8 1740.0,615.4 1741.0,616.9 1740.6,618.5 1741.2,620.0 1740.8,621.6 1741.7,623.0 1741.4,624.6 1742.0,623.1 1741.1,621.5 1742.4,620.0 1741.7,618.3 1742.6,616.8 1741.8,615.2 1742.9,613.7 1742.0,612.0 1743.0,610.6 1742.3,608.9 1743.5,607.4 1742.8,605.8 1743.8,604.3 1742.9,602.6 1743.7,601.1 1743.4,599.5 1743.7,598.0 1745.5,597.3 1746.9,596.0 1747.5,597.5 1746.8,599.0 1747.8,600.5 1747.2,602.0 1748.0,603.5 1747.2,605.1 1748.2,606.5 1747.5,608.1 1748.3,609.5 1747.9,611.1 1748.5,612.5 1748.1,614.1 1748.9,615.5 1748.4,617.1 1749.4,618.5 1748.5,620.1 1749.3,621.5 1748.9,623.1 1749.5,624.5 1749.0,626.1 1749.9,627.5 1749.4,629.1 1750.2,630.5 1750.0,632.1 1750.4,630.5 1749.8,628.9 1750.7,627.4 1750.4,625.8 1751.3,624.3 1750.4,622.6 1751.4,621.1 1750.9,619.5 1752.0,618.0 1751.2,616.3 1752.4,614.8 1751.6,613.2 1752.8,611.7 1751.9,610.0 1752.9,608.5 1752.3,606.9 1753.1,605.4 1753.1,603.8 1753.7,605.3 1753.3,606.9 1754.0,608.4 1753.6,610.0 1754.8,611.4 1754.2,613.1 1755.0,614.6 1754.5,616.2 1755.6,617.6 1755.0,619.3 1756.1,620.7 1755.7,622.4 1756.5,623.8 1755.8,625.5 1756.9,626.9 1756.3,628.6 1757.3,630.0 1757.0,631.7 1757.8,633.1 1757.7,634.7 1758.3,633.3 1757.7,631.7 1758.9,630.3 1758.1,628.7 1759.2,627.3 1758.4,625.7 1759.7,624.3 1759.1,622.7 1759.9,621.3 1759.6,619.7 1760.3,618.3 1760.0,616.7 1760.8,615.3 1760.4,613.7 1760.9,612.3 1760.7,613.9 1761.6,615.3 1761.4,616.9 1762.2,618.3 1761.6,619.9 1762.9,621.3 1762.1,622.9 1763.4,624.3 1762.6,626.0 1763.8,627.3 1763.4,628.9 1764.2,630.3 1763.7,632.0 1765.0,633.3 1764.8,634.9 1765.5,636.6 1767.2,637.5 1767.9,639.2 1768.5,637.7 1768.0,636.1 1768.6,634.5 1768.3,632.9 1769.0,631.4 1768.6,629.8 1769.4,628.3 1768.8,626.6 1769.8,625.1 1769.0,623.4 1769.9,621.9 1769.2,620.3 1770.3,618.8 1769.9,617.2 1770.2,615.6 1770.9,614.2 1770.7,612.5 1771.5,611.1 1771.1,609.5 1772.1,608.1 1771.7,606.4 1773.2,605.1 1772.6,603.4 1773.3,602.0 1773.0,603.6 1774.2,605.1 1773.5,606.8 1774.3,608.3 1773.7,609.9 1775.0,611.4 1774.3,613.0 1775.4,614.5 1774.6,616.2 1775.5,617.7 1775.2,619.3 1776.2,620.8 1775.3,622.5 1776.3,624.0 1775.9,625.6 1776.8,627.1 1776.6,628.7 1777.1,627.2 1776.6,625.6 1777.5,624.2 1777.2,622.6 1777.8,621.1 1777.4,619.5 1778.4,618.0 1778.0,616.4 1778.8,615.0 1778.4,613.3 1779.2,611.9 1778.6,610.2 1779.6,608.8 1779.0,607.2 1779.7,605.7 1779.5,607.3 1780.5,608.8 1779.6,610.4 1780.8,611.9 1779.9,613.5 1781.0,615.0 1780.4,616.6 1781.5,618.1 1781.0,619.7 1781.8,621.2 1781.2,622.8 1782.1,624.3 1781.4,626.0 1782.5,627.4 1782.0,629.0 1782.7,630.5 1781.9,632.2 1783.1,633.6 1782.8,635.2 1783.4,633.8 1782.9,632.2 1783.7,630.7 1783.4,629.2 1784.0,627.7 1783.4,626.1 1784.4,624.7 1783.9,623.1 1784.9,621.7 1784.4,620.1 1785.3,618.7 1784.7,617.1 1785.9,615.7 1785.0,614.0 1786.2,612.6 1785.9,611.1 1786.6,612.6 1786.0,614.2 1787.1,615.6 1786.6,617.3 1787.7,618.7 1787.1,620.4 1788.0,621.8 1787.6,623.5 1788.5,624.9 1788.1,626.5 1789.1,628.0 1788.4,629.6 1789.0,631.1 1788.7,629.6 1789.9,628.2 1789.0,626.5 1790.2,625.1 1789.7,623.6 1790.6,622.1 1789.9,620.5 1790.7,619.1 1790.4,617.5 1791.2,616.1 1790.5,614.5 1791.7,613.1 1791.0,611.4 1792.1,610.0 1791.2,608.4 1792.2,607.0 1791.7,605.4 1792.8,604.0 1792.2,602.4 1793.2,601.0 1792.6,599.4 1792.9,597.9 1792.6,599.5 1793.7,600.9 1792.9,602.5 1794.1,603.9 1793.4,605.5 1794.5,606.9 1793.7,608.5 1794.7,609.9 1794.0,611.5 1795.0,612.9 1794.4,614.5 1795.3,615.9 1794.7,617.5 1795.8,618.9 1795.0,620.5 1795.8,622.0 1795.6,623.5 1796.4,625.0 1795.7,626.6 1796.5,628.0 1796.3,629.6 1796.9,631.0 1796.8,632.6 1797.3,631.1 1796.9,629.5 1797.8,628.1 1797.1,626.4 1798.0,625.0 1797.6,623.4 1798.5,622.0 1797.8,620.4 1798.8,619.0 1798.3,617.4 1799.0,615.9 1798.8,614.3 1799.7,612.9 1798.9,611.3 1800.1,609.9 1799.4,608.3 1799.9,606.8 1799.8,608.4 1800.9,609.7 1800.5,611.4 1801.6,612.7 1801.3,614.3 1802.4,615.6 1802.1,617.3 1803.2,618.6 1802.6,620.3 1803.9,621.5 1803.8,623.1 1805.0,621.9 1805.2,620.3 1806.4,619.1 1806.8,617.5 1808.0,616.4 1808.5,614.8 1810.3,616.0 1811.6,617.6 1811.7,619.2 1812.5,620.7 1812.3,622.4 1813.1,623.9 1812.8,625.7 1814.0,627.1 1813.3,628.9 1814.6,630.3 1814.2,632.0 1814.7,633.6 1814.5,632.0 1815.6,630.6 1814.6,629.0 1815.5,627.6 1815.1,626.1 1815.9,624.6 1815.5,623.1 1816.1,621.6 1815.8,620.1 1816.4,618.6 1816.0,617.1 1817.1,615.7 1816.1,614.0 1817.3,612.6 1816.4,611.0 1817.1,609.6 1818.1,608.4 1818.3,606.6 1819.6,605.6 1819.9,603.9 1821.1,602.8 1821.7,601.3 1822.4,602.7 1821.8,604.3 1822.5,605.8 1822.1,607.4 1823.0,608.8 1822.6,610.4 1823.6,611.8 1822.7,613.5 1823.6,614.9 1823.3,616.5 1824.3,617.9 1823.3,619.5 1824.4,621.0 1823.9,622.5 1824.8,624.0 1824.4,625.6 1824.8,627.0 1824.8,625.4 1826.0,624.1 1825.7,622.4 1827.0,621.2 1826.6,619.4 1827.8,618.1 1827.7,616.5 1828.9,615.2 1828.7,613.5 1829.9,614.6 1830.6,616.2 1831.8,617.3 1833.1,618.6 1833.2,620.6 1835.0,621.6 1835.3,623.6 1836.5,624.9 1836.6,623.3 1837.3,621.8 1836.8,620.1 1838.1,618.7 1837.2,616.9 1838.6,615.5 1837.7,613.7 1838.9,612.3 1838.6,610.6 1839.6,609.1 1839.2,607.4 1839.6,605.9 1841.4,607.0 1843.5,607.3 1844.2,608.8 1843.6,610.5 1844.3,612.0 1844.0,613.6 1844.8,615.1 1844.2,616.8 1845.1,618.2 1844.5,619.9 1845.5,621.4 1845.0,623.0 1845.7,624.5 1845.3,626.2 1846.2,627.7 1845.8,629.3 1846.8,630.8 1845.9,632.5 1846.6,634.0 1846.6,632.4 1847.4,630.9 1846.9,629.2 1848.0,627.8 1847.4,626.1 1848.7,624.8 1848.0,623.1 1849.0,621.6 1848.6,620.0 1849.6,618.6 1848.9,616.8 1850.0,615.4 1849.6,613.8 1850.6,612.3 1850.5,610.7 1850.2,609.1 1851.3,607.7 1850.9,606.0 1851.7,604.6 1851.2,602.9 1852.2,601.5 1851.6,599.8 1852.6,598.4 1852.5,596.8 1853.2,595.3 1852.8,593.6 1853.9,592.2 1853.6,590.6 1854.5,588.8 1856.4,588.0 1857.5,586.4 1858.1,587.9 1857.7,589.5 1858.7,590.9 1858.2,592.6 1859.0,594.0 1858.6,595.6 1859.7,597.0 1858.9,598.7 1860.1,600.0 1859.4,601.7 1860.4,603.1 1860.0,604.7 1860.6,606.2 1861.6,607.7 1861.6,609.5 1862.7,610.9 1862.9,612.7 1863.7,614.2 1863.5,612.6 1864.6,611.2 1864.0,609.5 1865.1,608.1 1864.4,606.5 1865.4,605.0 1864.8,603.4 1866.0,602.0 1865.5,600.3 1866.5,598.9 1865.9,597.3 1866.7,595.8 1866.3,594.2 1866.8,592.7 1867.9,591.4 1867.8,589.6 1869.1,588.4 1868.9,586.6 1870.0,585.3"/><clipPath id="mel-datac0"><rect x="148" y="500" width="1723" height="200"/></clipPath><clipPath id="mel-datac1"><rect x="148" y="515" width="1723" height="185"/></clipPath><clipPath id="mel-datac2"><rect x="148" y="530" width="1723" height="170"/></clipPath><clipPath id="mel-datac3"><rect x="148" y="545" width="1723" height="155"/></clipPath><clipPath id="mel-datac4"><rect x="148" y="560" width="1723" height="140"/></clipPath></defs>
<g id="curve-mel" fill="none" stroke="#ff0000" stroke-linejoin="round">
<use href="#mel-data" stroke-width="6.7" clip-path="url(#plot)"/>
<use href="#mel-data" stroke-width="7.0" clip-path="url(#mel-datac0)"/>
<use href="#mel-data" stroke-width="7.3" clip-path="url(#mel-datac1)"/>
<use href="#mel-data" stroke-width="7.5" clip-path="url(#mel-datac2)"/>
<use href="#mel-data" stroke-width="7.7" clip-path="url(#mel-datac3)"/>
<use href="#mel-data" stroke-width="7.9" clip-path="url(#mel-datac4)"/>
</g>
<text transform="translate(206.0,321.5) rotate(90)" font-size="54" text-anchor="start" style="font-kerning:none">(001)</text>
<text transform="translate(318.0,373.0) rotate(90)" font-size="54" text-anchor="start" style="font-kerning:none">(<tspan style="font-family:'Liberation Sans',sans-serif" font-size="52" dx="-1.2">−</tspan><tspan dx="-2.2">111)</tspan></text>
<text transform="translate(405.5,231.5) rotate(90)" font-size="54" text-anchor="start" style="font-kerning:none">(<tspan style="font-family:'Liberation Sans',sans-serif" font-size="52" dx="-1.2">−</tspan><tspan dx="-2.2">202)</tspan></text>
<text transform="translate(476.0,220.7) rotate(90)" font-size="54" text-anchor="start" style="font-kerning:none">(210)</text>
<text transform="translate(578.0,385.5) rotate(90)" font-size="54" text-anchor="start" style="font-kerning:none">(201)</text>
<text transform="translate(660.6,48.8) rotate(90)" font-size="54" text-anchor="start" style="font-kerning:none">(<tspan style="font-family:'Liberation Sans',sans-serif" font-size="52" dx="-1.2">−</tspan><tspan dx="-2.2">221)</tspan></text>
<text transform="translate(789.5,339.6) rotate(90)" font-size="54" text-anchor="start" style="font-kerning:none">(022)</text>
<text transform="translate(919.0,374.6) rotate(90)" font-size="54" text-anchor="start" style="font-kerning:none">(202)</text>
<text transform="translate(608.8,935.0) rotate(90)" font-size="54" text-anchor="start" style="font-kerning:none">(110)</text>
<text transform="translate(622.5,644.2) rotate(90)" font-size="54" text-anchor="start" style="font-kerning:none">(<tspan style="font-family:'Liberation Sans',sans-serif" font-size="52" dx="-1.2">−</tspan><tspan dx="-2.2">111)</tspan></text>
<text transform="translate(809.7,713.8) rotate(90)" font-size="54" text-anchor="start" style="font-kerning:none">(111)</text>
<text transform="translate(965.7,859.0) rotate(90)" font-size="54" text-anchor="start" style="font-kerning:none">(<tspan style="font-family:'Liberation Sans',sans-serif" font-size="52" dx="-1.2">−</tspan><tspan dx="-2.2">202)</tspan></text>
<text transform="translate(1250.2,915.0) rotate(90)" font-size="54" text-anchor="start" style="font-kerning:none">(202)</text>
<text transform="translate(1326.4,887.0) rotate(90)" font-size="54" text-anchor="start" style="font-kerning:none">(<tspan style="font-family:'Liberation Sans',sans-serif" font-size="52" dx="-1.2">−</tspan><tspan dx="-2.2">113)</tspan></text>
<text transform="translate(1389.4,882.7) rotate(90)" font-size="54" text-anchor="start" style="font-kerning:none">(220)</text>
<text x="231.6" y="512.8" font-size="40" text-anchor="middle" style="font-family:'Noto Sans CJK SC','DejaVu Sans',sans-serif;font-weight:normal">♣</text>
<text x="338.0" y="564.6" font-size="40" text-anchor="middle" style="font-family:'Noto Sans CJK SC','DejaVu Sans',sans-serif;font-weight:normal">♣</text>
<text x="437.4" y="424.9" font-size="40" text-anchor="middle" style="font-family:'Noto Sans CJK SC','DejaVu Sans',sans-serif;font-weight:normal">♣</text>
<text x="479.3" y="363.4" font-size="40" text-anchor="middle" style="font-family:'Noto Sans CJK SC','DejaVu Sans',sans-serif;font-weight:normal">♣</text>
<text x="599.6" y="571.8" font-size="40" text-anchor="middle" style="font-family:'Noto Sans CJK SC','DejaVu Sans',sans-serif;font-weight:normal">♣</text>
<text x="674.6" y="239.5" font-size="40" text-anchor="middle" style="font-family:'Noto Sans CJK SC','DejaVu Sans',sans-serif;font-weight:normal">♣</text>
<text x="801.4" y="521.8" font-size="40" text-anchor="middle" style="font-family:'Noto Sans CJK SC','DejaVu Sans',sans-serif;font-weight:normal">♣</text>
<text x="934.5" y="560.7" font-size="40" text-anchor="middle" style="font-family:'Noto Sans CJK SC','DejaVu Sans',sans-serif;font-weight:normal">♣</text>
<text transform="translate(633.0,1084.8) scale(1.055,1)" font-size="48.0" text-anchor="middle" style="font-family:'DejaVu Sans',sans-serif;font-weight:normal">♦</text>
<text transform="translate(697.5,693.1) scale(1.055,1)" font-size="48.0" text-anchor="middle" style="font-family:'DejaVu Sans',sans-serif;font-weight:normal">♦</text>
<text transform="translate(768.0,739.8) scale(1.055,1)" font-size="48.0" text-anchor="middle" style="font-family:'DejaVu Sans',sans-serif;font-weight:normal">♦</text>
<text transform="translate(983.0,1038.7) scale(1.055,1)" font-size="48.0" text-anchor="middle" style="font-family:'DejaVu Sans',sans-serif;font-weight:normal">♦</text>
<text transform="translate(1263.7,1081.9) scale(1.055,1)" font-size="48.0" text-anchor="middle" style="font-family:'DejaVu Sans',sans-serif;font-weight:normal">♦</text>
<text transform="translate(1350.8,1091.6) scale(1.055,1)" font-size="48.0" text-anchor="middle" style="font-family:'DejaVu Sans',sans-serif;font-weight:normal">♦</text>
<text transform="translate(1406.8,1069.8) scale(1.055,1)" font-size="48.0" text-anchor="middle" style="font-family:'DejaVu Sans',sans-serif;font-weight:normal">♦</text>
<text transform="translate(1340.8,1264.8) scale(1.055,1)" font-size="45.8" text-anchor="middle" style="font-family:'DejaVu Sans',sans-serif;font-weight:normal">♦</text>
<text x="1363.3" y="1264.0" font-size="57.2" text-anchor="start" style="font-kerning:none">PDF#72-0629 CuO</text>
<text x="1229.1" y="1432.5" font-size="44.3" text-anchor="middle" style="font-family:'Noto Sans CJK SC','DejaVu Sans',sans-serif;font-weight:normal">♣</text>
<text x="1271.3" y="1435.0" font-size="55.6" text-anchor="start" style="font-kerning:none"><tspan x="1271.3">PDF#76-0754Cu</tspan><tspan x="1663.8" y="1451.5" font-size="36.5">2</tspan><tspan x="1682.4" y="1435" font-size="57">O</tspan><tspan x="1727.3" y="1436" font-size="68" style="font-weight:normal">(</tspan><tspan x="1747.7" y="1435" font-size="56">S</tspan><tspan x="1779" font-size="56">O</tspan><tspan x="1823.2" y="1451.5" font-size="36.5">4</tspan><tspan x="1840.8" y="1436" font-size="68" style="font-weight:normal">)</tspan></text>
<text x="1317.6" y="395.6" font-size="72.6" text-anchor="start" style="font-kerning:none">MEL-Cu-6HNA</text>
<text x="1607.4" y="1050.0" font-size="88.5" text-anchor="start" style="font-kerning:none">CuO</text>
<text transform="translate(82.5,990.0) rotate(-90)" font-size="74.3" text-anchor="start" style="font-kerning:none">Intensity(a.u.)</text>
<text x="839.5" y="1670.0" font-size="74.5" text-anchor="start" style="font-kerning:none"><tspan x="839.5">2</tspan><tspan x="880" style="font-weight:normal">θ</tspan><tspan x="917.8">(degree)</tspan></text>
<text x="144.0" y="1570.4" font-size="61.3" text-anchor="middle" style="font-kerning:none">10</text>
<text x="359.2" y="1570.4" font-size="61.3" text-anchor="middle" style="font-kerning:none">20</text>
<text x="574.4" y="1570.4" font-size="61.3" text-anchor="middle" style="font-kerning:none">30</text>
<text x="789.6" y="1570.4" font-size="61.3" text-anchor="middle" style="font-kerning:none">40</text>
<text x="1004.8" y="1570.4" font-size="61.3" text-anchor="middle" style="font-kerning:none">50</text>
<text x="1220.0" y="1570.4" font-size="61.3" text-anchor="middle" style="font-kerning:none">60</text>
<text x="1435.2" y="1570.4" font-size="61.3" text-anchor="middle" style="font-kerning:none">70</text>
<text x="1650.4" y="1570.4" font-size="61.3" text-anchor="middle" style="font-kerning:none">80</text>
<text x="1865.6" y="1570.4" font-size="61.3" text-anchor="middle" style="font-kerning:none">90</text>
</svg></body></html>
